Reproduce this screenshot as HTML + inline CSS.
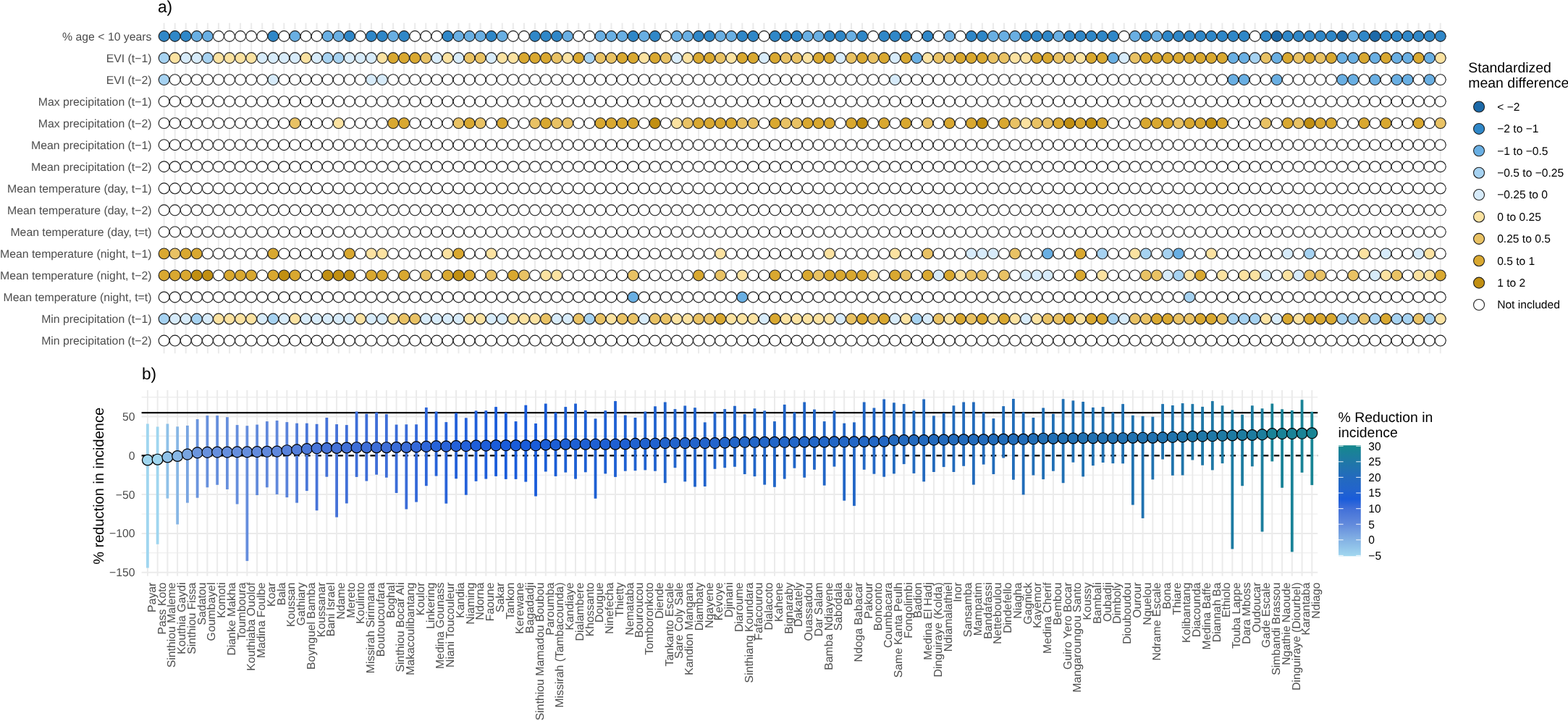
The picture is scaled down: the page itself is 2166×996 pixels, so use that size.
<!DOCTYPE html><html><head><meta charset="utf-8"><title>Figure</title><style>html,body{margin:0;padding:0;background:#fff;}svg{display:block;}text{font-family:'Liberation Sans', Arial, Helvetica, sans-serif;text-rendering:geometricPrecision;}</style></head><body>
<svg width="2166" height="996" viewBox="0 0 2166 996">
<rect width="2166" height="996" fill="#fff"/>
<g>
<line x1="226.60" y1="31.7" x2="226.60" y2="488.2" stroke="#ebebeb" stroke-width="2"/>
<line x1="241.67" y1="31.7" x2="241.67" y2="488.2" stroke="#ebebeb" stroke-width="2"/>
<line x1="256.74" y1="31.7" x2="256.74" y2="488.2" stroke="#ebebeb" stroke-width="2"/>
<line x1="271.81" y1="31.7" x2="271.81" y2="488.2" stroke="#ebebeb" stroke-width="2"/>
<line x1="286.88" y1="31.7" x2="286.88" y2="488.2" stroke="#ebebeb" stroke-width="2"/>
<line x1="301.95" y1="31.7" x2="301.95" y2="488.2" stroke="#ebebeb" stroke-width="2"/>
<line x1="317.02" y1="31.7" x2="317.02" y2="488.2" stroke="#ebebeb" stroke-width="2"/>
<line x1="332.09" y1="31.7" x2="332.09" y2="488.2" stroke="#ebebeb" stroke-width="2"/>
<line x1="347.16" y1="31.7" x2="347.16" y2="488.2" stroke="#ebebeb" stroke-width="2"/>
<line x1="362.23" y1="31.7" x2="362.23" y2="488.2" stroke="#ebebeb" stroke-width="2"/>
<line x1="377.30" y1="31.7" x2="377.30" y2="488.2" stroke="#ebebeb" stroke-width="2"/>
<line x1="392.37" y1="31.7" x2="392.37" y2="488.2" stroke="#ebebeb" stroke-width="2"/>
<line x1="407.44" y1="31.7" x2="407.44" y2="488.2" stroke="#ebebeb" stroke-width="2"/>
<line x1="422.51" y1="31.7" x2="422.51" y2="488.2" stroke="#ebebeb" stroke-width="2"/>
<line x1="437.58" y1="31.7" x2="437.58" y2="488.2" stroke="#ebebeb" stroke-width="2"/>
<line x1="452.65" y1="31.7" x2="452.65" y2="488.2" stroke="#ebebeb" stroke-width="2"/>
<line x1="467.72" y1="31.7" x2="467.72" y2="488.2" stroke="#ebebeb" stroke-width="2"/>
<line x1="482.79" y1="31.7" x2="482.79" y2="488.2" stroke="#ebebeb" stroke-width="2"/>
<line x1="497.86" y1="31.7" x2="497.86" y2="488.2" stroke="#ebebeb" stroke-width="2"/>
<line x1="512.93" y1="31.7" x2="512.93" y2="488.2" stroke="#ebebeb" stroke-width="2"/>
<line x1="528.00" y1="31.7" x2="528.00" y2="488.2" stroke="#ebebeb" stroke-width="2"/>
<line x1="543.07" y1="31.7" x2="543.07" y2="488.2" stroke="#ebebeb" stroke-width="2"/>
<line x1="558.14" y1="31.7" x2="558.14" y2="488.2" stroke="#ebebeb" stroke-width="2"/>
<line x1="573.21" y1="31.7" x2="573.21" y2="488.2" stroke="#ebebeb" stroke-width="2"/>
<line x1="588.28" y1="31.7" x2="588.28" y2="488.2" stroke="#ebebeb" stroke-width="2"/>
<line x1="603.35" y1="31.7" x2="603.35" y2="488.2" stroke="#ebebeb" stroke-width="2"/>
<line x1="618.42" y1="31.7" x2="618.42" y2="488.2" stroke="#ebebeb" stroke-width="2"/>
<line x1="633.49" y1="31.7" x2="633.49" y2="488.2" stroke="#ebebeb" stroke-width="2"/>
<line x1="648.56" y1="31.7" x2="648.56" y2="488.2" stroke="#ebebeb" stroke-width="2"/>
<line x1="663.63" y1="31.7" x2="663.63" y2="488.2" stroke="#ebebeb" stroke-width="2"/>
<line x1="678.70" y1="31.7" x2="678.70" y2="488.2" stroke="#ebebeb" stroke-width="2"/>
<line x1="693.77" y1="31.7" x2="693.77" y2="488.2" stroke="#ebebeb" stroke-width="2"/>
<line x1="708.84" y1="31.7" x2="708.84" y2="488.2" stroke="#ebebeb" stroke-width="2"/>
<line x1="723.91" y1="31.7" x2="723.91" y2="488.2" stroke="#ebebeb" stroke-width="2"/>
<line x1="738.98" y1="31.7" x2="738.98" y2="488.2" stroke="#ebebeb" stroke-width="2"/>
<line x1="754.05" y1="31.7" x2="754.05" y2="488.2" stroke="#ebebeb" stroke-width="2"/>
<line x1="769.12" y1="31.7" x2="769.12" y2="488.2" stroke="#ebebeb" stroke-width="2"/>
<line x1="784.19" y1="31.7" x2="784.19" y2="488.2" stroke="#ebebeb" stroke-width="2"/>
<line x1="799.26" y1="31.7" x2="799.26" y2="488.2" stroke="#ebebeb" stroke-width="2"/>
<line x1="814.33" y1="31.7" x2="814.33" y2="488.2" stroke="#ebebeb" stroke-width="2"/>
<line x1="829.40" y1="31.7" x2="829.40" y2="488.2" stroke="#ebebeb" stroke-width="2"/>
<line x1="844.47" y1="31.7" x2="844.47" y2="488.2" stroke="#ebebeb" stroke-width="2"/>
<line x1="859.54" y1="31.7" x2="859.54" y2="488.2" stroke="#ebebeb" stroke-width="2"/>
<line x1="874.61" y1="31.7" x2="874.61" y2="488.2" stroke="#ebebeb" stroke-width="2"/>
<line x1="889.68" y1="31.7" x2="889.68" y2="488.2" stroke="#ebebeb" stroke-width="2"/>
<line x1="904.75" y1="31.7" x2="904.75" y2="488.2" stroke="#ebebeb" stroke-width="2"/>
<line x1="919.82" y1="31.7" x2="919.82" y2="488.2" stroke="#ebebeb" stroke-width="2"/>
<line x1="934.89" y1="31.7" x2="934.89" y2="488.2" stroke="#ebebeb" stroke-width="2"/>
<line x1="949.96" y1="31.7" x2="949.96" y2="488.2" stroke="#ebebeb" stroke-width="2"/>
<line x1="965.03" y1="31.7" x2="965.03" y2="488.2" stroke="#ebebeb" stroke-width="2"/>
<line x1="980.10" y1="31.7" x2="980.10" y2="488.2" stroke="#ebebeb" stroke-width="2"/>
<line x1="995.17" y1="31.7" x2="995.17" y2="488.2" stroke="#ebebeb" stroke-width="2"/>
<line x1="1010.24" y1="31.7" x2="1010.24" y2="488.2" stroke="#ebebeb" stroke-width="2"/>
<line x1="1025.31" y1="31.7" x2="1025.31" y2="488.2" stroke="#ebebeb" stroke-width="2"/>
<line x1="1040.38" y1="31.7" x2="1040.38" y2="488.2" stroke="#ebebeb" stroke-width="2"/>
<line x1="1055.45" y1="31.7" x2="1055.45" y2="488.2" stroke="#ebebeb" stroke-width="2"/>
<line x1="1070.52" y1="31.7" x2="1070.52" y2="488.2" stroke="#ebebeb" stroke-width="2"/>
<line x1="1085.59" y1="31.7" x2="1085.59" y2="488.2" stroke="#ebebeb" stroke-width="2"/>
<line x1="1100.66" y1="31.7" x2="1100.66" y2="488.2" stroke="#ebebeb" stroke-width="2"/>
<line x1="1115.73" y1="31.7" x2="1115.73" y2="488.2" stroke="#ebebeb" stroke-width="2"/>
<line x1="1130.80" y1="31.7" x2="1130.80" y2="488.2" stroke="#ebebeb" stroke-width="2"/>
<line x1="1145.87" y1="31.7" x2="1145.87" y2="488.2" stroke="#ebebeb" stroke-width="2"/>
<line x1="1160.94" y1="31.7" x2="1160.94" y2="488.2" stroke="#ebebeb" stroke-width="2"/>
<line x1="1176.01" y1="31.7" x2="1176.01" y2="488.2" stroke="#ebebeb" stroke-width="2"/>
<line x1="1191.08" y1="31.7" x2="1191.08" y2="488.2" stroke="#ebebeb" stroke-width="2"/>
<line x1="1206.15" y1="31.7" x2="1206.15" y2="488.2" stroke="#ebebeb" stroke-width="2"/>
<line x1="1221.22" y1="31.7" x2="1221.22" y2="488.2" stroke="#ebebeb" stroke-width="2"/>
<line x1="1236.29" y1="31.7" x2="1236.29" y2="488.2" stroke="#ebebeb" stroke-width="2"/>
<line x1="1251.36" y1="31.7" x2="1251.36" y2="488.2" stroke="#ebebeb" stroke-width="2"/>
<line x1="1266.43" y1="31.7" x2="1266.43" y2="488.2" stroke="#ebebeb" stroke-width="2"/>
<line x1="1281.50" y1="31.7" x2="1281.50" y2="488.2" stroke="#ebebeb" stroke-width="2"/>
<line x1="1296.57" y1="31.7" x2="1296.57" y2="488.2" stroke="#ebebeb" stroke-width="2"/>
<line x1="1311.64" y1="31.7" x2="1311.64" y2="488.2" stroke="#ebebeb" stroke-width="2"/>
<line x1="1326.71" y1="31.7" x2="1326.71" y2="488.2" stroke="#ebebeb" stroke-width="2"/>
<line x1="1341.78" y1="31.7" x2="1341.78" y2="488.2" stroke="#ebebeb" stroke-width="2"/>
<line x1="1356.85" y1="31.7" x2="1356.85" y2="488.2" stroke="#ebebeb" stroke-width="2"/>
<line x1="1371.92" y1="31.7" x2="1371.92" y2="488.2" stroke="#ebebeb" stroke-width="2"/>
<line x1="1386.99" y1="31.7" x2="1386.99" y2="488.2" stroke="#ebebeb" stroke-width="2"/>
<line x1="1402.06" y1="31.7" x2="1402.06" y2="488.2" stroke="#ebebeb" stroke-width="2"/>
<line x1="1417.13" y1="31.7" x2="1417.13" y2="488.2" stroke="#ebebeb" stroke-width="2"/>
<line x1="1432.20" y1="31.7" x2="1432.20" y2="488.2" stroke="#ebebeb" stroke-width="2"/>
<line x1="1447.27" y1="31.7" x2="1447.27" y2="488.2" stroke="#ebebeb" stroke-width="2"/>
<line x1="1462.34" y1="31.7" x2="1462.34" y2="488.2" stroke="#ebebeb" stroke-width="2"/>
<line x1="1477.41" y1="31.7" x2="1477.41" y2="488.2" stroke="#ebebeb" stroke-width="2"/>
<line x1="1492.48" y1="31.7" x2="1492.48" y2="488.2" stroke="#ebebeb" stroke-width="2"/>
<line x1="1507.55" y1="31.7" x2="1507.55" y2="488.2" stroke="#ebebeb" stroke-width="2"/>
<line x1="1522.62" y1="31.7" x2="1522.62" y2="488.2" stroke="#ebebeb" stroke-width="2"/>
<line x1="1537.69" y1="31.7" x2="1537.69" y2="488.2" stroke="#ebebeb" stroke-width="2"/>
<line x1="1552.76" y1="31.7" x2="1552.76" y2="488.2" stroke="#ebebeb" stroke-width="2"/>
<line x1="1567.83" y1="31.7" x2="1567.83" y2="488.2" stroke="#ebebeb" stroke-width="2"/>
<line x1="1582.90" y1="31.7" x2="1582.90" y2="488.2" stroke="#ebebeb" stroke-width="2"/>
<line x1="1597.97" y1="31.7" x2="1597.97" y2="488.2" stroke="#ebebeb" stroke-width="2"/>
<line x1="1613.04" y1="31.7" x2="1613.04" y2="488.2" stroke="#ebebeb" stroke-width="2"/>
<line x1="1628.11" y1="31.7" x2="1628.11" y2="488.2" stroke="#ebebeb" stroke-width="2"/>
<line x1="1643.18" y1="31.7" x2="1643.18" y2="488.2" stroke="#ebebeb" stroke-width="2"/>
<line x1="1658.25" y1="31.7" x2="1658.25" y2="488.2" stroke="#ebebeb" stroke-width="2"/>
<line x1="1673.32" y1="31.7" x2="1673.32" y2="488.2" stroke="#ebebeb" stroke-width="2"/>
<line x1="1688.39" y1="31.7" x2="1688.39" y2="488.2" stroke="#ebebeb" stroke-width="2"/>
<line x1="1703.46" y1="31.7" x2="1703.46" y2="488.2" stroke="#ebebeb" stroke-width="2"/>
<line x1="1718.53" y1="31.7" x2="1718.53" y2="488.2" stroke="#ebebeb" stroke-width="2"/>
<line x1="1733.60" y1="31.7" x2="1733.60" y2="488.2" stroke="#ebebeb" stroke-width="2"/>
<line x1="1748.67" y1="31.7" x2="1748.67" y2="488.2" stroke="#ebebeb" stroke-width="2"/>
<line x1="1763.74" y1="31.7" x2="1763.74" y2="488.2" stroke="#ebebeb" stroke-width="2"/>
<line x1="1778.81" y1="31.7" x2="1778.81" y2="488.2" stroke="#ebebeb" stroke-width="2"/>
<line x1="1793.88" y1="31.7" x2="1793.88" y2="488.2" stroke="#ebebeb" stroke-width="2"/>
<line x1="1808.95" y1="31.7" x2="1808.95" y2="488.2" stroke="#ebebeb" stroke-width="2"/>
<line x1="1824.02" y1="31.7" x2="1824.02" y2="488.2" stroke="#ebebeb" stroke-width="2"/>
<line x1="1839.09" y1="31.7" x2="1839.09" y2="488.2" stroke="#ebebeb" stroke-width="2"/>
<line x1="1854.16" y1="31.7" x2="1854.16" y2="488.2" stroke="#ebebeb" stroke-width="2"/>
<line x1="1869.23" y1="31.7" x2="1869.23" y2="488.2" stroke="#ebebeb" stroke-width="2"/>
<line x1="1884.30" y1="31.7" x2="1884.30" y2="488.2" stroke="#ebebeb" stroke-width="2"/>
<line x1="1899.37" y1="31.7" x2="1899.37" y2="488.2" stroke="#ebebeb" stroke-width="2"/>
<line x1="1914.44" y1="31.7" x2="1914.44" y2="488.2" stroke="#ebebeb" stroke-width="2"/>
<line x1="1929.51" y1="31.7" x2="1929.51" y2="488.2" stroke="#ebebeb" stroke-width="2"/>
<line x1="1944.58" y1="31.7" x2="1944.58" y2="488.2" stroke="#ebebeb" stroke-width="2"/>
<line x1="1959.65" y1="31.7" x2="1959.65" y2="488.2" stroke="#ebebeb" stroke-width="2"/>
<line x1="1974.72" y1="31.7" x2="1974.72" y2="488.2" stroke="#ebebeb" stroke-width="2"/>
<line x1="1989.79" y1="31.7" x2="1989.79" y2="488.2" stroke="#ebebeb" stroke-width="2"/>
<line x1="217.56" y1="50.00" x2="1998.83" y2="50.00" stroke="#ebebeb" stroke-width="2"/>
<line x1="217.56" y1="80.04" x2="1998.83" y2="80.04" stroke="#ebebeb" stroke-width="2"/>
<line x1="217.56" y1="110.08" x2="1998.83" y2="110.08" stroke="#ebebeb" stroke-width="2"/>
<line x1="217.56" y1="140.12" x2="1998.83" y2="140.12" stroke="#ebebeb" stroke-width="2"/>
<line x1="217.56" y1="170.16" x2="1998.83" y2="170.16" stroke="#ebebeb" stroke-width="2"/>
<line x1="217.56" y1="200.20" x2="1998.83" y2="200.20" stroke="#ebebeb" stroke-width="2"/>
<line x1="217.56" y1="230.24" x2="1998.83" y2="230.24" stroke="#ebebeb" stroke-width="2"/>
<line x1="217.56" y1="260.28" x2="1998.83" y2="260.28" stroke="#ebebeb" stroke-width="2"/>
<line x1="217.56" y1="290.32" x2="1998.83" y2="290.32" stroke="#ebebeb" stroke-width="2"/>
<line x1="217.56" y1="320.36" x2="1998.83" y2="320.36" stroke="#ebebeb" stroke-width="2"/>
<line x1="217.56" y1="350.40" x2="1998.83" y2="350.40" stroke="#ebebeb" stroke-width="2"/>
<line x1="217.56" y1="380.44" x2="1998.83" y2="380.44" stroke="#ebebeb" stroke-width="2"/>
<line x1="217.56" y1="410.48" x2="1998.83" y2="410.48" stroke="#ebebeb" stroke-width="2"/>
<line x1="217.56" y1="440.52" x2="1998.83" y2="440.52" stroke="#ebebeb" stroke-width="2"/>
<line x1="217.56" y1="470.56" x2="1998.83" y2="470.56" stroke="#ebebeb" stroke-width="2"/>
</g>
<g stroke="#1f1f1f" stroke-width="1.1">
<circle cx="226.60" cy="50.00" r="7.4" fill="#2f87c8"/>
<circle cx="241.67" cy="50.00" r="7.4" fill="#2f87c8"/>
<circle cx="256.74" cy="50.00" r="7.4" fill="#2f87c8"/>
<circle cx="271.81" cy="50.00" r="7.4" fill="#69afe3"/>
<circle cx="286.88" cy="50.00" r="7.4" fill="#69afe3"/>
<circle cx="301.95" cy="50.00" r="7.4" fill="#ffffff"/>
<circle cx="317.02" cy="50.00" r="7.4" fill="#ffffff"/>
<circle cx="332.09" cy="50.00" r="7.4" fill="#ffffff"/>
<circle cx="347.16" cy="50.00" r="7.4" fill="#ffffff"/>
<circle cx="362.23" cy="50.00" r="7.4" fill="#ffffff"/>
<circle cx="377.30" cy="50.00" r="7.4" fill="#2f87c8"/>
<circle cx="392.37" cy="50.00" r="7.4" fill="#ffffff"/>
<circle cx="407.44" cy="50.00" r="7.4" fill="#69afe3"/>
<circle cx="422.51" cy="50.00" r="7.4" fill="#ffffff"/>
<circle cx="437.58" cy="50.00" r="7.4" fill="#ffffff"/>
<circle cx="452.65" cy="50.00" r="7.4" fill="#69afe3"/>
<circle cx="467.72" cy="50.00" r="7.4" fill="#69afe3"/>
<circle cx="482.79" cy="50.00" r="7.4" fill="#2f87c8"/>
<circle cx="497.86" cy="50.00" r="7.4" fill="#ffffff"/>
<circle cx="512.93" cy="50.00" r="7.4" fill="#2f87c8"/>
<circle cx="528.00" cy="50.00" r="7.4" fill="#2f87c8"/>
<circle cx="543.07" cy="50.00" r="7.4" fill="#69afe3"/>
<circle cx="558.14" cy="50.00" r="7.4" fill="#2f87c8"/>
<circle cx="573.21" cy="50.00" r="7.4" fill="#ffffff"/>
<circle cx="588.28" cy="50.00" r="7.4" fill="#ffffff"/>
<circle cx="603.35" cy="50.00" r="7.4" fill="#ffffff"/>
<circle cx="618.42" cy="50.00" r="7.4" fill="#2f87c8"/>
<circle cx="633.49" cy="50.00" r="7.4" fill="#69afe3"/>
<circle cx="648.56" cy="50.00" r="7.4" fill="#69afe3"/>
<circle cx="663.63" cy="50.00" r="7.4" fill="#69afe3"/>
<circle cx="678.70" cy="50.00" r="7.4" fill="#2f87c8"/>
<circle cx="693.77" cy="50.00" r="7.4" fill="#69afe3"/>
<circle cx="708.84" cy="50.00" r="7.4" fill="#ffffff"/>
<circle cx="723.91" cy="50.00" r="7.4" fill="#ffffff"/>
<circle cx="738.98" cy="50.00" r="7.4" fill="#2f87c8"/>
<circle cx="754.05" cy="50.00" r="7.4" fill="#2f87c8"/>
<circle cx="769.12" cy="50.00" r="7.4" fill="#2f87c8"/>
<circle cx="784.19" cy="50.00" r="7.4" fill="#69afe3"/>
<circle cx="799.26" cy="50.00" r="7.4" fill="#ffffff"/>
<circle cx="814.33" cy="50.00" r="7.4" fill="#ffffff"/>
<circle cx="829.40" cy="50.00" r="7.4" fill="#69afe3"/>
<circle cx="844.47" cy="50.00" r="7.4" fill="#69afe3"/>
<circle cx="859.54" cy="50.00" r="7.4" fill="#69afe3"/>
<circle cx="874.61" cy="50.00" r="7.4" fill="#2f87c8"/>
<circle cx="889.68" cy="50.00" r="7.4" fill="#69afe3"/>
<circle cx="904.75" cy="50.00" r="7.4" fill="#2f87c8"/>
<circle cx="919.82" cy="50.00" r="7.4" fill="#ffffff"/>
<circle cx="934.89" cy="50.00" r="7.4" fill="#69afe3"/>
<circle cx="949.96" cy="50.00" r="7.4" fill="#69afe3"/>
<circle cx="965.03" cy="50.00" r="7.4" fill="#2f87c8"/>
<circle cx="980.10" cy="50.00" r="7.4" fill="#2f87c8"/>
<circle cx="995.17" cy="50.00" r="7.4" fill="#69afe3"/>
<circle cx="1010.24" cy="50.00" r="7.4" fill="#69afe3"/>
<circle cx="1025.31" cy="50.00" r="7.4" fill="#2f87c8"/>
<circle cx="1040.38" cy="50.00" r="7.4" fill="#2f87c8"/>
<circle cx="1055.45" cy="50.00" r="7.4" fill="#ffffff"/>
<circle cx="1070.52" cy="50.00" r="7.4" fill="#2f87c8"/>
<circle cx="1085.59" cy="50.00" r="7.4" fill="#2f87c8"/>
<circle cx="1100.66" cy="50.00" r="7.4" fill="#2f87c8"/>
<circle cx="1115.73" cy="50.00" r="7.4" fill="#69afe3"/>
<circle cx="1130.80" cy="50.00" r="7.4" fill="#69afe3"/>
<circle cx="1145.87" cy="50.00" r="7.4" fill="#2f87c8"/>
<circle cx="1160.94" cy="50.00" r="7.4" fill="#2f87c8"/>
<circle cx="1176.01" cy="50.00" r="7.4" fill="#69afe3"/>
<circle cx="1191.08" cy="50.00" r="7.4" fill="#2f87c8"/>
<circle cx="1206.15" cy="50.00" r="7.4" fill="#ffffff"/>
<circle cx="1221.22" cy="50.00" r="7.4" fill="#2f87c8"/>
<circle cx="1236.29" cy="50.00" r="7.4" fill="#2f87c8"/>
<circle cx="1251.36" cy="50.00" r="7.4" fill="#2f87c8"/>
<circle cx="1266.43" cy="50.00" r="7.4" fill="#ffffff"/>
<circle cx="1281.50" cy="50.00" r="7.4" fill="#2f87c8"/>
<circle cx="1296.57" cy="50.00" r="7.4" fill="#ffffff"/>
<circle cx="1311.64" cy="50.00" r="7.4" fill="#69afe3"/>
<circle cx="1326.71" cy="50.00" r="7.4" fill="#ffffff"/>
<circle cx="1341.78" cy="50.00" r="7.4" fill="#2f87c8"/>
<circle cx="1356.85" cy="50.00" r="7.4" fill="#2f87c8"/>
<circle cx="1371.92" cy="50.00" r="7.4" fill="#69afe3"/>
<circle cx="1386.99" cy="50.00" r="7.4" fill="#69afe3"/>
<circle cx="1402.06" cy="50.00" r="7.4" fill="#69afe3"/>
<circle cx="1417.13" cy="50.00" r="7.4" fill="#2f87c8"/>
<circle cx="1432.20" cy="50.00" r="7.4" fill="#2f87c8"/>
<circle cx="1447.27" cy="50.00" r="7.4" fill="#2f87c8"/>
<circle cx="1462.34" cy="50.00" r="7.4" fill="#69afe3"/>
<circle cx="1477.41" cy="50.00" r="7.4" fill="#2f87c8"/>
<circle cx="1492.48" cy="50.00" r="7.4" fill="#2f87c8"/>
<circle cx="1507.55" cy="50.00" r="7.4" fill="#2f87c8"/>
<circle cx="1522.62" cy="50.00" r="7.4" fill="#2f87c8"/>
<circle cx="1537.69" cy="50.00" r="7.4" fill="#2f87c8"/>
<circle cx="1552.76" cy="50.00" r="7.4" fill="#ffffff"/>
<circle cx="1567.83" cy="50.00" r="7.4" fill="#69afe3"/>
<circle cx="1582.90" cy="50.00" r="7.4" fill="#2f87c8"/>
<circle cx="1597.97" cy="50.00" r="7.4" fill="#69afe3"/>
<circle cx="1613.04" cy="50.00" r="7.4" fill="#2f87c8"/>
<circle cx="1628.11" cy="50.00" r="7.4" fill="#2f87c8"/>
<circle cx="1643.18" cy="50.00" r="7.4" fill="#2f87c8"/>
<circle cx="1658.25" cy="50.00" r="7.4" fill="#2f87c8"/>
<circle cx="1673.32" cy="50.00" r="7.4" fill="#2f87c8"/>
<circle cx="1688.39" cy="50.00" r="7.4" fill="#2f87c8"/>
<circle cx="1703.46" cy="50.00" r="7.4" fill="#2f87c8"/>
<circle cx="1718.53" cy="50.00" r="7.4" fill="#2f87c8"/>
<circle cx="1733.60" cy="50.00" r="7.4" fill="#ffffff"/>
<circle cx="1748.67" cy="50.00" r="7.4" fill="#2f87c8"/>
<circle cx="1763.74" cy="50.00" r="7.4" fill="#1c69a8"/>
<circle cx="1778.81" cy="50.00" r="7.4" fill="#2f87c8"/>
<circle cx="1793.88" cy="50.00" r="7.4" fill="#2f87c8"/>
<circle cx="1808.95" cy="50.00" r="7.4" fill="#2f87c8"/>
<circle cx="1824.02" cy="50.00" r="7.4" fill="#2f87c8"/>
<circle cx="1839.09" cy="50.00" r="7.4" fill="#2f87c8"/>
<circle cx="1854.16" cy="50.00" r="7.4" fill="#1c69a8"/>
<circle cx="1869.23" cy="50.00" r="7.4" fill="#69afe3"/>
<circle cx="1884.30" cy="50.00" r="7.4" fill="#2f87c8"/>
<circle cx="1899.37" cy="50.00" r="7.4" fill="#1c69a8"/>
<circle cx="1914.44" cy="50.00" r="7.4" fill="#2f87c8"/>
<circle cx="1929.51" cy="50.00" r="7.4" fill="#2f87c8"/>
<circle cx="1944.58" cy="50.00" r="7.4" fill="#2f87c8"/>
<circle cx="1959.65" cy="50.00" r="7.4" fill="#2f87c8"/>
<circle cx="1974.72" cy="50.00" r="7.4" fill="#2f87c8"/>
<circle cx="1989.79" cy="50.00" r="7.4" fill="#2f87c8"/>
<circle cx="226.60" cy="80.04" r="7.4" fill="#a6d2f1"/>
<circle cx="241.67" cy="80.04" r="7.4" fill="#fbe2a1"/>
<circle cx="256.74" cy="80.04" r="7.4" fill="#d7ebfa"/>
<circle cx="271.81" cy="80.04" r="7.4" fill="#d7ebfa"/>
<circle cx="286.88" cy="80.04" r="7.4" fill="#a6d2f1"/>
<circle cx="301.95" cy="80.04" r="7.4" fill="#fbe2a1"/>
<circle cx="317.02" cy="80.04" r="7.4" fill="#fbe2a1"/>
<circle cx="332.09" cy="80.04" r="7.4" fill="#fbe2a1"/>
<circle cx="347.16" cy="80.04" r="7.4" fill="#fbe2a1"/>
<circle cx="362.23" cy="80.04" r="7.4" fill="#d7ebfa"/>
<circle cx="377.30" cy="80.04" r="7.4" fill="#d7ebfa"/>
<circle cx="392.37" cy="80.04" r="7.4" fill="#d7ebfa"/>
<circle cx="407.44" cy="80.04" r="7.4" fill="#d7ebfa"/>
<circle cx="422.51" cy="80.04" r="7.4" fill="#fbe2a1"/>
<circle cx="437.58" cy="80.04" r="7.4" fill="#d7ebfa"/>
<circle cx="452.65" cy="80.04" r="7.4" fill="#a6d2f1"/>
<circle cx="467.72" cy="80.04" r="7.4" fill="#a6d2f1"/>
<circle cx="482.79" cy="80.04" r="7.4" fill="#d7ebfa"/>
<circle cx="497.86" cy="80.04" r="7.4" fill="#d7ebfa"/>
<circle cx="512.93" cy="80.04" r="7.4" fill="#d7ebfa"/>
<circle cx="528.00" cy="80.04" r="7.4" fill="#fbe2a1"/>
<circle cx="543.07" cy="80.04" r="7.4" fill="#d9a830"/>
<circle cx="558.14" cy="80.04" r="7.4" fill="#d9a830"/>
<circle cx="573.21" cy="80.04" r="7.4" fill="#d9a830"/>
<circle cx="588.28" cy="80.04" r="7.4" fill="#e9c264"/>
<circle cx="603.35" cy="80.04" r="7.4" fill="#d7ebfa"/>
<circle cx="618.42" cy="80.04" r="7.4" fill="#fbe2a1"/>
<circle cx="633.49" cy="80.04" r="7.4" fill="#d7ebfa"/>
<circle cx="648.56" cy="80.04" r="7.4" fill="#e9c264"/>
<circle cx="663.63" cy="80.04" r="7.4" fill="#e9c264"/>
<circle cx="678.70" cy="80.04" r="7.4" fill="#d7ebfa"/>
<circle cx="693.77" cy="80.04" r="7.4" fill="#fbe2a1"/>
<circle cx="708.84" cy="80.04" r="7.4" fill="#fbe2a1"/>
<circle cx="723.91" cy="80.04" r="7.4" fill="#d9a830"/>
<circle cx="738.98" cy="80.04" r="7.4" fill="#d9a830"/>
<circle cx="754.05" cy="80.04" r="7.4" fill="#d9a830"/>
<circle cx="769.12" cy="80.04" r="7.4" fill="#e9c264"/>
<circle cx="784.19" cy="80.04" r="7.4" fill="#fbe2a1"/>
<circle cx="799.26" cy="80.04" r="7.4" fill="#d9a830"/>
<circle cx="814.33" cy="80.04" r="7.4" fill="#a6d2f1"/>
<circle cx="829.40" cy="80.04" r="7.4" fill="#e9c264"/>
<circle cx="844.47" cy="80.04" r="7.4" fill="#e9c264"/>
<circle cx="859.54" cy="80.04" r="7.4" fill="#d9a830"/>
<circle cx="874.61" cy="80.04" r="7.4" fill="#d9a830"/>
<circle cx="889.68" cy="80.04" r="7.4" fill="#fbe2a1"/>
<circle cx="904.75" cy="80.04" r="7.4" fill="#d9a830"/>
<circle cx="919.82" cy="80.04" r="7.4" fill="#e9c264"/>
<circle cx="934.89" cy="80.04" r="7.4" fill="#d7ebfa"/>
<circle cx="949.96" cy="80.04" r="7.4" fill="#fbe2a1"/>
<circle cx="965.03" cy="80.04" r="7.4" fill="#d9a830"/>
<circle cx="980.10" cy="80.04" r="7.4" fill="#d9a830"/>
<circle cx="995.17" cy="80.04" r="7.4" fill="#e9c264"/>
<circle cx="1010.24" cy="80.04" r="7.4" fill="#fbe2a1"/>
<circle cx="1025.31" cy="80.04" r="7.4" fill="#d9a830"/>
<circle cx="1040.38" cy="80.04" r="7.4" fill="#d9a830"/>
<circle cx="1055.45" cy="80.04" r="7.4" fill="#d7ebfa"/>
<circle cx="1070.52" cy="80.04" r="7.4" fill="#d9a830"/>
<circle cx="1085.59" cy="80.04" r="7.4" fill="#e9c264"/>
<circle cx="1100.66" cy="80.04" r="7.4" fill="#e9c264"/>
<circle cx="1115.73" cy="80.04" r="7.4" fill="#fbe2a1"/>
<circle cx="1130.80" cy="80.04" r="7.4" fill="#d9a830"/>
<circle cx="1145.87" cy="80.04" r="7.4" fill="#d9a830"/>
<circle cx="1160.94" cy="80.04" r="7.4" fill="#d7ebfa"/>
<circle cx="1176.01" cy="80.04" r="7.4" fill="#e9c264"/>
<circle cx="1191.08" cy="80.04" r="7.4" fill="#d9a830"/>
<circle cx="1206.15" cy="80.04" r="7.4" fill="#e9c264"/>
<circle cx="1221.22" cy="80.04" r="7.4" fill="#d9a830"/>
<circle cx="1236.29" cy="80.04" r="7.4" fill="#d7ebfa"/>
<circle cx="1251.36" cy="80.04" r="7.4" fill="#d9a830"/>
<circle cx="1266.43" cy="80.04" r="7.4" fill="#69afe3"/>
<circle cx="1281.50" cy="80.04" r="7.4" fill="#fbe2a1"/>
<circle cx="1296.57" cy="80.04" r="7.4" fill="#e9c264"/>
<circle cx="1311.64" cy="80.04" r="7.4" fill="#e9c264"/>
<circle cx="1326.71" cy="80.04" r="7.4" fill="#d9a830"/>
<circle cx="1341.78" cy="80.04" r="7.4" fill="#d9a830"/>
<circle cx="1356.85" cy="80.04" r="7.4" fill="#d9a830"/>
<circle cx="1371.92" cy="80.04" r="7.4" fill="#e9c264"/>
<circle cx="1386.99" cy="80.04" r="7.4" fill="#e9c264"/>
<circle cx="1402.06" cy="80.04" r="7.4" fill="#fbe2a1"/>
<circle cx="1417.13" cy="80.04" r="7.4" fill="#fbe2a1"/>
<circle cx="1432.20" cy="80.04" r="7.4" fill="#d9a830"/>
<circle cx="1447.27" cy="80.04" r="7.4" fill="#d9a830"/>
<circle cx="1462.34" cy="80.04" r="7.4" fill="#e9c264"/>
<circle cx="1477.41" cy="80.04" r="7.4" fill="#e9c264"/>
<circle cx="1492.48" cy="80.04" r="7.4" fill="#fbe2a1"/>
<circle cx="1507.55" cy="80.04" r="7.4" fill="#d9a830"/>
<circle cx="1522.62" cy="80.04" r="7.4" fill="#d9a830"/>
<circle cx="1537.69" cy="80.04" r="7.4" fill="#69afe3"/>
<circle cx="1552.76" cy="80.04" r="7.4" fill="#d7ebfa"/>
<circle cx="1567.83" cy="80.04" r="7.4" fill="#e9c264"/>
<circle cx="1582.90" cy="80.04" r="7.4" fill="#d9a830"/>
<circle cx="1597.97" cy="80.04" r="7.4" fill="#d9a830"/>
<circle cx="1613.04" cy="80.04" r="7.4" fill="#d9a830"/>
<circle cx="1628.11" cy="80.04" r="7.4" fill="#d9a830"/>
<circle cx="1643.18" cy="80.04" r="7.4" fill="#d9a830"/>
<circle cx="1658.25" cy="80.04" r="7.4" fill="#d9a830"/>
<circle cx="1673.32" cy="80.04" r="7.4" fill="#d9a830"/>
<circle cx="1688.39" cy="80.04" r="7.4" fill="#d9a830"/>
<circle cx="1703.46" cy="80.04" r="7.4" fill="#69afe3"/>
<circle cx="1718.53" cy="80.04" r="7.4" fill="#69afe3"/>
<circle cx="1733.60" cy="80.04" r="7.4" fill="#a6d2f1"/>
<circle cx="1748.67" cy="80.04" r="7.4" fill="#e9c264"/>
<circle cx="1763.74" cy="80.04" r="7.4" fill="#69afe3"/>
<circle cx="1778.81" cy="80.04" r="7.4" fill="#d9a830"/>
<circle cx="1793.88" cy="80.04" r="7.4" fill="#e9c264"/>
<circle cx="1808.95" cy="80.04" r="7.4" fill="#d9a830"/>
<circle cx="1824.02" cy="80.04" r="7.4" fill="#e9c264"/>
<circle cx="1839.09" cy="80.04" r="7.4" fill="#d9a830"/>
<circle cx="1854.16" cy="80.04" r="7.4" fill="#69afe3"/>
<circle cx="1869.23" cy="80.04" r="7.4" fill="#69afe3"/>
<circle cx="1884.30" cy="80.04" r="7.4" fill="#d9a830"/>
<circle cx="1899.37" cy="80.04" r="7.4" fill="#69afe3"/>
<circle cx="1914.44" cy="80.04" r="7.4" fill="#d9a830"/>
<circle cx="1929.51" cy="80.04" r="7.4" fill="#69afe3"/>
<circle cx="1944.58" cy="80.04" r="7.4" fill="#69afe3"/>
<circle cx="1959.65" cy="80.04" r="7.4" fill="#d9a830"/>
<circle cx="1974.72" cy="80.04" r="7.4" fill="#69afe3"/>
<circle cx="1989.79" cy="80.04" r="7.4" fill="#fbe2a1"/>
<circle cx="226.60" cy="110.08" r="7.4" fill="#a6d2f1"/>
<circle cx="241.67" cy="110.08" r="7.4" fill="#ffffff"/>
<circle cx="256.74" cy="110.08" r="7.4" fill="#ffffff"/>
<circle cx="271.81" cy="110.08" r="7.4" fill="#ffffff"/>
<circle cx="286.88" cy="110.08" r="7.4" fill="#ffffff"/>
<circle cx="301.95" cy="110.08" r="7.4" fill="#ffffff"/>
<circle cx="317.02" cy="110.08" r="7.4" fill="#ffffff"/>
<circle cx="332.09" cy="110.08" r="7.4" fill="#ffffff"/>
<circle cx="347.16" cy="110.08" r="7.4" fill="#ffffff"/>
<circle cx="362.23" cy="110.08" r="7.4" fill="#ffffff"/>
<circle cx="377.30" cy="110.08" r="7.4" fill="#d7ebfa"/>
<circle cx="392.37" cy="110.08" r="7.4" fill="#ffffff"/>
<circle cx="407.44" cy="110.08" r="7.4" fill="#ffffff"/>
<circle cx="422.51" cy="110.08" r="7.4" fill="#ffffff"/>
<circle cx="437.58" cy="110.08" r="7.4" fill="#ffffff"/>
<circle cx="452.65" cy="110.08" r="7.4" fill="#ffffff"/>
<circle cx="467.72" cy="110.08" r="7.4" fill="#ffffff"/>
<circle cx="482.79" cy="110.08" r="7.4" fill="#ffffff"/>
<circle cx="497.86" cy="110.08" r="7.4" fill="#ffffff"/>
<circle cx="512.93" cy="110.08" r="7.4" fill="#d7ebfa"/>
<circle cx="528.00" cy="110.08" r="7.4" fill="#d7ebfa"/>
<circle cx="543.07" cy="110.08" r="7.4" fill="#ffffff"/>
<circle cx="558.14" cy="110.08" r="7.4" fill="#ffffff"/>
<circle cx="573.21" cy="110.08" r="7.4" fill="#ffffff"/>
<circle cx="588.28" cy="110.08" r="7.4" fill="#ffffff"/>
<circle cx="603.35" cy="110.08" r="7.4" fill="#ffffff"/>
<circle cx="618.42" cy="110.08" r="7.4" fill="#ffffff"/>
<circle cx="633.49" cy="110.08" r="7.4" fill="#ffffff"/>
<circle cx="648.56" cy="110.08" r="7.4" fill="#ffffff"/>
<circle cx="663.63" cy="110.08" r="7.4" fill="#ffffff"/>
<circle cx="678.70" cy="110.08" r="7.4" fill="#ffffff"/>
<circle cx="693.77" cy="110.08" r="7.4" fill="#ffffff"/>
<circle cx="708.84" cy="110.08" r="7.4" fill="#ffffff"/>
<circle cx="723.91" cy="110.08" r="7.4" fill="#ffffff"/>
<circle cx="738.98" cy="110.08" r="7.4" fill="#ffffff"/>
<circle cx="754.05" cy="110.08" r="7.4" fill="#ffffff"/>
<circle cx="769.12" cy="110.08" r="7.4" fill="#ffffff"/>
<circle cx="784.19" cy="110.08" r="7.4" fill="#ffffff"/>
<circle cx="799.26" cy="110.08" r="7.4" fill="#ffffff"/>
<circle cx="814.33" cy="110.08" r="7.4" fill="#ffffff"/>
<circle cx="829.40" cy="110.08" r="7.4" fill="#ffffff"/>
<circle cx="844.47" cy="110.08" r="7.4" fill="#ffffff"/>
<circle cx="859.54" cy="110.08" r="7.4" fill="#ffffff"/>
<circle cx="874.61" cy="110.08" r="7.4" fill="#ffffff"/>
<circle cx="889.68" cy="110.08" r="7.4" fill="#ffffff"/>
<circle cx="904.75" cy="110.08" r="7.4" fill="#ffffff"/>
<circle cx="919.82" cy="110.08" r="7.4" fill="#ffffff"/>
<circle cx="934.89" cy="110.08" r="7.4" fill="#ffffff"/>
<circle cx="949.96" cy="110.08" r="7.4" fill="#ffffff"/>
<circle cx="965.03" cy="110.08" r="7.4" fill="#ffffff"/>
<circle cx="980.10" cy="110.08" r="7.4" fill="#ffffff"/>
<circle cx="995.17" cy="110.08" r="7.4" fill="#ffffff"/>
<circle cx="1010.24" cy="110.08" r="7.4" fill="#ffffff"/>
<circle cx="1025.31" cy="110.08" r="7.4" fill="#ffffff"/>
<circle cx="1040.38" cy="110.08" r="7.4" fill="#ffffff"/>
<circle cx="1055.45" cy="110.08" r="7.4" fill="#ffffff"/>
<circle cx="1070.52" cy="110.08" r="7.4" fill="#ffffff"/>
<circle cx="1085.59" cy="110.08" r="7.4" fill="#ffffff"/>
<circle cx="1100.66" cy="110.08" r="7.4" fill="#ffffff"/>
<circle cx="1115.73" cy="110.08" r="7.4" fill="#ffffff"/>
<circle cx="1130.80" cy="110.08" r="7.4" fill="#ffffff"/>
<circle cx="1145.87" cy="110.08" r="7.4" fill="#ffffff"/>
<circle cx="1160.94" cy="110.08" r="7.4" fill="#ffffff"/>
<circle cx="1176.01" cy="110.08" r="7.4" fill="#ffffff"/>
<circle cx="1191.08" cy="110.08" r="7.4" fill="#ffffff"/>
<circle cx="1206.15" cy="110.08" r="7.4" fill="#ffffff"/>
<circle cx="1221.22" cy="110.08" r="7.4" fill="#ffffff"/>
<circle cx="1236.29" cy="110.08" r="7.4" fill="#d7ebfa"/>
<circle cx="1251.36" cy="110.08" r="7.4" fill="#ffffff"/>
<circle cx="1266.43" cy="110.08" r="7.4" fill="#ffffff"/>
<circle cx="1281.50" cy="110.08" r="7.4" fill="#ffffff"/>
<circle cx="1296.57" cy="110.08" r="7.4" fill="#ffffff"/>
<circle cx="1311.64" cy="110.08" r="7.4" fill="#ffffff"/>
<circle cx="1326.71" cy="110.08" r="7.4" fill="#ffffff"/>
<circle cx="1341.78" cy="110.08" r="7.4" fill="#ffffff"/>
<circle cx="1356.85" cy="110.08" r="7.4" fill="#ffffff"/>
<circle cx="1371.92" cy="110.08" r="7.4" fill="#ffffff"/>
<circle cx="1386.99" cy="110.08" r="7.4" fill="#ffffff"/>
<circle cx="1402.06" cy="110.08" r="7.4" fill="#ffffff"/>
<circle cx="1417.13" cy="110.08" r="7.4" fill="#ffffff"/>
<circle cx="1432.20" cy="110.08" r="7.4" fill="#ffffff"/>
<circle cx="1447.27" cy="110.08" r="7.4" fill="#ffffff"/>
<circle cx="1462.34" cy="110.08" r="7.4" fill="#ffffff"/>
<circle cx="1477.41" cy="110.08" r="7.4" fill="#ffffff"/>
<circle cx="1492.48" cy="110.08" r="7.4" fill="#ffffff"/>
<circle cx="1507.55" cy="110.08" r="7.4" fill="#ffffff"/>
<circle cx="1522.62" cy="110.08" r="7.4" fill="#ffffff"/>
<circle cx="1537.69" cy="110.08" r="7.4" fill="#ffffff"/>
<circle cx="1552.76" cy="110.08" r="7.4" fill="#ffffff"/>
<circle cx="1567.83" cy="110.08" r="7.4" fill="#ffffff"/>
<circle cx="1582.90" cy="110.08" r="7.4" fill="#ffffff"/>
<circle cx="1597.97" cy="110.08" r="7.4" fill="#ffffff"/>
<circle cx="1613.04" cy="110.08" r="7.4" fill="#ffffff"/>
<circle cx="1628.11" cy="110.08" r="7.4" fill="#ffffff"/>
<circle cx="1643.18" cy="110.08" r="7.4" fill="#ffffff"/>
<circle cx="1658.25" cy="110.08" r="7.4" fill="#ffffff"/>
<circle cx="1673.32" cy="110.08" r="7.4" fill="#ffffff"/>
<circle cx="1688.39" cy="110.08" r="7.4" fill="#ffffff"/>
<circle cx="1703.46" cy="110.08" r="7.4" fill="#69afe3"/>
<circle cx="1718.53" cy="110.08" r="7.4" fill="#69afe3"/>
<circle cx="1733.60" cy="110.08" r="7.4" fill="#ffffff"/>
<circle cx="1748.67" cy="110.08" r="7.4" fill="#ffffff"/>
<circle cx="1763.74" cy="110.08" r="7.4" fill="#69afe3"/>
<circle cx="1778.81" cy="110.08" r="7.4" fill="#ffffff"/>
<circle cx="1793.88" cy="110.08" r="7.4" fill="#ffffff"/>
<circle cx="1808.95" cy="110.08" r="7.4" fill="#ffffff"/>
<circle cx="1824.02" cy="110.08" r="7.4" fill="#ffffff"/>
<circle cx="1839.09" cy="110.08" r="7.4" fill="#ffffff"/>
<circle cx="1854.16" cy="110.08" r="7.4" fill="#69afe3"/>
<circle cx="1869.23" cy="110.08" r="7.4" fill="#69afe3"/>
<circle cx="1884.30" cy="110.08" r="7.4" fill="#ffffff"/>
<circle cx="1899.37" cy="110.08" r="7.4" fill="#69afe3"/>
<circle cx="1914.44" cy="110.08" r="7.4" fill="#ffffff"/>
<circle cx="1929.51" cy="110.08" r="7.4" fill="#69afe3"/>
<circle cx="1944.58" cy="110.08" r="7.4" fill="#69afe3"/>
<circle cx="1959.65" cy="110.08" r="7.4" fill="#ffffff"/>
<circle cx="1974.72" cy="110.08" r="7.4" fill="#69afe3"/>
<circle cx="1989.79" cy="110.08" r="7.4" fill="#ffffff"/>
<circle cx="226.60" cy="140.12" r="7.4" fill="#ffffff"/>
<circle cx="241.67" cy="140.12" r="7.4" fill="#ffffff"/>
<circle cx="256.74" cy="140.12" r="7.4" fill="#ffffff"/>
<circle cx="271.81" cy="140.12" r="7.4" fill="#ffffff"/>
<circle cx="286.88" cy="140.12" r="7.4" fill="#ffffff"/>
<circle cx="301.95" cy="140.12" r="7.4" fill="#ffffff"/>
<circle cx="317.02" cy="140.12" r="7.4" fill="#ffffff"/>
<circle cx="332.09" cy="140.12" r="7.4" fill="#ffffff"/>
<circle cx="347.16" cy="140.12" r="7.4" fill="#ffffff"/>
<circle cx="362.23" cy="140.12" r="7.4" fill="#ffffff"/>
<circle cx="377.30" cy="140.12" r="7.4" fill="#ffffff"/>
<circle cx="392.37" cy="140.12" r="7.4" fill="#ffffff"/>
<circle cx="407.44" cy="140.12" r="7.4" fill="#ffffff"/>
<circle cx="422.51" cy="140.12" r="7.4" fill="#ffffff"/>
<circle cx="437.58" cy="140.12" r="7.4" fill="#ffffff"/>
<circle cx="452.65" cy="140.12" r="7.4" fill="#ffffff"/>
<circle cx="467.72" cy="140.12" r="7.4" fill="#ffffff"/>
<circle cx="482.79" cy="140.12" r="7.4" fill="#ffffff"/>
<circle cx="497.86" cy="140.12" r="7.4" fill="#ffffff"/>
<circle cx="512.93" cy="140.12" r="7.4" fill="#ffffff"/>
<circle cx="528.00" cy="140.12" r="7.4" fill="#ffffff"/>
<circle cx="543.07" cy="140.12" r="7.4" fill="#ffffff"/>
<circle cx="558.14" cy="140.12" r="7.4" fill="#ffffff"/>
<circle cx="573.21" cy="140.12" r="7.4" fill="#ffffff"/>
<circle cx="588.28" cy="140.12" r="7.4" fill="#ffffff"/>
<circle cx="603.35" cy="140.12" r="7.4" fill="#ffffff"/>
<circle cx="618.42" cy="140.12" r="7.4" fill="#ffffff"/>
<circle cx="633.49" cy="140.12" r="7.4" fill="#ffffff"/>
<circle cx="648.56" cy="140.12" r="7.4" fill="#ffffff"/>
<circle cx="663.63" cy="140.12" r="7.4" fill="#ffffff"/>
<circle cx="678.70" cy="140.12" r="7.4" fill="#ffffff"/>
<circle cx="693.77" cy="140.12" r="7.4" fill="#ffffff"/>
<circle cx="708.84" cy="140.12" r="7.4" fill="#ffffff"/>
<circle cx="723.91" cy="140.12" r="7.4" fill="#ffffff"/>
<circle cx="738.98" cy="140.12" r="7.4" fill="#ffffff"/>
<circle cx="754.05" cy="140.12" r="7.4" fill="#ffffff"/>
<circle cx="769.12" cy="140.12" r="7.4" fill="#ffffff"/>
<circle cx="784.19" cy="140.12" r="7.4" fill="#ffffff"/>
<circle cx="799.26" cy="140.12" r="7.4" fill="#ffffff"/>
<circle cx="814.33" cy="140.12" r="7.4" fill="#ffffff"/>
<circle cx="829.40" cy="140.12" r="7.4" fill="#ffffff"/>
<circle cx="844.47" cy="140.12" r="7.4" fill="#ffffff"/>
<circle cx="859.54" cy="140.12" r="7.4" fill="#ffffff"/>
<circle cx="874.61" cy="140.12" r="7.4" fill="#ffffff"/>
<circle cx="889.68" cy="140.12" r="7.4" fill="#ffffff"/>
<circle cx="904.75" cy="140.12" r="7.4" fill="#ffffff"/>
<circle cx="919.82" cy="140.12" r="7.4" fill="#ffffff"/>
<circle cx="934.89" cy="140.12" r="7.4" fill="#ffffff"/>
<circle cx="949.96" cy="140.12" r="7.4" fill="#ffffff"/>
<circle cx="965.03" cy="140.12" r="7.4" fill="#ffffff"/>
<circle cx="980.10" cy="140.12" r="7.4" fill="#ffffff"/>
<circle cx="995.17" cy="140.12" r="7.4" fill="#ffffff"/>
<circle cx="1010.24" cy="140.12" r="7.4" fill="#ffffff"/>
<circle cx="1025.31" cy="140.12" r="7.4" fill="#ffffff"/>
<circle cx="1040.38" cy="140.12" r="7.4" fill="#ffffff"/>
<circle cx="1055.45" cy="140.12" r="7.4" fill="#ffffff"/>
<circle cx="1070.52" cy="140.12" r="7.4" fill="#ffffff"/>
<circle cx="1085.59" cy="140.12" r="7.4" fill="#ffffff"/>
<circle cx="1100.66" cy="140.12" r="7.4" fill="#ffffff"/>
<circle cx="1115.73" cy="140.12" r="7.4" fill="#ffffff"/>
<circle cx="1130.80" cy="140.12" r="7.4" fill="#ffffff"/>
<circle cx="1145.87" cy="140.12" r="7.4" fill="#ffffff"/>
<circle cx="1160.94" cy="140.12" r="7.4" fill="#ffffff"/>
<circle cx="1176.01" cy="140.12" r="7.4" fill="#ffffff"/>
<circle cx="1191.08" cy="140.12" r="7.4" fill="#ffffff"/>
<circle cx="1206.15" cy="140.12" r="7.4" fill="#ffffff"/>
<circle cx="1221.22" cy="140.12" r="7.4" fill="#ffffff"/>
<circle cx="1236.29" cy="140.12" r="7.4" fill="#ffffff"/>
<circle cx="1251.36" cy="140.12" r="7.4" fill="#ffffff"/>
<circle cx="1266.43" cy="140.12" r="7.4" fill="#ffffff"/>
<circle cx="1281.50" cy="140.12" r="7.4" fill="#ffffff"/>
<circle cx="1296.57" cy="140.12" r="7.4" fill="#ffffff"/>
<circle cx="1311.64" cy="140.12" r="7.4" fill="#ffffff"/>
<circle cx="1326.71" cy="140.12" r="7.4" fill="#ffffff"/>
<circle cx="1341.78" cy="140.12" r="7.4" fill="#ffffff"/>
<circle cx="1356.85" cy="140.12" r="7.4" fill="#ffffff"/>
<circle cx="1371.92" cy="140.12" r="7.4" fill="#ffffff"/>
<circle cx="1386.99" cy="140.12" r="7.4" fill="#ffffff"/>
<circle cx="1402.06" cy="140.12" r="7.4" fill="#ffffff"/>
<circle cx="1417.13" cy="140.12" r="7.4" fill="#ffffff"/>
<circle cx="1432.20" cy="140.12" r="7.4" fill="#ffffff"/>
<circle cx="1447.27" cy="140.12" r="7.4" fill="#ffffff"/>
<circle cx="1462.34" cy="140.12" r="7.4" fill="#ffffff"/>
<circle cx="1477.41" cy="140.12" r="7.4" fill="#ffffff"/>
<circle cx="1492.48" cy="140.12" r="7.4" fill="#ffffff"/>
<circle cx="1507.55" cy="140.12" r="7.4" fill="#ffffff"/>
<circle cx="1522.62" cy="140.12" r="7.4" fill="#ffffff"/>
<circle cx="1537.69" cy="140.12" r="7.4" fill="#ffffff"/>
<circle cx="1552.76" cy="140.12" r="7.4" fill="#ffffff"/>
<circle cx="1567.83" cy="140.12" r="7.4" fill="#ffffff"/>
<circle cx="1582.90" cy="140.12" r="7.4" fill="#ffffff"/>
<circle cx="1597.97" cy="140.12" r="7.4" fill="#ffffff"/>
<circle cx="1613.04" cy="140.12" r="7.4" fill="#ffffff"/>
<circle cx="1628.11" cy="140.12" r="7.4" fill="#ffffff"/>
<circle cx="1643.18" cy="140.12" r="7.4" fill="#ffffff"/>
<circle cx="1658.25" cy="140.12" r="7.4" fill="#ffffff"/>
<circle cx="1673.32" cy="140.12" r="7.4" fill="#ffffff"/>
<circle cx="1688.39" cy="140.12" r="7.4" fill="#ffffff"/>
<circle cx="1703.46" cy="140.12" r="7.4" fill="#ffffff"/>
<circle cx="1718.53" cy="140.12" r="7.4" fill="#ffffff"/>
<circle cx="1733.60" cy="140.12" r="7.4" fill="#ffffff"/>
<circle cx="1748.67" cy="140.12" r="7.4" fill="#ffffff"/>
<circle cx="1763.74" cy="140.12" r="7.4" fill="#ffffff"/>
<circle cx="1778.81" cy="140.12" r="7.4" fill="#ffffff"/>
<circle cx="1793.88" cy="140.12" r="7.4" fill="#ffffff"/>
<circle cx="1808.95" cy="140.12" r="7.4" fill="#ffffff"/>
<circle cx="1824.02" cy="140.12" r="7.4" fill="#ffffff"/>
<circle cx="1839.09" cy="140.12" r="7.4" fill="#ffffff"/>
<circle cx="1854.16" cy="140.12" r="7.4" fill="#ffffff"/>
<circle cx="1869.23" cy="140.12" r="7.4" fill="#ffffff"/>
<circle cx="1884.30" cy="140.12" r="7.4" fill="#ffffff"/>
<circle cx="1899.37" cy="140.12" r="7.4" fill="#ffffff"/>
<circle cx="1914.44" cy="140.12" r="7.4" fill="#ffffff"/>
<circle cx="1929.51" cy="140.12" r="7.4" fill="#ffffff"/>
<circle cx="1944.58" cy="140.12" r="7.4" fill="#ffffff"/>
<circle cx="1959.65" cy="140.12" r="7.4" fill="#ffffff"/>
<circle cx="1974.72" cy="140.12" r="7.4" fill="#ffffff"/>
<circle cx="1989.79" cy="140.12" r="7.4" fill="#ffffff"/>
<circle cx="226.60" cy="170.16" r="7.4" fill="#ffffff"/>
<circle cx="241.67" cy="170.16" r="7.4" fill="#ffffff"/>
<circle cx="256.74" cy="170.16" r="7.4" fill="#ffffff"/>
<circle cx="271.81" cy="170.16" r="7.4" fill="#ffffff"/>
<circle cx="286.88" cy="170.16" r="7.4" fill="#ffffff"/>
<circle cx="301.95" cy="170.16" r="7.4" fill="#ffffff"/>
<circle cx="317.02" cy="170.16" r="7.4" fill="#ffffff"/>
<circle cx="332.09" cy="170.16" r="7.4" fill="#ffffff"/>
<circle cx="347.16" cy="170.16" r="7.4" fill="#ffffff"/>
<circle cx="362.23" cy="170.16" r="7.4" fill="#ffffff"/>
<circle cx="377.30" cy="170.16" r="7.4" fill="#ffffff"/>
<circle cx="392.37" cy="170.16" r="7.4" fill="#ffffff"/>
<circle cx="407.44" cy="170.16" r="7.4" fill="#e9c264"/>
<circle cx="422.51" cy="170.16" r="7.4" fill="#ffffff"/>
<circle cx="437.58" cy="170.16" r="7.4" fill="#ffffff"/>
<circle cx="452.65" cy="170.16" r="7.4" fill="#ffffff"/>
<circle cx="467.72" cy="170.16" r="7.4" fill="#fbe2a1"/>
<circle cx="482.79" cy="170.16" r="7.4" fill="#ffffff"/>
<circle cx="497.86" cy="170.16" r="7.4" fill="#ffffff"/>
<circle cx="512.93" cy="170.16" r="7.4" fill="#ffffff"/>
<circle cx="528.00" cy="170.16" r="7.4" fill="#ffffff"/>
<circle cx="543.07" cy="170.16" r="7.4" fill="#d9a830"/>
<circle cx="558.14" cy="170.16" r="7.4" fill="#d9a830"/>
<circle cx="573.21" cy="170.16" r="7.4" fill="#ffffff"/>
<circle cx="588.28" cy="170.16" r="7.4" fill="#ffffff"/>
<circle cx="603.35" cy="170.16" r="7.4" fill="#ffffff"/>
<circle cx="618.42" cy="170.16" r="7.4" fill="#ffffff"/>
<circle cx="633.49" cy="170.16" r="7.4" fill="#e9c264"/>
<circle cx="648.56" cy="170.16" r="7.4" fill="#d9a830"/>
<circle cx="663.63" cy="170.16" r="7.4" fill="#e9c264"/>
<circle cx="678.70" cy="170.16" r="7.4" fill="#ffffff"/>
<circle cx="693.77" cy="170.16" r="7.4" fill="#d9a830"/>
<circle cx="708.84" cy="170.16" r="7.4" fill="#ffffff"/>
<circle cx="723.91" cy="170.16" r="7.4" fill="#ffffff"/>
<circle cx="738.98" cy="170.16" r="7.4" fill="#e9c264"/>
<circle cx="754.05" cy="170.16" r="7.4" fill="#d9a830"/>
<circle cx="769.12" cy="170.16" r="7.4" fill="#e9c264"/>
<circle cx="784.19" cy="170.16" r="7.4" fill="#e9c264"/>
<circle cx="799.26" cy="170.16" r="7.4" fill="#ffffff"/>
<circle cx="814.33" cy="170.16" r="7.4" fill="#ffffff"/>
<circle cx="829.40" cy="170.16" r="7.4" fill="#d9a830"/>
<circle cx="844.47" cy="170.16" r="7.4" fill="#d9a830"/>
<circle cx="859.54" cy="170.16" r="7.4" fill="#d9a830"/>
<circle cx="874.61" cy="170.16" r="7.4" fill="#d9a830"/>
<circle cx="889.68" cy="170.16" r="7.4" fill="#ffffff"/>
<circle cx="904.75" cy="170.16" r="7.4" fill="#c18f12"/>
<circle cx="919.82" cy="170.16" r="7.4" fill="#ffffff"/>
<circle cx="934.89" cy="170.16" r="7.4" fill="#fbe2a1"/>
<circle cx="949.96" cy="170.16" r="7.4" fill="#e9c264"/>
<circle cx="965.03" cy="170.16" r="7.4" fill="#d9a830"/>
<circle cx="980.10" cy="170.16" r="7.4" fill="#d9a830"/>
<circle cx="995.17" cy="170.16" r="7.4" fill="#d9a830"/>
<circle cx="1010.24" cy="170.16" r="7.4" fill="#d9a830"/>
<circle cx="1025.31" cy="170.16" r="7.4" fill="#e9c264"/>
<circle cx="1040.38" cy="170.16" r="7.4" fill="#e9c264"/>
<circle cx="1055.45" cy="170.16" r="7.4" fill="#ffffff"/>
<circle cx="1070.52" cy="170.16" r="7.4" fill="#d9a830"/>
<circle cx="1085.59" cy="170.16" r="7.4" fill="#e9c264"/>
<circle cx="1100.66" cy="170.16" r="7.4" fill="#e9c264"/>
<circle cx="1115.73" cy="170.16" r="7.4" fill="#d9a830"/>
<circle cx="1130.80" cy="170.16" r="7.4" fill="#d9a830"/>
<circle cx="1145.87" cy="170.16" r="7.4" fill="#d9a830"/>
<circle cx="1160.94" cy="170.16" r="7.4" fill="#ffffff"/>
<circle cx="1176.01" cy="170.16" r="7.4" fill="#d9a830"/>
<circle cx="1191.08" cy="170.16" r="7.4" fill="#c18f12"/>
<circle cx="1206.15" cy="170.16" r="7.4" fill="#ffffff"/>
<circle cx="1221.22" cy="170.16" r="7.4" fill="#d9a830"/>
<circle cx="1236.29" cy="170.16" r="7.4" fill="#ffffff"/>
<circle cx="1251.36" cy="170.16" r="7.4" fill="#d9a830"/>
<circle cx="1266.43" cy="170.16" r="7.4" fill="#ffffff"/>
<circle cx="1281.50" cy="170.16" r="7.4" fill="#e9c264"/>
<circle cx="1296.57" cy="170.16" r="7.4" fill="#ffffff"/>
<circle cx="1311.64" cy="170.16" r="7.4" fill="#d9a830"/>
<circle cx="1326.71" cy="170.16" r="7.4" fill="#ffffff"/>
<circle cx="1341.78" cy="170.16" r="7.4" fill="#d9a830"/>
<circle cx="1356.85" cy="170.16" r="7.4" fill="#c18f12"/>
<circle cx="1371.92" cy="170.16" r="7.4" fill="#ffffff"/>
<circle cx="1386.99" cy="170.16" r="7.4" fill="#d9a830"/>
<circle cx="1402.06" cy="170.16" r="7.4" fill="#e9c264"/>
<circle cx="1417.13" cy="170.16" r="7.4" fill="#fbe2a1"/>
<circle cx="1432.20" cy="170.16" r="7.4" fill="#e9c264"/>
<circle cx="1447.27" cy="170.16" r="7.4" fill="#e9c264"/>
<circle cx="1462.34" cy="170.16" r="7.4" fill="#d9a830"/>
<circle cx="1477.41" cy="170.16" r="7.4" fill="#c18f12"/>
<circle cx="1492.48" cy="170.16" r="7.4" fill="#d9a830"/>
<circle cx="1507.55" cy="170.16" r="7.4" fill="#c18f12"/>
<circle cx="1522.62" cy="170.16" r="7.4" fill="#d9a830"/>
<circle cx="1537.69" cy="170.16" r="7.4" fill="#ffffff"/>
<circle cx="1552.76" cy="170.16" r="7.4" fill="#ffffff"/>
<circle cx="1567.83" cy="170.16" r="7.4" fill="#ffffff"/>
<circle cx="1582.90" cy="170.16" r="7.4" fill="#d9a830"/>
<circle cx="1597.97" cy="170.16" r="7.4" fill="#d9a830"/>
<circle cx="1613.04" cy="170.16" r="7.4" fill="#d9a830"/>
<circle cx="1628.11" cy="170.16" r="7.4" fill="#e9c264"/>
<circle cx="1643.18" cy="170.16" r="7.4" fill="#d9a830"/>
<circle cx="1658.25" cy="170.16" r="7.4" fill="#d9a830"/>
<circle cx="1673.32" cy="170.16" r="7.4" fill="#c18f12"/>
<circle cx="1688.39" cy="170.16" r="7.4" fill="#d9a830"/>
<circle cx="1703.46" cy="170.16" r="7.4" fill="#ffffff"/>
<circle cx="1718.53" cy="170.16" r="7.4" fill="#ffffff"/>
<circle cx="1733.60" cy="170.16" r="7.4" fill="#ffffff"/>
<circle cx="1748.67" cy="170.16" r="7.4" fill="#e9c264"/>
<circle cx="1763.74" cy="170.16" r="7.4" fill="#ffffff"/>
<circle cx="1778.81" cy="170.16" r="7.4" fill="#d9a830"/>
<circle cx="1793.88" cy="170.16" r="7.4" fill="#e9c264"/>
<circle cx="1808.95" cy="170.16" r="7.4" fill="#c18f12"/>
<circle cx="1824.02" cy="170.16" r="7.4" fill="#d9a830"/>
<circle cx="1839.09" cy="170.16" r="7.4" fill="#d9a830"/>
<circle cx="1854.16" cy="170.16" r="7.4" fill="#ffffff"/>
<circle cx="1869.23" cy="170.16" r="7.4" fill="#ffffff"/>
<circle cx="1884.30" cy="170.16" r="7.4" fill="#d9a830"/>
<circle cx="1899.37" cy="170.16" r="7.4" fill="#ffffff"/>
<circle cx="1914.44" cy="170.16" r="7.4" fill="#d9a830"/>
<circle cx="1929.51" cy="170.16" r="7.4" fill="#ffffff"/>
<circle cx="1944.58" cy="170.16" r="7.4" fill="#ffffff"/>
<circle cx="1959.65" cy="170.16" r="7.4" fill="#d9a830"/>
<circle cx="1974.72" cy="170.16" r="7.4" fill="#ffffff"/>
<circle cx="1989.79" cy="170.16" r="7.4" fill="#e9c264"/>
<circle cx="226.60" cy="200.20" r="7.4" fill="#ffffff"/>
<circle cx="241.67" cy="200.20" r="7.4" fill="#ffffff"/>
<circle cx="256.74" cy="200.20" r="7.4" fill="#ffffff"/>
<circle cx="271.81" cy="200.20" r="7.4" fill="#ffffff"/>
<circle cx="286.88" cy="200.20" r="7.4" fill="#ffffff"/>
<circle cx="301.95" cy="200.20" r="7.4" fill="#ffffff"/>
<circle cx="317.02" cy="200.20" r="7.4" fill="#ffffff"/>
<circle cx="332.09" cy="200.20" r="7.4" fill="#ffffff"/>
<circle cx="347.16" cy="200.20" r="7.4" fill="#ffffff"/>
<circle cx="362.23" cy="200.20" r="7.4" fill="#ffffff"/>
<circle cx="377.30" cy="200.20" r="7.4" fill="#ffffff"/>
<circle cx="392.37" cy="200.20" r="7.4" fill="#ffffff"/>
<circle cx="407.44" cy="200.20" r="7.4" fill="#ffffff"/>
<circle cx="422.51" cy="200.20" r="7.4" fill="#ffffff"/>
<circle cx="437.58" cy="200.20" r="7.4" fill="#ffffff"/>
<circle cx="452.65" cy="200.20" r="7.4" fill="#ffffff"/>
<circle cx="467.72" cy="200.20" r="7.4" fill="#ffffff"/>
<circle cx="482.79" cy="200.20" r="7.4" fill="#ffffff"/>
<circle cx="497.86" cy="200.20" r="7.4" fill="#ffffff"/>
<circle cx="512.93" cy="200.20" r="7.4" fill="#ffffff"/>
<circle cx="528.00" cy="200.20" r="7.4" fill="#ffffff"/>
<circle cx="543.07" cy="200.20" r="7.4" fill="#ffffff"/>
<circle cx="558.14" cy="200.20" r="7.4" fill="#ffffff"/>
<circle cx="573.21" cy="200.20" r="7.4" fill="#ffffff"/>
<circle cx="588.28" cy="200.20" r="7.4" fill="#ffffff"/>
<circle cx="603.35" cy="200.20" r="7.4" fill="#ffffff"/>
<circle cx="618.42" cy="200.20" r="7.4" fill="#ffffff"/>
<circle cx="633.49" cy="200.20" r="7.4" fill="#ffffff"/>
<circle cx="648.56" cy="200.20" r="7.4" fill="#ffffff"/>
<circle cx="663.63" cy="200.20" r="7.4" fill="#ffffff"/>
<circle cx="678.70" cy="200.20" r="7.4" fill="#ffffff"/>
<circle cx="693.77" cy="200.20" r="7.4" fill="#ffffff"/>
<circle cx="708.84" cy="200.20" r="7.4" fill="#ffffff"/>
<circle cx="723.91" cy="200.20" r="7.4" fill="#ffffff"/>
<circle cx="738.98" cy="200.20" r="7.4" fill="#ffffff"/>
<circle cx="754.05" cy="200.20" r="7.4" fill="#ffffff"/>
<circle cx="769.12" cy="200.20" r="7.4" fill="#ffffff"/>
<circle cx="784.19" cy="200.20" r="7.4" fill="#ffffff"/>
<circle cx="799.26" cy="200.20" r="7.4" fill="#ffffff"/>
<circle cx="814.33" cy="200.20" r="7.4" fill="#ffffff"/>
<circle cx="829.40" cy="200.20" r="7.4" fill="#ffffff"/>
<circle cx="844.47" cy="200.20" r="7.4" fill="#ffffff"/>
<circle cx="859.54" cy="200.20" r="7.4" fill="#ffffff"/>
<circle cx="874.61" cy="200.20" r="7.4" fill="#ffffff"/>
<circle cx="889.68" cy="200.20" r="7.4" fill="#ffffff"/>
<circle cx="904.75" cy="200.20" r="7.4" fill="#ffffff"/>
<circle cx="919.82" cy="200.20" r="7.4" fill="#ffffff"/>
<circle cx="934.89" cy="200.20" r="7.4" fill="#ffffff"/>
<circle cx="949.96" cy="200.20" r="7.4" fill="#ffffff"/>
<circle cx="965.03" cy="200.20" r="7.4" fill="#ffffff"/>
<circle cx="980.10" cy="200.20" r="7.4" fill="#ffffff"/>
<circle cx="995.17" cy="200.20" r="7.4" fill="#ffffff"/>
<circle cx="1010.24" cy="200.20" r="7.4" fill="#ffffff"/>
<circle cx="1025.31" cy="200.20" r="7.4" fill="#ffffff"/>
<circle cx="1040.38" cy="200.20" r="7.4" fill="#ffffff"/>
<circle cx="1055.45" cy="200.20" r="7.4" fill="#ffffff"/>
<circle cx="1070.52" cy="200.20" r="7.4" fill="#ffffff"/>
<circle cx="1085.59" cy="200.20" r="7.4" fill="#ffffff"/>
<circle cx="1100.66" cy="200.20" r="7.4" fill="#ffffff"/>
<circle cx="1115.73" cy="200.20" r="7.4" fill="#ffffff"/>
<circle cx="1130.80" cy="200.20" r="7.4" fill="#ffffff"/>
<circle cx="1145.87" cy="200.20" r="7.4" fill="#ffffff"/>
<circle cx="1160.94" cy="200.20" r="7.4" fill="#ffffff"/>
<circle cx="1176.01" cy="200.20" r="7.4" fill="#ffffff"/>
<circle cx="1191.08" cy="200.20" r="7.4" fill="#ffffff"/>
<circle cx="1206.15" cy="200.20" r="7.4" fill="#ffffff"/>
<circle cx="1221.22" cy="200.20" r="7.4" fill="#ffffff"/>
<circle cx="1236.29" cy="200.20" r="7.4" fill="#ffffff"/>
<circle cx="1251.36" cy="200.20" r="7.4" fill="#ffffff"/>
<circle cx="1266.43" cy="200.20" r="7.4" fill="#ffffff"/>
<circle cx="1281.50" cy="200.20" r="7.4" fill="#ffffff"/>
<circle cx="1296.57" cy="200.20" r="7.4" fill="#ffffff"/>
<circle cx="1311.64" cy="200.20" r="7.4" fill="#ffffff"/>
<circle cx="1326.71" cy="200.20" r="7.4" fill="#ffffff"/>
<circle cx="1341.78" cy="200.20" r="7.4" fill="#ffffff"/>
<circle cx="1356.85" cy="200.20" r="7.4" fill="#ffffff"/>
<circle cx="1371.92" cy="200.20" r="7.4" fill="#ffffff"/>
<circle cx="1386.99" cy="200.20" r="7.4" fill="#ffffff"/>
<circle cx="1402.06" cy="200.20" r="7.4" fill="#ffffff"/>
<circle cx="1417.13" cy="200.20" r="7.4" fill="#ffffff"/>
<circle cx="1432.20" cy="200.20" r="7.4" fill="#ffffff"/>
<circle cx="1447.27" cy="200.20" r="7.4" fill="#ffffff"/>
<circle cx="1462.34" cy="200.20" r="7.4" fill="#ffffff"/>
<circle cx="1477.41" cy="200.20" r="7.4" fill="#ffffff"/>
<circle cx="1492.48" cy="200.20" r="7.4" fill="#ffffff"/>
<circle cx="1507.55" cy="200.20" r="7.4" fill="#ffffff"/>
<circle cx="1522.62" cy="200.20" r="7.4" fill="#ffffff"/>
<circle cx="1537.69" cy="200.20" r="7.4" fill="#ffffff"/>
<circle cx="1552.76" cy="200.20" r="7.4" fill="#ffffff"/>
<circle cx="1567.83" cy="200.20" r="7.4" fill="#ffffff"/>
<circle cx="1582.90" cy="200.20" r="7.4" fill="#ffffff"/>
<circle cx="1597.97" cy="200.20" r="7.4" fill="#ffffff"/>
<circle cx="1613.04" cy="200.20" r="7.4" fill="#ffffff"/>
<circle cx="1628.11" cy="200.20" r="7.4" fill="#ffffff"/>
<circle cx="1643.18" cy="200.20" r="7.4" fill="#ffffff"/>
<circle cx="1658.25" cy="200.20" r="7.4" fill="#ffffff"/>
<circle cx="1673.32" cy="200.20" r="7.4" fill="#ffffff"/>
<circle cx="1688.39" cy="200.20" r="7.4" fill="#ffffff"/>
<circle cx="1703.46" cy="200.20" r="7.4" fill="#ffffff"/>
<circle cx="1718.53" cy="200.20" r="7.4" fill="#ffffff"/>
<circle cx="1733.60" cy="200.20" r="7.4" fill="#ffffff"/>
<circle cx="1748.67" cy="200.20" r="7.4" fill="#ffffff"/>
<circle cx="1763.74" cy="200.20" r="7.4" fill="#ffffff"/>
<circle cx="1778.81" cy="200.20" r="7.4" fill="#ffffff"/>
<circle cx="1793.88" cy="200.20" r="7.4" fill="#ffffff"/>
<circle cx="1808.95" cy="200.20" r="7.4" fill="#ffffff"/>
<circle cx="1824.02" cy="200.20" r="7.4" fill="#ffffff"/>
<circle cx="1839.09" cy="200.20" r="7.4" fill="#ffffff"/>
<circle cx="1854.16" cy="200.20" r="7.4" fill="#ffffff"/>
<circle cx="1869.23" cy="200.20" r="7.4" fill="#ffffff"/>
<circle cx="1884.30" cy="200.20" r="7.4" fill="#ffffff"/>
<circle cx="1899.37" cy="200.20" r="7.4" fill="#ffffff"/>
<circle cx="1914.44" cy="200.20" r="7.4" fill="#ffffff"/>
<circle cx="1929.51" cy="200.20" r="7.4" fill="#ffffff"/>
<circle cx="1944.58" cy="200.20" r="7.4" fill="#ffffff"/>
<circle cx="1959.65" cy="200.20" r="7.4" fill="#ffffff"/>
<circle cx="1974.72" cy="200.20" r="7.4" fill="#ffffff"/>
<circle cx="1989.79" cy="200.20" r="7.4" fill="#ffffff"/>
<circle cx="226.60" cy="230.24" r="7.4" fill="#ffffff"/>
<circle cx="241.67" cy="230.24" r="7.4" fill="#ffffff"/>
<circle cx="256.74" cy="230.24" r="7.4" fill="#ffffff"/>
<circle cx="271.81" cy="230.24" r="7.4" fill="#ffffff"/>
<circle cx="286.88" cy="230.24" r="7.4" fill="#ffffff"/>
<circle cx="301.95" cy="230.24" r="7.4" fill="#ffffff"/>
<circle cx="317.02" cy="230.24" r="7.4" fill="#ffffff"/>
<circle cx="332.09" cy="230.24" r="7.4" fill="#ffffff"/>
<circle cx="347.16" cy="230.24" r="7.4" fill="#ffffff"/>
<circle cx="362.23" cy="230.24" r="7.4" fill="#ffffff"/>
<circle cx="377.30" cy="230.24" r="7.4" fill="#ffffff"/>
<circle cx="392.37" cy="230.24" r="7.4" fill="#ffffff"/>
<circle cx="407.44" cy="230.24" r="7.4" fill="#ffffff"/>
<circle cx="422.51" cy="230.24" r="7.4" fill="#ffffff"/>
<circle cx="437.58" cy="230.24" r="7.4" fill="#ffffff"/>
<circle cx="452.65" cy="230.24" r="7.4" fill="#ffffff"/>
<circle cx="467.72" cy="230.24" r="7.4" fill="#ffffff"/>
<circle cx="482.79" cy="230.24" r="7.4" fill="#ffffff"/>
<circle cx="497.86" cy="230.24" r="7.4" fill="#ffffff"/>
<circle cx="512.93" cy="230.24" r="7.4" fill="#ffffff"/>
<circle cx="528.00" cy="230.24" r="7.4" fill="#ffffff"/>
<circle cx="543.07" cy="230.24" r="7.4" fill="#ffffff"/>
<circle cx="558.14" cy="230.24" r="7.4" fill="#ffffff"/>
<circle cx="573.21" cy="230.24" r="7.4" fill="#ffffff"/>
<circle cx="588.28" cy="230.24" r="7.4" fill="#ffffff"/>
<circle cx="603.35" cy="230.24" r="7.4" fill="#ffffff"/>
<circle cx="618.42" cy="230.24" r="7.4" fill="#ffffff"/>
<circle cx="633.49" cy="230.24" r="7.4" fill="#ffffff"/>
<circle cx="648.56" cy="230.24" r="7.4" fill="#ffffff"/>
<circle cx="663.63" cy="230.24" r="7.4" fill="#ffffff"/>
<circle cx="678.70" cy="230.24" r="7.4" fill="#ffffff"/>
<circle cx="693.77" cy="230.24" r="7.4" fill="#ffffff"/>
<circle cx="708.84" cy="230.24" r="7.4" fill="#ffffff"/>
<circle cx="723.91" cy="230.24" r="7.4" fill="#ffffff"/>
<circle cx="738.98" cy="230.24" r="7.4" fill="#ffffff"/>
<circle cx="754.05" cy="230.24" r="7.4" fill="#ffffff"/>
<circle cx="769.12" cy="230.24" r="7.4" fill="#ffffff"/>
<circle cx="784.19" cy="230.24" r="7.4" fill="#ffffff"/>
<circle cx="799.26" cy="230.24" r="7.4" fill="#ffffff"/>
<circle cx="814.33" cy="230.24" r="7.4" fill="#ffffff"/>
<circle cx="829.40" cy="230.24" r="7.4" fill="#ffffff"/>
<circle cx="844.47" cy="230.24" r="7.4" fill="#ffffff"/>
<circle cx="859.54" cy="230.24" r="7.4" fill="#ffffff"/>
<circle cx="874.61" cy="230.24" r="7.4" fill="#ffffff"/>
<circle cx="889.68" cy="230.24" r="7.4" fill="#ffffff"/>
<circle cx="904.75" cy="230.24" r="7.4" fill="#ffffff"/>
<circle cx="919.82" cy="230.24" r="7.4" fill="#ffffff"/>
<circle cx="934.89" cy="230.24" r="7.4" fill="#ffffff"/>
<circle cx="949.96" cy="230.24" r="7.4" fill="#ffffff"/>
<circle cx="965.03" cy="230.24" r="7.4" fill="#ffffff"/>
<circle cx="980.10" cy="230.24" r="7.4" fill="#ffffff"/>
<circle cx="995.17" cy="230.24" r="7.4" fill="#ffffff"/>
<circle cx="1010.24" cy="230.24" r="7.4" fill="#ffffff"/>
<circle cx="1025.31" cy="230.24" r="7.4" fill="#ffffff"/>
<circle cx="1040.38" cy="230.24" r="7.4" fill="#ffffff"/>
<circle cx="1055.45" cy="230.24" r="7.4" fill="#ffffff"/>
<circle cx="1070.52" cy="230.24" r="7.4" fill="#ffffff"/>
<circle cx="1085.59" cy="230.24" r="7.4" fill="#ffffff"/>
<circle cx="1100.66" cy="230.24" r="7.4" fill="#ffffff"/>
<circle cx="1115.73" cy="230.24" r="7.4" fill="#ffffff"/>
<circle cx="1130.80" cy="230.24" r="7.4" fill="#ffffff"/>
<circle cx="1145.87" cy="230.24" r="7.4" fill="#ffffff"/>
<circle cx="1160.94" cy="230.24" r="7.4" fill="#ffffff"/>
<circle cx="1176.01" cy="230.24" r="7.4" fill="#ffffff"/>
<circle cx="1191.08" cy="230.24" r="7.4" fill="#ffffff"/>
<circle cx="1206.15" cy="230.24" r="7.4" fill="#ffffff"/>
<circle cx="1221.22" cy="230.24" r="7.4" fill="#ffffff"/>
<circle cx="1236.29" cy="230.24" r="7.4" fill="#ffffff"/>
<circle cx="1251.36" cy="230.24" r="7.4" fill="#ffffff"/>
<circle cx="1266.43" cy="230.24" r="7.4" fill="#ffffff"/>
<circle cx="1281.50" cy="230.24" r="7.4" fill="#ffffff"/>
<circle cx="1296.57" cy="230.24" r="7.4" fill="#ffffff"/>
<circle cx="1311.64" cy="230.24" r="7.4" fill="#ffffff"/>
<circle cx="1326.71" cy="230.24" r="7.4" fill="#ffffff"/>
<circle cx="1341.78" cy="230.24" r="7.4" fill="#ffffff"/>
<circle cx="1356.85" cy="230.24" r="7.4" fill="#ffffff"/>
<circle cx="1371.92" cy="230.24" r="7.4" fill="#ffffff"/>
<circle cx="1386.99" cy="230.24" r="7.4" fill="#ffffff"/>
<circle cx="1402.06" cy="230.24" r="7.4" fill="#ffffff"/>
<circle cx="1417.13" cy="230.24" r="7.4" fill="#ffffff"/>
<circle cx="1432.20" cy="230.24" r="7.4" fill="#ffffff"/>
<circle cx="1447.27" cy="230.24" r="7.4" fill="#ffffff"/>
<circle cx="1462.34" cy="230.24" r="7.4" fill="#ffffff"/>
<circle cx="1477.41" cy="230.24" r="7.4" fill="#ffffff"/>
<circle cx="1492.48" cy="230.24" r="7.4" fill="#ffffff"/>
<circle cx="1507.55" cy="230.24" r="7.4" fill="#ffffff"/>
<circle cx="1522.62" cy="230.24" r="7.4" fill="#ffffff"/>
<circle cx="1537.69" cy="230.24" r="7.4" fill="#ffffff"/>
<circle cx="1552.76" cy="230.24" r="7.4" fill="#ffffff"/>
<circle cx="1567.83" cy="230.24" r="7.4" fill="#ffffff"/>
<circle cx="1582.90" cy="230.24" r="7.4" fill="#ffffff"/>
<circle cx="1597.97" cy="230.24" r="7.4" fill="#ffffff"/>
<circle cx="1613.04" cy="230.24" r="7.4" fill="#ffffff"/>
<circle cx="1628.11" cy="230.24" r="7.4" fill="#ffffff"/>
<circle cx="1643.18" cy="230.24" r="7.4" fill="#ffffff"/>
<circle cx="1658.25" cy="230.24" r="7.4" fill="#ffffff"/>
<circle cx="1673.32" cy="230.24" r="7.4" fill="#ffffff"/>
<circle cx="1688.39" cy="230.24" r="7.4" fill="#ffffff"/>
<circle cx="1703.46" cy="230.24" r="7.4" fill="#ffffff"/>
<circle cx="1718.53" cy="230.24" r="7.4" fill="#ffffff"/>
<circle cx="1733.60" cy="230.24" r="7.4" fill="#ffffff"/>
<circle cx="1748.67" cy="230.24" r="7.4" fill="#ffffff"/>
<circle cx="1763.74" cy="230.24" r="7.4" fill="#ffffff"/>
<circle cx="1778.81" cy="230.24" r="7.4" fill="#ffffff"/>
<circle cx="1793.88" cy="230.24" r="7.4" fill="#ffffff"/>
<circle cx="1808.95" cy="230.24" r="7.4" fill="#ffffff"/>
<circle cx="1824.02" cy="230.24" r="7.4" fill="#ffffff"/>
<circle cx="1839.09" cy="230.24" r="7.4" fill="#ffffff"/>
<circle cx="1854.16" cy="230.24" r="7.4" fill="#ffffff"/>
<circle cx="1869.23" cy="230.24" r="7.4" fill="#ffffff"/>
<circle cx="1884.30" cy="230.24" r="7.4" fill="#ffffff"/>
<circle cx="1899.37" cy="230.24" r="7.4" fill="#ffffff"/>
<circle cx="1914.44" cy="230.24" r="7.4" fill="#ffffff"/>
<circle cx="1929.51" cy="230.24" r="7.4" fill="#ffffff"/>
<circle cx="1944.58" cy="230.24" r="7.4" fill="#ffffff"/>
<circle cx="1959.65" cy="230.24" r="7.4" fill="#ffffff"/>
<circle cx="1974.72" cy="230.24" r="7.4" fill="#ffffff"/>
<circle cx="1989.79" cy="230.24" r="7.4" fill="#ffffff"/>
<circle cx="226.60" cy="260.28" r="7.4" fill="#ffffff"/>
<circle cx="241.67" cy="260.28" r="7.4" fill="#ffffff"/>
<circle cx="256.74" cy="260.28" r="7.4" fill="#ffffff"/>
<circle cx="271.81" cy="260.28" r="7.4" fill="#ffffff"/>
<circle cx="286.88" cy="260.28" r="7.4" fill="#ffffff"/>
<circle cx="301.95" cy="260.28" r="7.4" fill="#ffffff"/>
<circle cx="317.02" cy="260.28" r="7.4" fill="#ffffff"/>
<circle cx="332.09" cy="260.28" r="7.4" fill="#ffffff"/>
<circle cx="347.16" cy="260.28" r="7.4" fill="#ffffff"/>
<circle cx="362.23" cy="260.28" r="7.4" fill="#ffffff"/>
<circle cx="377.30" cy="260.28" r="7.4" fill="#ffffff"/>
<circle cx="392.37" cy="260.28" r="7.4" fill="#ffffff"/>
<circle cx="407.44" cy="260.28" r="7.4" fill="#ffffff"/>
<circle cx="422.51" cy="260.28" r="7.4" fill="#ffffff"/>
<circle cx="437.58" cy="260.28" r="7.4" fill="#ffffff"/>
<circle cx="452.65" cy="260.28" r="7.4" fill="#ffffff"/>
<circle cx="467.72" cy="260.28" r="7.4" fill="#ffffff"/>
<circle cx="482.79" cy="260.28" r="7.4" fill="#ffffff"/>
<circle cx="497.86" cy="260.28" r="7.4" fill="#ffffff"/>
<circle cx="512.93" cy="260.28" r="7.4" fill="#ffffff"/>
<circle cx="528.00" cy="260.28" r="7.4" fill="#ffffff"/>
<circle cx="543.07" cy="260.28" r="7.4" fill="#ffffff"/>
<circle cx="558.14" cy="260.28" r="7.4" fill="#ffffff"/>
<circle cx="573.21" cy="260.28" r="7.4" fill="#ffffff"/>
<circle cx="588.28" cy="260.28" r="7.4" fill="#ffffff"/>
<circle cx="603.35" cy="260.28" r="7.4" fill="#ffffff"/>
<circle cx="618.42" cy="260.28" r="7.4" fill="#ffffff"/>
<circle cx="633.49" cy="260.28" r="7.4" fill="#ffffff"/>
<circle cx="648.56" cy="260.28" r="7.4" fill="#ffffff"/>
<circle cx="663.63" cy="260.28" r="7.4" fill="#ffffff"/>
<circle cx="678.70" cy="260.28" r="7.4" fill="#ffffff"/>
<circle cx="693.77" cy="260.28" r="7.4" fill="#ffffff"/>
<circle cx="708.84" cy="260.28" r="7.4" fill="#ffffff"/>
<circle cx="723.91" cy="260.28" r="7.4" fill="#ffffff"/>
<circle cx="738.98" cy="260.28" r="7.4" fill="#ffffff"/>
<circle cx="754.05" cy="260.28" r="7.4" fill="#ffffff"/>
<circle cx="769.12" cy="260.28" r="7.4" fill="#ffffff"/>
<circle cx="784.19" cy="260.28" r="7.4" fill="#ffffff"/>
<circle cx="799.26" cy="260.28" r="7.4" fill="#ffffff"/>
<circle cx="814.33" cy="260.28" r="7.4" fill="#ffffff"/>
<circle cx="829.40" cy="260.28" r="7.4" fill="#ffffff"/>
<circle cx="844.47" cy="260.28" r="7.4" fill="#ffffff"/>
<circle cx="859.54" cy="260.28" r="7.4" fill="#ffffff"/>
<circle cx="874.61" cy="260.28" r="7.4" fill="#ffffff"/>
<circle cx="889.68" cy="260.28" r="7.4" fill="#ffffff"/>
<circle cx="904.75" cy="260.28" r="7.4" fill="#ffffff"/>
<circle cx="919.82" cy="260.28" r="7.4" fill="#ffffff"/>
<circle cx="934.89" cy="260.28" r="7.4" fill="#ffffff"/>
<circle cx="949.96" cy="260.28" r="7.4" fill="#ffffff"/>
<circle cx="965.03" cy="260.28" r="7.4" fill="#ffffff"/>
<circle cx="980.10" cy="260.28" r="7.4" fill="#ffffff"/>
<circle cx="995.17" cy="260.28" r="7.4" fill="#ffffff"/>
<circle cx="1010.24" cy="260.28" r="7.4" fill="#ffffff"/>
<circle cx="1025.31" cy="260.28" r="7.4" fill="#ffffff"/>
<circle cx="1040.38" cy="260.28" r="7.4" fill="#ffffff"/>
<circle cx="1055.45" cy="260.28" r="7.4" fill="#ffffff"/>
<circle cx="1070.52" cy="260.28" r="7.4" fill="#ffffff"/>
<circle cx="1085.59" cy="260.28" r="7.4" fill="#ffffff"/>
<circle cx="1100.66" cy="260.28" r="7.4" fill="#ffffff"/>
<circle cx="1115.73" cy="260.28" r="7.4" fill="#ffffff"/>
<circle cx="1130.80" cy="260.28" r="7.4" fill="#ffffff"/>
<circle cx="1145.87" cy="260.28" r="7.4" fill="#ffffff"/>
<circle cx="1160.94" cy="260.28" r="7.4" fill="#ffffff"/>
<circle cx="1176.01" cy="260.28" r="7.4" fill="#ffffff"/>
<circle cx="1191.08" cy="260.28" r="7.4" fill="#ffffff"/>
<circle cx="1206.15" cy="260.28" r="7.4" fill="#ffffff"/>
<circle cx="1221.22" cy="260.28" r="7.4" fill="#ffffff"/>
<circle cx="1236.29" cy="260.28" r="7.4" fill="#ffffff"/>
<circle cx="1251.36" cy="260.28" r="7.4" fill="#ffffff"/>
<circle cx="1266.43" cy="260.28" r="7.4" fill="#ffffff"/>
<circle cx="1281.50" cy="260.28" r="7.4" fill="#ffffff"/>
<circle cx="1296.57" cy="260.28" r="7.4" fill="#ffffff"/>
<circle cx="1311.64" cy="260.28" r="7.4" fill="#ffffff"/>
<circle cx="1326.71" cy="260.28" r="7.4" fill="#ffffff"/>
<circle cx="1341.78" cy="260.28" r="7.4" fill="#ffffff"/>
<circle cx="1356.85" cy="260.28" r="7.4" fill="#ffffff"/>
<circle cx="1371.92" cy="260.28" r="7.4" fill="#ffffff"/>
<circle cx="1386.99" cy="260.28" r="7.4" fill="#ffffff"/>
<circle cx="1402.06" cy="260.28" r="7.4" fill="#ffffff"/>
<circle cx="1417.13" cy="260.28" r="7.4" fill="#ffffff"/>
<circle cx="1432.20" cy="260.28" r="7.4" fill="#ffffff"/>
<circle cx="1447.27" cy="260.28" r="7.4" fill="#ffffff"/>
<circle cx="1462.34" cy="260.28" r="7.4" fill="#ffffff"/>
<circle cx="1477.41" cy="260.28" r="7.4" fill="#ffffff"/>
<circle cx="1492.48" cy="260.28" r="7.4" fill="#ffffff"/>
<circle cx="1507.55" cy="260.28" r="7.4" fill="#ffffff"/>
<circle cx="1522.62" cy="260.28" r="7.4" fill="#ffffff"/>
<circle cx="1537.69" cy="260.28" r="7.4" fill="#ffffff"/>
<circle cx="1552.76" cy="260.28" r="7.4" fill="#ffffff"/>
<circle cx="1567.83" cy="260.28" r="7.4" fill="#ffffff"/>
<circle cx="1582.90" cy="260.28" r="7.4" fill="#ffffff"/>
<circle cx="1597.97" cy="260.28" r="7.4" fill="#ffffff"/>
<circle cx="1613.04" cy="260.28" r="7.4" fill="#ffffff"/>
<circle cx="1628.11" cy="260.28" r="7.4" fill="#ffffff"/>
<circle cx="1643.18" cy="260.28" r="7.4" fill="#ffffff"/>
<circle cx="1658.25" cy="260.28" r="7.4" fill="#ffffff"/>
<circle cx="1673.32" cy="260.28" r="7.4" fill="#ffffff"/>
<circle cx="1688.39" cy="260.28" r="7.4" fill="#ffffff"/>
<circle cx="1703.46" cy="260.28" r="7.4" fill="#ffffff"/>
<circle cx="1718.53" cy="260.28" r="7.4" fill="#ffffff"/>
<circle cx="1733.60" cy="260.28" r="7.4" fill="#ffffff"/>
<circle cx="1748.67" cy="260.28" r="7.4" fill="#ffffff"/>
<circle cx="1763.74" cy="260.28" r="7.4" fill="#ffffff"/>
<circle cx="1778.81" cy="260.28" r="7.4" fill="#ffffff"/>
<circle cx="1793.88" cy="260.28" r="7.4" fill="#ffffff"/>
<circle cx="1808.95" cy="260.28" r="7.4" fill="#ffffff"/>
<circle cx="1824.02" cy="260.28" r="7.4" fill="#ffffff"/>
<circle cx="1839.09" cy="260.28" r="7.4" fill="#ffffff"/>
<circle cx="1854.16" cy="260.28" r="7.4" fill="#ffffff"/>
<circle cx="1869.23" cy="260.28" r="7.4" fill="#ffffff"/>
<circle cx="1884.30" cy="260.28" r="7.4" fill="#ffffff"/>
<circle cx="1899.37" cy="260.28" r="7.4" fill="#ffffff"/>
<circle cx="1914.44" cy="260.28" r="7.4" fill="#ffffff"/>
<circle cx="1929.51" cy="260.28" r="7.4" fill="#ffffff"/>
<circle cx="1944.58" cy="260.28" r="7.4" fill="#ffffff"/>
<circle cx="1959.65" cy="260.28" r="7.4" fill="#ffffff"/>
<circle cx="1974.72" cy="260.28" r="7.4" fill="#ffffff"/>
<circle cx="1989.79" cy="260.28" r="7.4" fill="#ffffff"/>
<circle cx="226.60" cy="290.32" r="7.4" fill="#ffffff"/>
<circle cx="241.67" cy="290.32" r="7.4" fill="#ffffff"/>
<circle cx="256.74" cy="290.32" r="7.4" fill="#ffffff"/>
<circle cx="271.81" cy="290.32" r="7.4" fill="#ffffff"/>
<circle cx="286.88" cy="290.32" r="7.4" fill="#ffffff"/>
<circle cx="301.95" cy="290.32" r="7.4" fill="#ffffff"/>
<circle cx="317.02" cy="290.32" r="7.4" fill="#ffffff"/>
<circle cx="332.09" cy="290.32" r="7.4" fill="#ffffff"/>
<circle cx="347.16" cy="290.32" r="7.4" fill="#ffffff"/>
<circle cx="362.23" cy="290.32" r="7.4" fill="#ffffff"/>
<circle cx="377.30" cy="290.32" r="7.4" fill="#ffffff"/>
<circle cx="392.37" cy="290.32" r="7.4" fill="#ffffff"/>
<circle cx="407.44" cy="290.32" r="7.4" fill="#ffffff"/>
<circle cx="422.51" cy="290.32" r="7.4" fill="#ffffff"/>
<circle cx="437.58" cy="290.32" r="7.4" fill="#ffffff"/>
<circle cx="452.65" cy="290.32" r="7.4" fill="#ffffff"/>
<circle cx="467.72" cy="290.32" r="7.4" fill="#ffffff"/>
<circle cx="482.79" cy="290.32" r="7.4" fill="#ffffff"/>
<circle cx="497.86" cy="290.32" r="7.4" fill="#ffffff"/>
<circle cx="512.93" cy="290.32" r="7.4" fill="#ffffff"/>
<circle cx="528.00" cy="290.32" r="7.4" fill="#ffffff"/>
<circle cx="543.07" cy="290.32" r="7.4" fill="#ffffff"/>
<circle cx="558.14" cy="290.32" r="7.4" fill="#ffffff"/>
<circle cx="573.21" cy="290.32" r="7.4" fill="#ffffff"/>
<circle cx="588.28" cy="290.32" r="7.4" fill="#ffffff"/>
<circle cx="603.35" cy="290.32" r="7.4" fill="#ffffff"/>
<circle cx="618.42" cy="290.32" r="7.4" fill="#ffffff"/>
<circle cx="633.49" cy="290.32" r="7.4" fill="#ffffff"/>
<circle cx="648.56" cy="290.32" r="7.4" fill="#ffffff"/>
<circle cx="663.63" cy="290.32" r="7.4" fill="#ffffff"/>
<circle cx="678.70" cy="290.32" r="7.4" fill="#ffffff"/>
<circle cx="693.77" cy="290.32" r="7.4" fill="#ffffff"/>
<circle cx="708.84" cy="290.32" r="7.4" fill="#ffffff"/>
<circle cx="723.91" cy="290.32" r="7.4" fill="#ffffff"/>
<circle cx="738.98" cy="290.32" r="7.4" fill="#ffffff"/>
<circle cx="754.05" cy="290.32" r="7.4" fill="#ffffff"/>
<circle cx="769.12" cy="290.32" r="7.4" fill="#ffffff"/>
<circle cx="784.19" cy="290.32" r="7.4" fill="#ffffff"/>
<circle cx="799.26" cy="290.32" r="7.4" fill="#ffffff"/>
<circle cx="814.33" cy="290.32" r="7.4" fill="#ffffff"/>
<circle cx="829.40" cy="290.32" r="7.4" fill="#ffffff"/>
<circle cx="844.47" cy="290.32" r="7.4" fill="#ffffff"/>
<circle cx="859.54" cy="290.32" r="7.4" fill="#ffffff"/>
<circle cx="874.61" cy="290.32" r="7.4" fill="#ffffff"/>
<circle cx="889.68" cy="290.32" r="7.4" fill="#ffffff"/>
<circle cx="904.75" cy="290.32" r="7.4" fill="#ffffff"/>
<circle cx="919.82" cy="290.32" r="7.4" fill="#ffffff"/>
<circle cx="934.89" cy="290.32" r="7.4" fill="#ffffff"/>
<circle cx="949.96" cy="290.32" r="7.4" fill="#ffffff"/>
<circle cx="965.03" cy="290.32" r="7.4" fill="#ffffff"/>
<circle cx="980.10" cy="290.32" r="7.4" fill="#ffffff"/>
<circle cx="995.17" cy="290.32" r="7.4" fill="#ffffff"/>
<circle cx="1010.24" cy="290.32" r="7.4" fill="#ffffff"/>
<circle cx="1025.31" cy="290.32" r="7.4" fill="#ffffff"/>
<circle cx="1040.38" cy="290.32" r="7.4" fill="#ffffff"/>
<circle cx="1055.45" cy="290.32" r="7.4" fill="#ffffff"/>
<circle cx="1070.52" cy="290.32" r="7.4" fill="#ffffff"/>
<circle cx="1085.59" cy="290.32" r="7.4" fill="#ffffff"/>
<circle cx="1100.66" cy="290.32" r="7.4" fill="#ffffff"/>
<circle cx="1115.73" cy="290.32" r="7.4" fill="#ffffff"/>
<circle cx="1130.80" cy="290.32" r="7.4" fill="#ffffff"/>
<circle cx="1145.87" cy="290.32" r="7.4" fill="#ffffff"/>
<circle cx="1160.94" cy="290.32" r="7.4" fill="#ffffff"/>
<circle cx="1176.01" cy="290.32" r="7.4" fill="#ffffff"/>
<circle cx="1191.08" cy="290.32" r="7.4" fill="#ffffff"/>
<circle cx="1206.15" cy="290.32" r="7.4" fill="#ffffff"/>
<circle cx="1221.22" cy="290.32" r="7.4" fill="#ffffff"/>
<circle cx="1236.29" cy="290.32" r="7.4" fill="#ffffff"/>
<circle cx="1251.36" cy="290.32" r="7.4" fill="#ffffff"/>
<circle cx="1266.43" cy="290.32" r="7.4" fill="#ffffff"/>
<circle cx="1281.50" cy="290.32" r="7.4" fill="#ffffff"/>
<circle cx="1296.57" cy="290.32" r="7.4" fill="#ffffff"/>
<circle cx="1311.64" cy="290.32" r="7.4" fill="#ffffff"/>
<circle cx="1326.71" cy="290.32" r="7.4" fill="#ffffff"/>
<circle cx="1341.78" cy="290.32" r="7.4" fill="#ffffff"/>
<circle cx="1356.85" cy="290.32" r="7.4" fill="#ffffff"/>
<circle cx="1371.92" cy="290.32" r="7.4" fill="#ffffff"/>
<circle cx="1386.99" cy="290.32" r="7.4" fill="#ffffff"/>
<circle cx="1402.06" cy="290.32" r="7.4" fill="#ffffff"/>
<circle cx="1417.13" cy="290.32" r="7.4" fill="#ffffff"/>
<circle cx="1432.20" cy="290.32" r="7.4" fill="#ffffff"/>
<circle cx="1447.27" cy="290.32" r="7.4" fill="#ffffff"/>
<circle cx="1462.34" cy="290.32" r="7.4" fill="#ffffff"/>
<circle cx="1477.41" cy="290.32" r="7.4" fill="#ffffff"/>
<circle cx="1492.48" cy="290.32" r="7.4" fill="#ffffff"/>
<circle cx="1507.55" cy="290.32" r="7.4" fill="#ffffff"/>
<circle cx="1522.62" cy="290.32" r="7.4" fill="#ffffff"/>
<circle cx="1537.69" cy="290.32" r="7.4" fill="#ffffff"/>
<circle cx="1552.76" cy="290.32" r="7.4" fill="#ffffff"/>
<circle cx="1567.83" cy="290.32" r="7.4" fill="#ffffff"/>
<circle cx="1582.90" cy="290.32" r="7.4" fill="#ffffff"/>
<circle cx="1597.97" cy="290.32" r="7.4" fill="#ffffff"/>
<circle cx="1613.04" cy="290.32" r="7.4" fill="#ffffff"/>
<circle cx="1628.11" cy="290.32" r="7.4" fill="#ffffff"/>
<circle cx="1643.18" cy="290.32" r="7.4" fill="#ffffff"/>
<circle cx="1658.25" cy="290.32" r="7.4" fill="#ffffff"/>
<circle cx="1673.32" cy="290.32" r="7.4" fill="#ffffff"/>
<circle cx="1688.39" cy="290.32" r="7.4" fill="#ffffff"/>
<circle cx="1703.46" cy="290.32" r="7.4" fill="#ffffff"/>
<circle cx="1718.53" cy="290.32" r="7.4" fill="#ffffff"/>
<circle cx="1733.60" cy="290.32" r="7.4" fill="#ffffff"/>
<circle cx="1748.67" cy="290.32" r="7.4" fill="#ffffff"/>
<circle cx="1763.74" cy="290.32" r="7.4" fill="#ffffff"/>
<circle cx="1778.81" cy="290.32" r="7.4" fill="#ffffff"/>
<circle cx="1793.88" cy="290.32" r="7.4" fill="#ffffff"/>
<circle cx="1808.95" cy="290.32" r="7.4" fill="#ffffff"/>
<circle cx="1824.02" cy="290.32" r="7.4" fill="#ffffff"/>
<circle cx="1839.09" cy="290.32" r="7.4" fill="#ffffff"/>
<circle cx="1854.16" cy="290.32" r="7.4" fill="#ffffff"/>
<circle cx="1869.23" cy="290.32" r="7.4" fill="#ffffff"/>
<circle cx="1884.30" cy="290.32" r="7.4" fill="#ffffff"/>
<circle cx="1899.37" cy="290.32" r="7.4" fill="#ffffff"/>
<circle cx="1914.44" cy="290.32" r="7.4" fill="#ffffff"/>
<circle cx="1929.51" cy="290.32" r="7.4" fill="#ffffff"/>
<circle cx="1944.58" cy="290.32" r="7.4" fill="#ffffff"/>
<circle cx="1959.65" cy="290.32" r="7.4" fill="#ffffff"/>
<circle cx="1974.72" cy="290.32" r="7.4" fill="#ffffff"/>
<circle cx="1989.79" cy="290.32" r="7.4" fill="#ffffff"/>
<circle cx="226.60" cy="320.36" r="7.4" fill="#ffffff"/>
<circle cx="241.67" cy="320.36" r="7.4" fill="#ffffff"/>
<circle cx="256.74" cy="320.36" r="7.4" fill="#ffffff"/>
<circle cx="271.81" cy="320.36" r="7.4" fill="#ffffff"/>
<circle cx="286.88" cy="320.36" r="7.4" fill="#ffffff"/>
<circle cx="301.95" cy="320.36" r="7.4" fill="#ffffff"/>
<circle cx="317.02" cy="320.36" r="7.4" fill="#ffffff"/>
<circle cx="332.09" cy="320.36" r="7.4" fill="#ffffff"/>
<circle cx="347.16" cy="320.36" r="7.4" fill="#ffffff"/>
<circle cx="362.23" cy="320.36" r="7.4" fill="#ffffff"/>
<circle cx="377.30" cy="320.36" r="7.4" fill="#ffffff"/>
<circle cx="392.37" cy="320.36" r="7.4" fill="#ffffff"/>
<circle cx="407.44" cy="320.36" r="7.4" fill="#ffffff"/>
<circle cx="422.51" cy="320.36" r="7.4" fill="#ffffff"/>
<circle cx="437.58" cy="320.36" r="7.4" fill="#ffffff"/>
<circle cx="452.65" cy="320.36" r="7.4" fill="#ffffff"/>
<circle cx="467.72" cy="320.36" r="7.4" fill="#ffffff"/>
<circle cx="482.79" cy="320.36" r="7.4" fill="#ffffff"/>
<circle cx="497.86" cy="320.36" r="7.4" fill="#ffffff"/>
<circle cx="512.93" cy="320.36" r="7.4" fill="#ffffff"/>
<circle cx="528.00" cy="320.36" r="7.4" fill="#ffffff"/>
<circle cx="543.07" cy="320.36" r="7.4" fill="#ffffff"/>
<circle cx="558.14" cy="320.36" r="7.4" fill="#ffffff"/>
<circle cx="573.21" cy="320.36" r="7.4" fill="#ffffff"/>
<circle cx="588.28" cy="320.36" r="7.4" fill="#ffffff"/>
<circle cx="603.35" cy="320.36" r="7.4" fill="#ffffff"/>
<circle cx="618.42" cy="320.36" r="7.4" fill="#ffffff"/>
<circle cx="633.49" cy="320.36" r="7.4" fill="#ffffff"/>
<circle cx="648.56" cy="320.36" r="7.4" fill="#ffffff"/>
<circle cx="663.63" cy="320.36" r="7.4" fill="#ffffff"/>
<circle cx="678.70" cy="320.36" r="7.4" fill="#ffffff"/>
<circle cx="693.77" cy="320.36" r="7.4" fill="#ffffff"/>
<circle cx="708.84" cy="320.36" r="7.4" fill="#ffffff"/>
<circle cx="723.91" cy="320.36" r="7.4" fill="#ffffff"/>
<circle cx="738.98" cy="320.36" r="7.4" fill="#ffffff"/>
<circle cx="754.05" cy="320.36" r="7.4" fill="#ffffff"/>
<circle cx="769.12" cy="320.36" r="7.4" fill="#ffffff"/>
<circle cx="784.19" cy="320.36" r="7.4" fill="#ffffff"/>
<circle cx="799.26" cy="320.36" r="7.4" fill="#ffffff"/>
<circle cx="814.33" cy="320.36" r="7.4" fill="#ffffff"/>
<circle cx="829.40" cy="320.36" r="7.4" fill="#ffffff"/>
<circle cx="844.47" cy="320.36" r="7.4" fill="#ffffff"/>
<circle cx="859.54" cy="320.36" r="7.4" fill="#ffffff"/>
<circle cx="874.61" cy="320.36" r="7.4" fill="#ffffff"/>
<circle cx="889.68" cy="320.36" r="7.4" fill="#ffffff"/>
<circle cx="904.75" cy="320.36" r="7.4" fill="#ffffff"/>
<circle cx="919.82" cy="320.36" r="7.4" fill="#ffffff"/>
<circle cx="934.89" cy="320.36" r="7.4" fill="#ffffff"/>
<circle cx="949.96" cy="320.36" r="7.4" fill="#ffffff"/>
<circle cx="965.03" cy="320.36" r="7.4" fill="#ffffff"/>
<circle cx="980.10" cy="320.36" r="7.4" fill="#ffffff"/>
<circle cx="995.17" cy="320.36" r="7.4" fill="#ffffff"/>
<circle cx="1010.24" cy="320.36" r="7.4" fill="#ffffff"/>
<circle cx="1025.31" cy="320.36" r="7.4" fill="#ffffff"/>
<circle cx="1040.38" cy="320.36" r="7.4" fill="#ffffff"/>
<circle cx="1055.45" cy="320.36" r="7.4" fill="#ffffff"/>
<circle cx="1070.52" cy="320.36" r="7.4" fill="#ffffff"/>
<circle cx="1085.59" cy="320.36" r="7.4" fill="#ffffff"/>
<circle cx="1100.66" cy="320.36" r="7.4" fill="#ffffff"/>
<circle cx="1115.73" cy="320.36" r="7.4" fill="#ffffff"/>
<circle cx="1130.80" cy="320.36" r="7.4" fill="#ffffff"/>
<circle cx="1145.87" cy="320.36" r="7.4" fill="#ffffff"/>
<circle cx="1160.94" cy="320.36" r="7.4" fill="#ffffff"/>
<circle cx="1176.01" cy="320.36" r="7.4" fill="#ffffff"/>
<circle cx="1191.08" cy="320.36" r="7.4" fill="#ffffff"/>
<circle cx="1206.15" cy="320.36" r="7.4" fill="#ffffff"/>
<circle cx="1221.22" cy="320.36" r="7.4" fill="#ffffff"/>
<circle cx="1236.29" cy="320.36" r="7.4" fill="#ffffff"/>
<circle cx="1251.36" cy="320.36" r="7.4" fill="#ffffff"/>
<circle cx="1266.43" cy="320.36" r="7.4" fill="#ffffff"/>
<circle cx="1281.50" cy="320.36" r="7.4" fill="#ffffff"/>
<circle cx="1296.57" cy="320.36" r="7.4" fill="#ffffff"/>
<circle cx="1311.64" cy="320.36" r="7.4" fill="#ffffff"/>
<circle cx="1326.71" cy="320.36" r="7.4" fill="#ffffff"/>
<circle cx="1341.78" cy="320.36" r="7.4" fill="#ffffff"/>
<circle cx="1356.85" cy="320.36" r="7.4" fill="#ffffff"/>
<circle cx="1371.92" cy="320.36" r="7.4" fill="#ffffff"/>
<circle cx="1386.99" cy="320.36" r="7.4" fill="#ffffff"/>
<circle cx="1402.06" cy="320.36" r="7.4" fill="#ffffff"/>
<circle cx="1417.13" cy="320.36" r="7.4" fill="#ffffff"/>
<circle cx="1432.20" cy="320.36" r="7.4" fill="#ffffff"/>
<circle cx="1447.27" cy="320.36" r="7.4" fill="#ffffff"/>
<circle cx="1462.34" cy="320.36" r="7.4" fill="#ffffff"/>
<circle cx="1477.41" cy="320.36" r="7.4" fill="#ffffff"/>
<circle cx="1492.48" cy="320.36" r="7.4" fill="#ffffff"/>
<circle cx="1507.55" cy="320.36" r="7.4" fill="#ffffff"/>
<circle cx="1522.62" cy="320.36" r="7.4" fill="#ffffff"/>
<circle cx="1537.69" cy="320.36" r="7.4" fill="#ffffff"/>
<circle cx="1552.76" cy="320.36" r="7.4" fill="#ffffff"/>
<circle cx="1567.83" cy="320.36" r="7.4" fill="#ffffff"/>
<circle cx="1582.90" cy="320.36" r="7.4" fill="#ffffff"/>
<circle cx="1597.97" cy="320.36" r="7.4" fill="#ffffff"/>
<circle cx="1613.04" cy="320.36" r="7.4" fill="#ffffff"/>
<circle cx="1628.11" cy="320.36" r="7.4" fill="#ffffff"/>
<circle cx="1643.18" cy="320.36" r="7.4" fill="#ffffff"/>
<circle cx="1658.25" cy="320.36" r="7.4" fill="#ffffff"/>
<circle cx="1673.32" cy="320.36" r="7.4" fill="#ffffff"/>
<circle cx="1688.39" cy="320.36" r="7.4" fill="#ffffff"/>
<circle cx="1703.46" cy="320.36" r="7.4" fill="#ffffff"/>
<circle cx="1718.53" cy="320.36" r="7.4" fill="#ffffff"/>
<circle cx="1733.60" cy="320.36" r="7.4" fill="#ffffff"/>
<circle cx="1748.67" cy="320.36" r="7.4" fill="#ffffff"/>
<circle cx="1763.74" cy="320.36" r="7.4" fill="#ffffff"/>
<circle cx="1778.81" cy="320.36" r="7.4" fill="#ffffff"/>
<circle cx="1793.88" cy="320.36" r="7.4" fill="#ffffff"/>
<circle cx="1808.95" cy="320.36" r="7.4" fill="#ffffff"/>
<circle cx="1824.02" cy="320.36" r="7.4" fill="#ffffff"/>
<circle cx="1839.09" cy="320.36" r="7.4" fill="#ffffff"/>
<circle cx="1854.16" cy="320.36" r="7.4" fill="#ffffff"/>
<circle cx="1869.23" cy="320.36" r="7.4" fill="#ffffff"/>
<circle cx="1884.30" cy="320.36" r="7.4" fill="#ffffff"/>
<circle cx="1899.37" cy="320.36" r="7.4" fill="#ffffff"/>
<circle cx="1914.44" cy="320.36" r="7.4" fill="#ffffff"/>
<circle cx="1929.51" cy="320.36" r="7.4" fill="#ffffff"/>
<circle cx="1944.58" cy="320.36" r="7.4" fill="#ffffff"/>
<circle cx="1959.65" cy="320.36" r="7.4" fill="#ffffff"/>
<circle cx="1974.72" cy="320.36" r="7.4" fill="#ffffff"/>
<circle cx="1989.79" cy="320.36" r="7.4" fill="#ffffff"/>
<circle cx="226.60" cy="350.40" r="7.4" fill="#d9a830"/>
<circle cx="241.67" cy="350.40" r="7.4" fill="#e9c264"/>
<circle cx="256.74" cy="350.40" r="7.4" fill="#d9a830"/>
<circle cx="271.81" cy="350.40" r="7.4" fill="#d9a830"/>
<circle cx="286.88" cy="350.40" r="7.4" fill="#ffffff"/>
<circle cx="301.95" cy="350.40" r="7.4" fill="#ffffff"/>
<circle cx="317.02" cy="350.40" r="7.4" fill="#ffffff"/>
<circle cx="332.09" cy="350.40" r="7.4" fill="#ffffff"/>
<circle cx="347.16" cy="350.40" r="7.4" fill="#ffffff"/>
<circle cx="362.23" cy="350.40" r="7.4" fill="#ffffff"/>
<circle cx="377.30" cy="350.40" r="7.4" fill="#d9a830"/>
<circle cx="392.37" cy="350.40" r="7.4" fill="#ffffff"/>
<circle cx="407.44" cy="350.40" r="7.4" fill="#ffffff"/>
<circle cx="422.51" cy="350.40" r="7.4" fill="#ffffff"/>
<circle cx="437.58" cy="350.40" r="7.4" fill="#ffffff"/>
<circle cx="452.65" cy="350.40" r="7.4" fill="#ffffff"/>
<circle cx="467.72" cy="350.40" r="7.4" fill="#ffffff"/>
<circle cx="482.79" cy="350.40" r="7.4" fill="#d9a830"/>
<circle cx="497.86" cy="350.40" r="7.4" fill="#ffffff"/>
<circle cx="512.93" cy="350.40" r="7.4" fill="#fbe2a1"/>
<circle cx="528.00" cy="350.40" r="7.4" fill="#fbe2a1"/>
<circle cx="543.07" cy="350.40" r="7.4" fill="#ffffff"/>
<circle cx="558.14" cy="350.40" r="7.4" fill="#ffffff"/>
<circle cx="573.21" cy="350.40" r="7.4" fill="#ffffff"/>
<circle cx="588.28" cy="350.40" r="7.4" fill="#ffffff"/>
<circle cx="603.35" cy="350.40" r="7.4" fill="#ffffff"/>
<circle cx="618.42" cy="350.40" r="7.4" fill="#fbe2a1"/>
<circle cx="633.49" cy="350.40" r="7.4" fill="#d9a830"/>
<circle cx="648.56" cy="350.40" r="7.4" fill="#ffffff"/>
<circle cx="663.63" cy="350.40" r="7.4" fill="#ffffff"/>
<circle cx="678.70" cy="350.40" r="7.4" fill="#fbe2a1"/>
<circle cx="693.77" cy="350.40" r="7.4" fill="#ffffff"/>
<circle cx="708.84" cy="350.40" r="7.4" fill="#ffffff"/>
<circle cx="723.91" cy="350.40" r="7.4" fill="#ffffff"/>
<circle cx="738.98" cy="350.40" r="7.4" fill="#ffffff"/>
<circle cx="754.05" cy="350.40" r="7.4" fill="#ffffff"/>
<circle cx="769.12" cy="350.40" r="7.4" fill="#ffffff"/>
<circle cx="784.19" cy="350.40" r="7.4" fill="#ffffff"/>
<circle cx="799.26" cy="350.40" r="7.4" fill="#ffffff"/>
<circle cx="814.33" cy="350.40" r="7.4" fill="#ffffff"/>
<circle cx="829.40" cy="350.40" r="7.4" fill="#ffffff"/>
<circle cx="844.47" cy="350.40" r="7.4" fill="#ffffff"/>
<circle cx="859.54" cy="350.40" r="7.4" fill="#ffffff"/>
<circle cx="874.61" cy="350.40" r="7.4" fill="#ffffff"/>
<circle cx="889.68" cy="350.40" r="7.4" fill="#ffffff"/>
<circle cx="904.75" cy="350.40" r="7.4" fill="#ffffff"/>
<circle cx="919.82" cy="350.40" r="7.4" fill="#ffffff"/>
<circle cx="934.89" cy="350.40" r="7.4" fill="#ffffff"/>
<circle cx="949.96" cy="350.40" r="7.4" fill="#ffffff"/>
<circle cx="965.03" cy="350.40" r="7.4" fill="#ffffff"/>
<circle cx="980.10" cy="350.40" r="7.4" fill="#ffffff"/>
<circle cx="995.17" cy="350.40" r="7.4" fill="#fbe2a1"/>
<circle cx="1010.24" cy="350.40" r="7.4" fill="#ffffff"/>
<circle cx="1025.31" cy="350.40" r="7.4" fill="#ffffff"/>
<circle cx="1040.38" cy="350.40" r="7.4" fill="#ffffff"/>
<circle cx="1055.45" cy="350.40" r="7.4" fill="#ffffff"/>
<circle cx="1070.52" cy="350.40" r="7.4" fill="#ffffff"/>
<circle cx="1085.59" cy="350.40" r="7.4" fill="#ffffff"/>
<circle cx="1100.66" cy="350.40" r="7.4" fill="#ffffff"/>
<circle cx="1115.73" cy="350.40" r="7.4" fill="#ffffff"/>
<circle cx="1130.80" cy="350.40" r="7.4" fill="#ffffff"/>
<circle cx="1145.87" cy="350.40" r="7.4" fill="#fbe2a1"/>
<circle cx="1160.94" cy="350.40" r="7.4" fill="#ffffff"/>
<circle cx="1176.01" cy="350.40" r="7.4" fill="#ffffff"/>
<circle cx="1191.08" cy="350.40" r="7.4" fill="#ffffff"/>
<circle cx="1206.15" cy="350.40" r="7.4" fill="#ffffff"/>
<circle cx="1221.22" cy="350.40" r="7.4" fill="#ffffff"/>
<circle cx="1236.29" cy="350.40" r="7.4" fill="#fbe2a1"/>
<circle cx="1251.36" cy="350.40" r="7.4" fill="#ffffff"/>
<circle cx="1266.43" cy="350.40" r="7.4" fill="#ffffff"/>
<circle cx="1281.50" cy="350.40" r="7.4" fill="#e9c264"/>
<circle cx="1296.57" cy="350.40" r="7.4" fill="#ffffff"/>
<circle cx="1311.64" cy="350.40" r="7.4" fill="#ffffff"/>
<circle cx="1326.71" cy="350.40" r="7.4" fill="#ffffff"/>
<circle cx="1341.78" cy="350.40" r="7.4" fill="#d7ebfa"/>
<circle cx="1356.85" cy="350.40" r="7.4" fill="#d7ebfa"/>
<circle cx="1371.92" cy="350.40" r="7.4" fill="#d7ebfa"/>
<circle cx="1386.99" cy="350.40" r="7.4" fill="#ffffff"/>
<circle cx="1402.06" cy="350.40" r="7.4" fill="#e9c264"/>
<circle cx="1417.13" cy="350.40" r="7.4" fill="#ffffff"/>
<circle cx="1432.20" cy="350.40" r="7.4" fill="#ffffff"/>
<circle cx="1447.27" cy="350.40" r="7.4" fill="#69afe3"/>
<circle cx="1462.34" cy="350.40" r="7.4" fill="#ffffff"/>
<circle cx="1477.41" cy="350.40" r="7.4" fill="#ffffff"/>
<circle cx="1492.48" cy="350.40" r="7.4" fill="#d9a830"/>
<circle cx="1507.55" cy="350.40" r="7.4" fill="#ffffff"/>
<circle cx="1522.62" cy="350.40" r="7.4" fill="#a6d2f1"/>
<circle cx="1537.69" cy="350.40" r="7.4" fill="#ffffff"/>
<circle cx="1552.76" cy="350.40" r="7.4" fill="#ffffff"/>
<circle cx="1567.83" cy="350.40" r="7.4" fill="#fbe2a1"/>
<circle cx="1582.90" cy="350.40" r="7.4" fill="#a6d2f1"/>
<circle cx="1597.97" cy="350.40" r="7.4" fill="#ffffff"/>
<circle cx="1613.04" cy="350.40" r="7.4" fill="#a6d2f1"/>
<circle cx="1628.11" cy="350.40" r="7.4" fill="#69afe3"/>
<circle cx="1643.18" cy="350.40" r="7.4" fill="#ffffff"/>
<circle cx="1658.25" cy="350.40" r="7.4" fill="#ffffff"/>
<circle cx="1673.32" cy="350.40" r="7.4" fill="#fbe2a1"/>
<circle cx="1688.39" cy="350.40" r="7.4" fill="#ffffff"/>
<circle cx="1703.46" cy="350.40" r="7.4" fill="#ffffff"/>
<circle cx="1718.53" cy="350.40" r="7.4" fill="#ffffff"/>
<circle cx="1733.60" cy="350.40" r="7.4" fill="#ffffff"/>
<circle cx="1748.67" cy="350.40" r="7.4" fill="#ffffff"/>
<circle cx="1763.74" cy="350.40" r="7.4" fill="#ffffff"/>
<circle cx="1778.81" cy="350.40" r="7.4" fill="#d7ebfa"/>
<circle cx="1793.88" cy="350.40" r="7.4" fill="#ffffff"/>
<circle cx="1808.95" cy="350.40" r="7.4" fill="#a6d2f1"/>
<circle cx="1824.02" cy="350.40" r="7.4" fill="#ffffff"/>
<circle cx="1839.09" cy="350.40" r="7.4" fill="#ffffff"/>
<circle cx="1854.16" cy="350.40" r="7.4" fill="#ffffff"/>
<circle cx="1869.23" cy="350.40" r="7.4" fill="#ffffff"/>
<circle cx="1884.30" cy="350.40" r="7.4" fill="#fbe2a1"/>
<circle cx="1899.37" cy="350.40" r="7.4" fill="#ffffff"/>
<circle cx="1914.44" cy="350.40" r="7.4" fill="#d7ebfa"/>
<circle cx="1929.51" cy="350.40" r="7.4" fill="#ffffff"/>
<circle cx="1944.58" cy="350.40" r="7.4" fill="#ffffff"/>
<circle cx="1959.65" cy="350.40" r="7.4" fill="#d7ebfa"/>
<circle cx="1974.72" cy="350.40" r="7.4" fill="#fbe2a1"/>
<circle cx="1989.79" cy="350.40" r="7.4" fill="#ffffff"/>
<circle cx="226.60" cy="380.44" r="7.4" fill="#d9a830"/>
<circle cx="241.67" cy="380.44" r="7.4" fill="#d9a830"/>
<circle cx="256.74" cy="380.44" r="7.4" fill="#d9a830"/>
<circle cx="271.81" cy="380.44" r="7.4" fill="#c18f12"/>
<circle cx="286.88" cy="380.44" r="7.4" fill="#c18f12"/>
<circle cx="301.95" cy="380.44" r="7.4" fill="#ffffff"/>
<circle cx="317.02" cy="380.44" r="7.4" fill="#d9a830"/>
<circle cx="332.09" cy="380.44" r="7.4" fill="#d9a830"/>
<circle cx="347.16" cy="380.44" r="7.4" fill="#d9a830"/>
<circle cx="362.23" cy="380.44" r="7.4" fill="#ffffff"/>
<circle cx="377.30" cy="380.44" r="7.4" fill="#d9a830"/>
<circle cx="392.37" cy="380.44" r="7.4" fill="#c18f12"/>
<circle cx="407.44" cy="380.44" r="7.4" fill="#d9a830"/>
<circle cx="422.51" cy="380.44" r="7.4" fill="#ffffff"/>
<circle cx="437.58" cy="380.44" r="7.4" fill="#ffffff"/>
<circle cx="452.65" cy="380.44" r="7.4" fill="#c18f12"/>
<circle cx="467.72" cy="380.44" r="7.4" fill="#c18f12"/>
<circle cx="482.79" cy="380.44" r="7.4" fill="#c18f12"/>
<circle cx="497.86" cy="380.44" r="7.4" fill="#ffffff"/>
<circle cx="512.93" cy="380.44" r="7.4" fill="#d9a830"/>
<circle cx="528.00" cy="380.44" r="7.4" fill="#d9a830"/>
<circle cx="543.07" cy="380.44" r="7.4" fill="#ffffff"/>
<circle cx="558.14" cy="380.44" r="7.4" fill="#d9a830"/>
<circle cx="573.21" cy="380.44" r="7.4" fill="#ffffff"/>
<circle cx="588.28" cy="380.44" r="7.4" fill="#e9c264"/>
<circle cx="603.35" cy="380.44" r="7.4" fill="#ffffff"/>
<circle cx="618.42" cy="380.44" r="7.4" fill="#d9a830"/>
<circle cx="633.49" cy="380.44" r="7.4" fill="#c18f12"/>
<circle cx="648.56" cy="380.44" r="7.4" fill="#d9a830"/>
<circle cx="663.63" cy="380.44" r="7.4" fill="#ffffff"/>
<circle cx="678.70" cy="380.44" r="7.4" fill="#e9c264"/>
<circle cx="693.77" cy="380.44" r="7.4" fill="#ffffff"/>
<circle cx="708.84" cy="380.44" r="7.4" fill="#d9a830"/>
<circle cx="723.91" cy="380.44" r="7.4" fill="#e9c264"/>
<circle cx="738.98" cy="380.44" r="7.4" fill="#ffffff"/>
<circle cx="754.05" cy="380.44" r="7.4" fill="#fbe2a1"/>
<circle cx="769.12" cy="380.44" r="7.4" fill="#fbe2a1"/>
<circle cx="784.19" cy="380.44" r="7.4" fill="#ffffff"/>
<circle cx="799.26" cy="380.44" r="7.4" fill="#ffffff"/>
<circle cx="814.33" cy="380.44" r="7.4" fill="#ffffff"/>
<circle cx="829.40" cy="380.44" r="7.4" fill="#ffffff"/>
<circle cx="844.47" cy="380.44" r="7.4" fill="#ffffff"/>
<circle cx="859.54" cy="380.44" r="7.4" fill="#ffffff"/>
<circle cx="874.61" cy="380.44" r="7.4" fill="#e9c264"/>
<circle cx="889.68" cy="380.44" r="7.4" fill="#ffffff"/>
<circle cx="904.75" cy="380.44" r="7.4" fill="#ffffff"/>
<circle cx="919.82" cy="380.44" r="7.4" fill="#ffffff"/>
<circle cx="934.89" cy="380.44" r="7.4" fill="#ffffff"/>
<circle cx="949.96" cy="380.44" r="7.4" fill="#ffffff"/>
<circle cx="965.03" cy="380.44" r="7.4" fill="#d9a830"/>
<circle cx="980.10" cy="380.44" r="7.4" fill="#ffffff"/>
<circle cx="995.17" cy="380.44" r="7.4" fill="#e9c264"/>
<circle cx="1010.24" cy="380.44" r="7.4" fill="#ffffff"/>
<circle cx="1025.31" cy="380.44" r="7.4" fill="#fbe2a1"/>
<circle cx="1040.38" cy="380.44" r="7.4" fill="#ffffff"/>
<circle cx="1055.45" cy="380.44" r="7.4" fill="#ffffff"/>
<circle cx="1070.52" cy="380.44" r="7.4" fill="#d9a830"/>
<circle cx="1085.59" cy="380.44" r="7.4" fill="#ffffff"/>
<circle cx="1100.66" cy="380.44" r="7.4" fill="#ffffff"/>
<circle cx="1115.73" cy="380.44" r="7.4" fill="#d9a830"/>
<circle cx="1130.80" cy="380.44" r="7.4" fill="#e9c264"/>
<circle cx="1145.87" cy="380.44" r="7.4" fill="#d9a830"/>
<circle cx="1160.94" cy="380.44" r="7.4" fill="#d9a830"/>
<circle cx="1176.01" cy="380.44" r="7.4" fill="#d9a830"/>
<circle cx="1191.08" cy="380.44" r="7.4" fill="#d9a830"/>
<circle cx="1206.15" cy="380.44" r="7.4" fill="#fbe2a1"/>
<circle cx="1221.22" cy="380.44" r="7.4" fill="#ffffff"/>
<circle cx="1236.29" cy="380.44" r="7.4" fill="#d9a830"/>
<circle cx="1251.36" cy="380.44" r="7.4" fill="#e9c264"/>
<circle cx="1266.43" cy="380.44" r="7.4" fill="#ffffff"/>
<circle cx="1281.50" cy="380.44" r="7.4" fill="#d9a830"/>
<circle cx="1296.57" cy="380.44" r="7.4" fill="#d7ebfa"/>
<circle cx="1311.64" cy="380.44" r="7.4" fill="#d9a830"/>
<circle cx="1326.71" cy="380.44" r="7.4" fill="#fbe2a1"/>
<circle cx="1341.78" cy="380.44" r="7.4" fill="#e9c264"/>
<circle cx="1356.85" cy="380.44" r="7.4" fill="#e9c264"/>
<circle cx="1371.92" cy="380.44" r="7.4" fill="#ffffff"/>
<circle cx="1386.99" cy="380.44" r="7.4" fill="#e9c264"/>
<circle cx="1402.06" cy="380.44" r="7.4" fill="#ffffff"/>
<circle cx="1417.13" cy="380.44" r="7.4" fill="#d7ebfa"/>
<circle cx="1432.20" cy="380.44" r="7.4" fill="#d7ebfa"/>
<circle cx="1447.27" cy="380.44" r="7.4" fill="#d7ebfa"/>
<circle cx="1462.34" cy="380.44" r="7.4" fill="#ffffff"/>
<circle cx="1477.41" cy="380.44" r="7.4" fill="#ffffff"/>
<circle cx="1492.48" cy="380.44" r="7.4" fill="#d9a830"/>
<circle cx="1507.55" cy="380.44" r="7.4" fill="#ffffff"/>
<circle cx="1522.62" cy="380.44" r="7.4" fill="#fbe2a1"/>
<circle cx="1537.69" cy="380.44" r="7.4" fill="#ffffff"/>
<circle cx="1552.76" cy="380.44" r="7.4" fill="#ffffff"/>
<circle cx="1567.83" cy="380.44" r="7.4" fill="#ffffff"/>
<circle cx="1582.90" cy="380.44" r="7.4" fill="#e9c264"/>
<circle cx="1597.97" cy="380.44" r="7.4" fill="#e9c264"/>
<circle cx="1613.04" cy="380.44" r="7.4" fill="#d7ebfa"/>
<circle cx="1628.11" cy="380.44" r="7.4" fill="#a6d2f1"/>
<circle cx="1643.18" cy="380.44" r="7.4" fill="#fbe2a1"/>
<circle cx="1658.25" cy="380.44" r="7.4" fill="#d9a830"/>
<circle cx="1673.32" cy="380.44" r="7.4" fill="#ffffff"/>
<circle cx="1688.39" cy="380.44" r="7.4" fill="#fbe2a1"/>
<circle cx="1703.46" cy="380.44" r="7.4" fill="#ffffff"/>
<circle cx="1718.53" cy="380.44" r="7.4" fill="#fbe2a1"/>
<circle cx="1733.60" cy="380.44" r="7.4" fill="#fbe2a1"/>
<circle cx="1748.67" cy="380.44" r="7.4" fill="#d7ebfa"/>
<circle cx="1763.74" cy="380.44" r="7.4" fill="#ffffff"/>
<circle cx="1778.81" cy="380.44" r="7.4" fill="#fbe2a1"/>
<circle cx="1793.88" cy="380.44" r="7.4" fill="#d7ebfa"/>
<circle cx="1808.95" cy="380.44" r="7.4" fill="#e9c264"/>
<circle cx="1824.02" cy="380.44" r="7.4" fill="#e9c264"/>
<circle cx="1839.09" cy="380.44" r="7.4" fill="#ffffff"/>
<circle cx="1854.16" cy="380.44" r="7.4" fill="#ffffff"/>
<circle cx="1869.23" cy="380.44" r="7.4" fill="#e9c264"/>
<circle cx="1884.30" cy="380.44" r="7.4" fill="#ffffff"/>
<circle cx="1899.37" cy="380.44" r="7.4" fill="#d7ebfa"/>
<circle cx="1914.44" cy="380.44" r="7.4" fill="#fbe2a1"/>
<circle cx="1929.51" cy="380.44" r="7.4" fill="#e9c264"/>
<circle cx="1944.58" cy="380.44" r="7.4" fill="#ffffff"/>
<circle cx="1959.65" cy="380.44" r="7.4" fill="#fbe2a1"/>
<circle cx="1974.72" cy="380.44" r="7.4" fill="#fbe2a1"/>
<circle cx="1989.79" cy="380.44" r="7.4" fill="#d9a830"/>
<circle cx="226.60" cy="410.48" r="7.4" fill="#ffffff"/>
<circle cx="241.67" cy="410.48" r="7.4" fill="#ffffff"/>
<circle cx="256.74" cy="410.48" r="7.4" fill="#ffffff"/>
<circle cx="271.81" cy="410.48" r="7.4" fill="#ffffff"/>
<circle cx="286.88" cy="410.48" r="7.4" fill="#ffffff"/>
<circle cx="301.95" cy="410.48" r="7.4" fill="#ffffff"/>
<circle cx="317.02" cy="410.48" r="7.4" fill="#ffffff"/>
<circle cx="332.09" cy="410.48" r="7.4" fill="#ffffff"/>
<circle cx="347.16" cy="410.48" r="7.4" fill="#ffffff"/>
<circle cx="362.23" cy="410.48" r="7.4" fill="#ffffff"/>
<circle cx="377.30" cy="410.48" r="7.4" fill="#ffffff"/>
<circle cx="392.37" cy="410.48" r="7.4" fill="#ffffff"/>
<circle cx="407.44" cy="410.48" r="7.4" fill="#ffffff"/>
<circle cx="422.51" cy="410.48" r="7.4" fill="#ffffff"/>
<circle cx="437.58" cy="410.48" r="7.4" fill="#ffffff"/>
<circle cx="452.65" cy="410.48" r="7.4" fill="#ffffff"/>
<circle cx="467.72" cy="410.48" r="7.4" fill="#ffffff"/>
<circle cx="482.79" cy="410.48" r="7.4" fill="#ffffff"/>
<circle cx="497.86" cy="410.48" r="7.4" fill="#ffffff"/>
<circle cx="512.93" cy="410.48" r="7.4" fill="#ffffff"/>
<circle cx="528.00" cy="410.48" r="7.4" fill="#ffffff"/>
<circle cx="543.07" cy="410.48" r="7.4" fill="#ffffff"/>
<circle cx="558.14" cy="410.48" r="7.4" fill="#ffffff"/>
<circle cx="573.21" cy="410.48" r="7.4" fill="#ffffff"/>
<circle cx="588.28" cy="410.48" r="7.4" fill="#ffffff"/>
<circle cx="603.35" cy="410.48" r="7.4" fill="#ffffff"/>
<circle cx="618.42" cy="410.48" r="7.4" fill="#ffffff"/>
<circle cx="633.49" cy="410.48" r="7.4" fill="#ffffff"/>
<circle cx="648.56" cy="410.48" r="7.4" fill="#ffffff"/>
<circle cx="663.63" cy="410.48" r="7.4" fill="#ffffff"/>
<circle cx="678.70" cy="410.48" r="7.4" fill="#ffffff"/>
<circle cx="693.77" cy="410.48" r="7.4" fill="#ffffff"/>
<circle cx="708.84" cy="410.48" r="7.4" fill="#ffffff"/>
<circle cx="723.91" cy="410.48" r="7.4" fill="#ffffff"/>
<circle cx="738.98" cy="410.48" r="7.4" fill="#ffffff"/>
<circle cx="754.05" cy="410.48" r="7.4" fill="#ffffff"/>
<circle cx="769.12" cy="410.48" r="7.4" fill="#ffffff"/>
<circle cx="784.19" cy="410.48" r="7.4" fill="#ffffff"/>
<circle cx="799.26" cy="410.48" r="7.4" fill="#ffffff"/>
<circle cx="814.33" cy="410.48" r="7.4" fill="#ffffff"/>
<circle cx="829.40" cy="410.48" r="7.4" fill="#ffffff"/>
<circle cx="844.47" cy="410.48" r="7.4" fill="#ffffff"/>
<circle cx="859.54" cy="410.48" r="7.4" fill="#ffffff"/>
<circle cx="874.61" cy="410.48" r="7.4" fill="#69afe3"/>
<circle cx="889.68" cy="410.48" r="7.4" fill="#ffffff"/>
<circle cx="904.75" cy="410.48" r="7.4" fill="#ffffff"/>
<circle cx="919.82" cy="410.48" r="7.4" fill="#ffffff"/>
<circle cx="934.89" cy="410.48" r="7.4" fill="#ffffff"/>
<circle cx="949.96" cy="410.48" r="7.4" fill="#ffffff"/>
<circle cx="965.03" cy="410.48" r="7.4" fill="#ffffff"/>
<circle cx="980.10" cy="410.48" r="7.4" fill="#ffffff"/>
<circle cx="995.17" cy="410.48" r="7.4" fill="#ffffff"/>
<circle cx="1010.24" cy="410.48" r="7.4" fill="#ffffff"/>
<circle cx="1025.31" cy="410.48" r="7.4" fill="#69afe3"/>
<circle cx="1040.38" cy="410.48" r="7.4" fill="#ffffff"/>
<circle cx="1055.45" cy="410.48" r="7.4" fill="#ffffff"/>
<circle cx="1070.52" cy="410.48" r="7.4" fill="#ffffff"/>
<circle cx="1085.59" cy="410.48" r="7.4" fill="#ffffff"/>
<circle cx="1100.66" cy="410.48" r="7.4" fill="#ffffff"/>
<circle cx="1115.73" cy="410.48" r="7.4" fill="#ffffff"/>
<circle cx="1130.80" cy="410.48" r="7.4" fill="#ffffff"/>
<circle cx="1145.87" cy="410.48" r="7.4" fill="#ffffff"/>
<circle cx="1160.94" cy="410.48" r="7.4" fill="#ffffff"/>
<circle cx="1176.01" cy="410.48" r="7.4" fill="#ffffff"/>
<circle cx="1191.08" cy="410.48" r="7.4" fill="#ffffff"/>
<circle cx="1206.15" cy="410.48" r="7.4" fill="#ffffff"/>
<circle cx="1221.22" cy="410.48" r="7.4" fill="#ffffff"/>
<circle cx="1236.29" cy="410.48" r="7.4" fill="#ffffff"/>
<circle cx="1251.36" cy="410.48" r="7.4" fill="#ffffff"/>
<circle cx="1266.43" cy="410.48" r="7.4" fill="#ffffff"/>
<circle cx="1281.50" cy="410.48" r="7.4" fill="#ffffff"/>
<circle cx="1296.57" cy="410.48" r="7.4" fill="#ffffff"/>
<circle cx="1311.64" cy="410.48" r="7.4" fill="#ffffff"/>
<circle cx="1326.71" cy="410.48" r="7.4" fill="#ffffff"/>
<circle cx="1341.78" cy="410.48" r="7.4" fill="#ffffff"/>
<circle cx="1356.85" cy="410.48" r="7.4" fill="#ffffff"/>
<circle cx="1371.92" cy="410.48" r="7.4" fill="#ffffff"/>
<circle cx="1386.99" cy="410.48" r="7.4" fill="#ffffff"/>
<circle cx="1402.06" cy="410.48" r="7.4" fill="#ffffff"/>
<circle cx="1417.13" cy="410.48" r="7.4" fill="#ffffff"/>
<circle cx="1432.20" cy="410.48" r="7.4" fill="#ffffff"/>
<circle cx="1447.27" cy="410.48" r="7.4" fill="#ffffff"/>
<circle cx="1462.34" cy="410.48" r="7.4" fill="#ffffff"/>
<circle cx="1477.41" cy="410.48" r="7.4" fill="#ffffff"/>
<circle cx="1492.48" cy="410.48" r="7.4" fill="#ffffff"/>
<circle cx="1507.55" cy="410.48" r="7.4" fill="#ffffff"/>
<circle cx="1522.62" cy="410.48" r="7.4" fill="#ffffff"/>
<circle cx="1537.69" cy="410.48" r="7.4" fill="#ffffff"/>
<circle cx="1552.76" cy="410.48" r="7.4" fill="#ffffff"/>
<circle cx="1567.83" cy="410.48" r="7.4" fill="#ffffff"/>
<circle cx="1582.90" cy="410.48" r="7.4" fill="#ffffff"/>
<circle cx="1597.97" cy="410.48" r="7.4" fill="#ffffff"/>
<circle cx="1613.04" cy="410.48" r="7.4" fill="#ffffff"/>
<circle cx="1628.11" cy="410.48" r="7.4" fill="#ffffff"/>
<circle cx="1643.18" cy="410.48" r="7.4" fill="#a6d2f1"/>
<circle cx="1658.25" cy="410.48" r="7.4" fill="#ffffff"/>
<circle cx="1673.32" cy="410.48" r="7.4" fill="#ffffff"/>
<circle cx="1688.39" cy="410.48" r="7.4" fill="#ffffff"/>
<circle cx="1703.46" cy="410.48" r="7.4" fill="#ffffff"/>
<circle cx="1718.53" cy="410.48" r="7.4" fill="#ffffff"/>
<circle cx="1733.60" cy="410.48" r="7.4" fill="#ffffff"/>
<circle cx="1748.67" cy="410.48" r="7.4" fill="#ffffff"/>
<circle cx="1763.74" cy="410.48" r="7.4" fill="#ffffff"/>
<circle cx="1778.81" cy="410.48" r="7.4" fill="#ffffff"/>
<circle cx="1793.88" cy="410.48" r="7.4" fill="#ffffff"/>
<circle cx="1808.95" cy="410.48" r="7.4" fill="#ffffff"/>
<circle cx="1824.02" cy="410.48" r="7.4" fill="#ffffff"/>
<circle cx="1839.09" cy="410.48" r="7.4" fill="#ffffff"/>
<circle cx="1854.16" cy="410.48" r="7.4" fill="#ffffff"/>
<circle cx="1869.23" cy="410.48" r="7.4" fill="#ffffff"/>
<circle cx="1884.30" cy="410.48" r="7.4" fill="#ffffff"/>
<circle cx="1899.37" cy="410.48" r="7.4" fill="#ffffff"/>
<circle cx="1914.44" cy="410.48" r="7.4" fill="#ffffff"/>
<circle cx="1929.51" cy="410.48" r="7.4" fill="#ffffff"/>
<circle cx="1944.58" cy="410.48" r="7.4" fill="#ffffff"/>
<circle cx="1959.65" cy="410.48" r="7.4" fill="#ffffff"/>
<circle cx="1974.72" cy="410.48" r="7.4" fill="#ffffff"/>
<circle cx="1989.79" cy="410.48" r="7.4" fill="#ffffff"/>
<circle cx="226.60" cy="440.52" r="7.4" fill="#a6d2f1"/>
<circle cx="241.67" cy="440.52" r="7.4" fill="#d7ebfa"/>
<circle cx="256.74" cy="440.52" r="7.4" fill="#d7ebfa"/>
<circle cx="271.81" cy="440.52" r="7.4" fill="#a6d2f1"/>
<circle cx="286.88" cy="440.52" r="7.4" fill="#d7ebfa"/>
<circle cx="301.95" cy="440.52" r="7.4" fill="#fbe2a1"/>
<circle cx="317.02" cy="440.52" r="7.4" fill="#fbe2a1"/>
<circle cx="332.09" cy="440.52" r="7.4" fill="#fbe2a1"/>
<circle cx="347.16" cy="440.52" r="7.4" fill="#fbe2a1"/>
<circle cx="362.23" cy="440.52" r="7.4" fill="#d7ebfa"/>
<circle cx="377.30" cy="440.52" r="7.4" fill="#a6d2f1"/>
<circle cx="392.37" cy="440.52" r="7.4" fill="#d7ebfa"/>
<circle cx="407.44" cy="440.52" r="7.4" fill="#fbe2a1"/>
<circle cx="422.51" cy="440.52" r="7.4" fill="#d7ebfa"/>
<circle cx="437.58" cy="440.52" r="7.4" fill="#d7ebfa"/>
<circle cx="452.65" cy="440.52" r="7.4" fill="#d7ebfa"/>
<circle cx="467.72" cy="440.52" r="7.4" fill="#d7ebfa"/>
<circle cx="482.79" cy="440.52" r="7.4" fill="#d7ebfa"/>
<circle cx="497.86" cy="440.52" r="7.4" fill="#fbe2a1"/>
<circle cx="512.93" cy="440.52" r="7.4" fill="#d7ebfa"/>
<circle cx="528.00" cy="440.52" r="7.4" fill="#d7ebfa"/>
<circle cx="543.07" cy="440.52" r="7.4" fill="#fbe2a1"/>
<circle cx="558.14" cy="440.52" r="7.4" fill="#e9c264"/>
<circle cx="573.21" cy="440.52" r="7.4" fill="#e9c264"/>
<circle cx="588.28" cy="440.52" r="7.4" fill="#d7ebfa"/>
<circle cx="603.35" cy="440.52" r="7.4" fill="#d7ebfa"/>
<circle cx="618.42" cy="440.52" r="7.4" fill="#d7ebfa"/>
<circle cx="633.49" cy="440.52" r="7.4" fill="#d7ebfa"/>
<circle cx="648.56" cy="440.52" r="7.4" fill="#fbe2a1"/>
<circle cx="663.63" cy="440.52" r="7.4" fill="#fbe2a1"/>
<circle cx="678.70" cy="440.52" r="7.4" fill="#d7ebfa"/>
<circle cx="693.77" cy="440.52" r="7.4" fill="#d7ebfa"/>
<circle cx="708.84" cy="440.52" r="7.4" fill="#fbe2a1"/>
<circle cx="723.91" cy="440.52" r="7.4" fill="#fbe2a1"/>
<circle cx="738.98" cy="440.52" r="7.4" fill="#fbe2a1"/>
<circle cx="754.05" cy="440.52" r="7.4" fill="#e9c264"/>
<circle cx="769.12" cy="440.52" r="7.4" fill="#d7ebfa"/>
<circle cx="784.19" cy="440.52" r="7.4" fill="#d7ebfa"/>
<circle cx="799.26" cy="440.52" r="7.4" fill="#e9c264"/>
<circle cx="814.33" cy="440.52" r="7.4" fill="#a6d2f1"/>
<circle cx="829.40" cy="440.52" r="7.4" fill="#e9c264"/>
<circle cx="844.47" cy="440.52" r="7.4" fill="#fbe2a1"/>
<circle cx="859.54" cy="440.52" r="7.4" fill="#e9c264"/>
<circle cx="874.61" cy="440.52" r="7.4" fill="#e9c264"/>
<circle cx="889.68" cy="440.52" r="7.4" fill="#d7ebfa"/>
<circle cx="904.75" cy="440.52" r="7.4" fill="#e9c264"/>
<circle cx="919.82" cy="440.52" r="7.4" fill="#e9c264"/>
<circle cx="934.89" cy="440.52" r="7.4" fill="#fbe2a1"/>
<circle cx="949.96" cy="440.52" r="7.4" fill="#fbe2a1"/>
<circle cx="965.03" cy="440.52" r="7.4" fill="#e9c264"/>
<circle cx="980.10" cy="440.52" r="7.4" fill="#e9c264"/>
<circle cx="995.17" cy="440.52" r="7.4" fill="#d9a830"/>
<circle cx="1010.24" cy="440.52" r="7.4" fill="#fbe2a1"/>
<circle cx="1025.31" cy="440.52" r="7.4" fill="#fbe2a1"/>
<circle cx="1040.38" cy="440.52" r="7.4" fill="#fbe2a1"/>
<circle cx="1055.45" cy="440.52" r="7.4" fill="#d7ebfa"/>
<circle cx="1070.52" cy="440.52" r="7.4" fill="#d9a830"/>
<circle cx="1085.59" cy="440.52" r="7.4" fill="#fbe2a1"/>
<circle cx="1100.66" cy="440.52" r="7.4" fill="#fbe2a1"/>
<circle cx="1115.73" cy="440.52" r="7.4" fill="#fbe2a1"/>
<circle cx="1130.80" cy="440.52" r="7.4" fill="#fbe2a1"/>
<circle cx="1145.87" cy="440.52" r="7.4" fill="#fbe2a1"/>
<circle cx="1160.94" cy="440.52" r="7.4" fill="#d7ebfa"/>
<circle cx="1176.01" cy="440.52" r="7.4" fill="#e9c264"/>
<circle cx="1191.08" cy="440.52" r="7.4" fill="#d9a830"/>
<circle cx="1206.15" cy="440.52" r="7.4" fill="#e9c264"/>
<circle cx="1221.22" cy="440.52" r="7.4" fill="#d9a830"/>
<circle cx="1236.29" cy="440.52" r="7.4" fill="#d7ebfa"/>
<circle cx="1251.36" cy="440.52" r="7.4" fill="#fbe2a1"/>
<circle cx="1266.43" cy="440.52" r="7.4" fill="#a6d2f1"/>
<circle cx="1281.50" cy="440.52" r="7.4" fill="#d7ebfa"/>
<circle cx="1296.57" cy="440.52" r="7.4" fill="#e9c264"/>
<circle cx="1311.64" cy="440.52" r="7.4" fill="#fbe2a1"/>
<circle cx="1326.71" cy="440.52" r="7.4" fill="#d9a830"/>
<circle cx="1341.78" cy="440.52" r="7.4" fill="#e9c264"/>
<circle cx="1356.85" cy="440.52" r="7.4" fill="#d9a830"/>
<circle cx="1371.92" cy="440.52" r="7.4" fill="#fbe2a1"/>
<circle cx="1386.99" cy="440.52" r="7.4" fill="#d9a830"/>
<circle cx="1402.06" cy="440.52" r="7.4" fill="#fbe2a1"/>
<circle cx="1417.13" cy="440.52" r="7.4" fill="#d7ebfa"/>
<circle cx="1432.20" cy="440.52" r="7.4" fill="#fbe2a1"/>
<circle cx="1447.27" cy="440.52" r="7.4" fill="#e9c264"/>
<circle cx="1462.34" cy="440.52" r="7.4" fill="#e9c264"/>
<circle cx="1477.41" cy="440.52" r="7.4" fill="#d9a830"/>
<circle cx="1492.48" cy="440.52" r="7.4" fill="#fbe2a1"/>
<circle cx="1507.55" cy="440.52" r="7.4" fill="#d9a830"/>
<circle cx="1522.62" cy="440.52" r="7.4" fill="#d9a830"/>
<circle cx="1537.69" cy="440.52" r="7.4" fill="#a6d2f1"/>
<circle cx="1552.76" cy="440.52" r="7.4" fill="#d7ebfa"/>
<circle cx="1567.83" cy="440.52" r="7.4" fill="#e9c264"/>
<circle cx="1582.90" cy="440.52" r="7.4" fill="#e9c264"/>
<circle cx="1597.97" cy="440.52" r="7.4" fill="#d9a830"/>
<circle cx="1613.04" cy="440.52" r="7.4" fill="#d9a830"/>
<circle cx="1628.11" cy="440.52" r="7.4" fill="#e9c264"/>
<circle cx="1643.18" cy="440.52" r="7.4" fill="#e9c264"/>
<circle cx="1658.25" cy="440.52" r="7.4" fill="#d9a830"/>
<circle cx="1673.32" cy="440.52" r="7.4" fill="#d9a830"/>
<circle cx="1688.39" cy="440.52" r="7.4" fill="#e9c264"/>
<circle cx="1703.46" cy="440.52" r="7.4" fill="#a6d2f1"/>
<circle cx="1718.53" cy="440.52" r="7.4" fill="#a6d2f1"/>
<circle cx="1733.60" cy="440.52" r="7.4" fill="#a6d2f1"/>
<circle cx="1748.67" cy="440.52" r="7.4" fill="#fbe2a1"/>
<circle cx="1763.74" cy="440.52" r="7.4" fill="#d7ebfa"/>
<circle cx="1778.81" cy="440.52" r="7.4" fill="#d9a830"/>
<circle cx="1793.88" cy="440.52" r="7.4" fill="#fbe2a1"/>
<circle cx="1808.95" cy="440.52" r="7.4" fill="#d9a830"/>
<circle cx="1824.02" cy="440.52" r="7.4" fill="#d9a830"/>
<circle cx="1839.09" cy="440.52" r="7.4" fill="#d9a830"/>
<circle cx="1854.16" cy="440.52" r="7.4" fill="#a6d2f1"/>
<circle cx="1869.23" cy="440.52" r="7.4" fill="#a6d2f1"/>
<circle cx="1884.30" cy="440.52" r="7.4" fill="#e9c264"/>
<circle cx="1899.37" cy="440.52" r="7.4" fill="#a6d2f1"/>
<circle cx="1914.44" cy="440.52" r="7.4" fill="#d9a830"/>
<circle cx="1929.51" cy="440.52" r="7.4" fill="#a6d2f1"/>
<circle cx="1944.58" cy="440.52" r="7.4" fill="#a6d2f1"/>
<circle cx="1959.65" cy="440.52" r="7.4" fill="#e9c264"/>
<circle cx="1974.72" cy="440.52" r="7.4" fill="#a6d2f1"/>
<circle cx="1989.79" cy="440.52" r="7.4" fill="#fbe2a1"/>
<circle cx="226.60" cy="470.56" r="7.4" fill="#ffffff"/>
<circle cx="241.67" cy="470.56" r="7.4" fill="#ffffff"/>
<circle cx="256.74" cy="470.56" r="7.4" fill="#ffffff"/>
<circle cx="271.81" cy="470.56" r="7.4" fill="#ffffff"/>
<circle cx="286.88" cy="470.56" r="7.4" fill="#ffffff"/>
<circle cx="301.95" cy="470.56" r="7.4" fill="#ffffff"/>
<circle cx="317.02" cy="470.56" r="7.4" fill="#ffffff"/>
<circle cx="332.09" cy="470.56" r="7.4" fill="#ffffff"/>
<circle cx="347.16" cy="470.56" r="7.4" fill="#ffffff"/>
<circle cx="362.23" cy="470.56" r="7.4" fill="#ffffff"/>
<circle cx="377.30" cy="470.56" r="7.4" fill="#ffffff"/>
<circle cx="392.37" cy="470.56" r="7.4" fill="#ffffff"/>
<circle cx="407.44" cy="470.56" r="7.4" fill="#ffffff"/>
<circle cx="422.51" cy="470.56" r="7.4" fill="#ffffff"/>
<circle cx="437.58" cy="470.56" r="7.4" fill="#ffffff"/>
<circle cx="452.65" cy="470.56" r="7.4" fill="#ffffff"/>
<circle cx="467.72" cy="470.56" r="7.4" fill="#ffffff"/>
<circle cx="482.79" cy="470.56" r="7.4" fill="#ffffff"/>
<circle cx="497.86" cy="470.56" r="7.4" fill="#ffffff"/>
<circle cx="512.93" cy="470.56" r="7.4" fill="#ffffff"/>
<circle cx="528.00" cy="470.56" r="7.4" fill="#ffffff"/>
<circle cx="543.07" cy="470.56" r="7.4" fill="#ffffff"/>
<circle cx="558.14" cy="470.56" r="7.4" fill="#ffffff"/>
<circle cx="573.21" cy="470.56" r="7.4" fill="#ffffff"/>
<circle cx="588.28" cy="470.56" r="7.4" fill="#ffffff"/>
<circle cx="603.35" cy="470.56" r="7.4" fill="#ffffff"/>
<circle cx="618.42" cy="470.56" r="7.4" fill="#ffffff"/>
<circle cx="633.49" cy="470.56" r="7.4" fill="#ffffff"/>
<circle cx="648.56" cy="470.56" r="7.4" fill="#ffffff"/>
<circle cx="663.63" cy="470.56" r="7.4" fill="#ffffff"/>
<circle cx="678.70" cy="470.56" r="7.4" fill="#ffffff"/>
<circle cx="693.77" cy="470.56" r="7.4" fill="#ffffff"/>
<circle cx="708.84" cy="470.56" r="7.4" fill="#ffffff"/>
<circle cx="723.91" cy="470.56" r="7.4" fill="#ffffff"/>
<circle cx="738.98" cy="470.56" r="7.4" fill="#ffffff"/>
<circle cx="754.05" cy="470.56" r="7.4" fill="#ffffff"/>
<circle cx="769.12" cy="470.56" r="7.4" fill="#ffffff"/>
<circle cx="784.19" cy="470.56" r="7.4" fill="#ffffff"/>
<circle cx="799.26" cy="470.56" r="7.4" fill="#ffffff"/>
<circle cx="814.33" cy="470.56" r="7.4" fill="#ffffff"/>
<circle cx="829.40" cy="470.56" r="7.4" fill="#ffffff"/>
<circle cx="844.47" cy="470.56" r="7.4" fill="#ffffff"/>
<circle cx="859.54" cy="470.56" r="7.4" fill="#ffffff"/>
<circle cx="874.61" cy="470.56" r="7.4" fill="#ffffff"/>
<circle cx="889.68" cy="470.56" r="7.4" fill="#ffffff"/>
<circle cx="904.75" cy="470.56" r="7.4" fill="#ffffff"/>
<circle cx="919.82" cy="470.56" r="7.4" fill="#ffffff"/>
<circle cx="934.89" cy="470.56" r="7.4" fill="#ffffff"/>
<circle cx="949.96" cy="470.56" r="7.4" fill="#ffffff"/>
<circle cx="965.03" cy="470.56" r="7.4" fill="#ffffff"/>
<circle cx="980.10" cy="470.56" r="7.4" fill="#ffffff"/>
<circle cx="995.17" cy="470.56" r="7.4" fill="#ffffff"/>
<circle cx="1010.24" cy="470.56" r="7.4" fill="#ffffff"/>
<circle cx="1025.31" cy="470.56" r="7.4" fill="#ffffff"/>
<circle cx="1040.38" cy="470.56" r="7.4" fill="#ffffff"/>
<circle cx="1055.45" cy="470.56" r="7.4" fill="#ffffff"/>
<circle cx="1070.52" cy="470.56" r="7.4" fill="#ffffff"/>
<circle cx="1085.59" cy="470.56" r="7.4" fill="#ffffff"/>
<circle cx="1100.66" cy="470.56" r="7.4" fill="#ffffff"/>
<circle cx="1115.73" cy="470.56" r="7.4" fill="#ffffff"/>
<circle cx="1130.80" cy="470.56" r="7.4" fill="#ffffff"/>
<circle cx="1145.87" cy="470.56" r="7.4" fill="#ffffff"/>
<circle cx="1160.94" cy="470.56" r="7.4" fill="#ffffff"/>
<circle cx="1176.01" cy="470.56" r="7.4" fill="#ffffff"/>
<circle cx="1191.08" cy="470.56" r="7.4" fill="#ffffff"/>
<circle cx="1206.15" cy="470.56" r="7.4" fill="#ffffff"/>
<circle cx="1221.22" cy="470.56" r="7.4" fill="#ffffff"/>
<circle cx="1236.29" cy="470.56" r="7.4" fill="#ffffff"/>
<circle cx="1251.36" cy="470.56" r="7.4" fill="#ffffff"/>
<circle cx="1266.43" cy="470.56" r="7.4" fill="#ffffff"/>
<circle cx="1281.50" cy="470.56" r="7.4" fill="#ffffff"/>
<circle cx="1296.57" cy="470.56" r="7.4" fill="#ffffff"/>
<circle cx="1311.64" cy="470.56" r="7.4" fill="#ffffff"/>
<circle cx="1326.71" cy="470.56" r="7.4" fill="#ffffff"/>
<circle cx="1341.78" cy="470.56" r="7.4" fill="#ffffff"/>
<circle cx="1356.85" cy="470.56" r="7.4" fill="#ffffff"/>
<circle cx="1371.92" cy="470.56" r="7.4" fill="#ffffff"/>
<circle cx="1386.99" cy="470.56" r="7.4" fill="#ffffff"/>
<circle cx="1402.06" cy="470.56" r="7.4" fill="#ffffff"/>
<circle cx="1417.13" cy="470.56" r="7.4" fill="#ffffff"/>
<circle cx="1432.20" cy="470.56" r="7.4" fill="#ffffff"/>
<circle cx="1447.27" cy="470.56" r="7.4" fill="#ffffff"/>
<circle cx="1462.34" cy="470.56" r="7.4" fill="#ffffff"/>
<circle cx="1477.41" cy="470.56" r="7.4" fill="#ffffff"/>
<circle cx="1492.48" cy="470.56" r="7.4" fill="#ffffff"/>
<circle cx="1507.55" cy="470.56" r="7.4" fill="#ffffff"/>
<circle cx="1522.62" cy="470.56" r="7.4" fill="#ffffff"/>
<circle cx="1537.69" cy="470.56" r="7.4" fill="#ffffff"/>
<circle cx="1552.76" cy="470.56" r="7.4" fill="#ffffff"/>
<circle cx="1567.83" cy="470.56" r="7.4" fill="#ffffff"/>
<circle cx="1582.90" cy="470.56" r="7.4" fill="#ffffff"/>
<circle cx="1597.97" cy="470.56" r="7.4" fill="#ffffff"/>
<circle cx="1613.04" cy="470.56" r="7.4" fill="#ffffff"/>
<circle cx="1628.11" cy="470.56" r="7.4" fill="#ffffff"/>
<circle cx="1643.18" cy="470.56" r="7.4" fill="#ffffff"/>
<circle cx="1658.25" cy="470.56" r="7.4" fill="#ffffff"/>
<circle cx="1673.32" cy="470.56" r="7.4" fill="#ffffff"/>
<circle cx="1688.39" cy="470.56" r="7.4" fill="#ffffff"/>
<circle cx="1703.46" cy="470.56" r="7.4" fill="#ffffff"/>
<circle cx="1718.53" cy="470.56" r="7.4" fill="#ffffff"/>
<circle cx="1733.60" cy="470.56" r="7.4" fill="#ffffff"/>
<circle cx="1748.67" cy="470.56" r="7.4" fill="#ffffff"/>
<circle cx="1763.74" cy="470.56" r="7.4" fill="#ffffff"/>
<circle cx="1778.81" cy="470.56" r="7.4" fill="#ffffff"/>
<circle cx="1793.88" cy="470.56" r="7.4" fill="#ffffff"/>
<circle cx="1808.95" cy="470.56" r="7.4" fill="#ffffff"/>
<circle cx="1824.02" cy="470.56" r="7.4" fill="#ffffff"/>
<circle cx="1839.09" cy="470.56" r="7.4" fill="#ffffff"/>
<circle cx="1854.16" cy="470.56" r="7.4" fill="#ffffff"/>
<circle cx="1869.23" cy="470.56" r="7.4" fill="#ffffff"/>
<circle cx="1884.30" cy="470.56" r="7.4" fill="#ffffff"/>
<circle cx="1899.37" cy="470.56" r="7.4" fill="#ffffff"/>
<circle cx="1914.44" cy="470.56" r="7.4" fill="#ffffff"/>
<circle cx="1929.51" cy="470.56" r="7.4" fill="#ffffff"/>
<circle cx="1944.58" cy="470.56" r="7.4" fill="#ffffff"/>
<circle cx="1959.65" cy="470.56" r="7.4" fill="#ffffff"/>
<circle cx="1974.72" cy="470.56" r="7.4" fill="#ffffff"/>
<circle cx="1989.79" cy="470.56" r="7.4" fill="#ffffff"/>
</g>
<g font-size="15.8" fill="#4d4d4d" text-anchor="end">
<text x="209.5" y="55.65">% age &lt; 10 years</text>
<text x="209.5" y="85.69">EVI (t−1)</text>
<text x="209.5" y="115.73">EVI (t−2)</text>
<text x="209.5" y="145.77">Max precipitation (t−1)</text>
<text x="209.5" y="175.81">Max precipitation (t−2)</text>
<text x="209.5" y="205.85">Mean precipitation (t−1)</text>
<text x="209.5" y="235.89">Mean precipitation (t−2)</text>
<text x="209.5" y="265.93">Mean temperature (day, t−1)</text>
<text x="209.5" y="295.97">Mean temperature (day, t−2)</text>
<text x="209.5" y="326.01">Mean temperature (day, t=t)</text>
<text x="209.5" y="356.05">Mean temperature (night, t−1)</text>
<text x="209.5" y="386.09">Mean temperature (night, t−2)</text>
<text x="209.5" y="416.13">Mean temperature (night, t=t)</text>
<text x="209.5" y="446.17">Min precipitation (t−1)</text>
<text x="209.5" y="476.21">Min precipitation (t−2)</text>
</g>
<text x="217.9" y="16.9" font-size="22.7" fill="#000">a)</text>
<text x="2028.3" y="99.8" font-size="19.45" fill="#000">Standardized</text>
<text x="2028.3" y="120.9" font-size="19.45" fill="#000">mean difference</text>
<circle cx="2043.05" cy="147.55" r="7.5" fill="#1c69a8" stroke="#1f1f1f" stroke-width="1.1"/>
<text x="2068.2" y="152.90" font-size="15.6" fill="#000">&lt; −2</text>
<circle cx="2043.05" cy="177.93" r="7.5" fill="#2f87c8" stroke="#1f1f1f" stroke-width="1.1"/>
<text x="2068.2" y="183.28" font-size="15.6" fill="#000">−2 to −1</text>
<circle cx="2043.05" cy="208.31" r="7.5" fill="#69afe3" stroke="#1f1f1f" stroke-width="1.1"/>
<text x="2068.2" y="213.66" font-size="15.6" fill="#000">−1 to −0.5</text>
<circle cx="2043.05" cy="238.69" r="7.5" fill="#a6d2f1" stroke="#1f1f1f" stroke-width="1.1"/>
<text x="2068.2" y="244.04" font-size="15.6" fill="#000">−0.5 to −0.25</text>
<circle cx="2043.05" cy="269.07" r="7.5" fill="#d7ebfa" stroke="#1f1f1f" stroke-width="1.1"/>
<text x="2068.2" y="274.42" font-size="15.6" fill="#000">−0.25 to 0</text>
<circle cx="2043.05" cy="299.45" r="7.5" fill="#fbe2a1" stroke="#1f1f1f" stroke-width="1.1"/>
<text x="2068.2" y="304.80" font-size="15.6" fill="#000">0 to 0.25</text>
<circle cx="2043.05" cy="329.83" r="7.5" fill="#e9c264" stroke="#1f1f1f" stroke-width="1.1"/>
<text x="2068.2" y="335.18" font-size="15.6" fill="#000">0.25 to 0.5</text>
<circle cx="2043.05" cy="360.21" r="7.5" fill="#d9a830" stroke="#1f1f1f" stroke-width="1.1"/>
<text x="2068.2" y="365.56" font-size="15.6" fill="#000">0.5 to 1</text>
<circle cx="2043.05" cy="390.59" r="7.5" fill="#c18f12" stroke="#1f1f1f" stroke-width="1.1"/>
<text x="2068.2" y="395.94" font-size="15.6" fill="#000">1 to 2</text>
<circle cx="2043.05" cy="420.97" r="7.5" fill="#ffffff" stroke="#1f1f1f" stroke-width="1.1"/>
<text x="2068.2" y="426.32" font-size="15.6" fill="#000">Not included</text>
<g>
<line x1="203.90" y1="539.0" x2="203.90" y2="795.8" stroke="#ebebeb" stroke-width="2"/>
<line x1="217.65" y1="539.0" x2="217.65" y2="795.8" stroke="#ebebeb" stroke-width="2"/>
<line x1="231.39" y1="539.0" x2="231.39" y2="795.8" stroke="#ebebeb" stroke-width="2"/>
<line x1="245.14" y1="539.0" x2="245.14" y2="795.8" stroke="#ebebeb" stroke-width="2"/>
<line x1="258.89" y1="539.0" x2="258.89" y2="795.8" stroke="#ebebeb" stroke-width="2"/>
<line x1="272.63" y1="539.0" x2="272.63" y2="795.8" stroke="#ebebeb" stroke-width="2"/>
<line x1="286.38" y1="539.0" x2="286.38" y2="795.8" stroke="#ebebeb" stroke-width="2"/>
<line x1="300.13" y1="539.0" x2="300.13" y2="795.8" stroke="#ebebeb" stroke-width="2"/>
<line x1="313.88" y1="539.0" x2="313.88" y2="795.8" stroke="#ebebeb" stroke-width="2"/>
<line x1="327.62" y1="539.0" x2="327.62" y2="795.8" stroke="#ebebeb" stroke-width="2"/>
<line x1="341.37" y1="539.0" x2="341.37" y2="795.8" stroke="#ebebeb" stroke-width="2"/>
<line x1="355.12" y1="539.0" x2="355.12" y2="795.8" stroke="#ebebeb" stroke-width="2"/>
<line x1="368.86" y1="539.0" x2="368.86" y2="795.8" stroke="#ebebeb" stroke-width="2"/>
<line x1="382.61" y1="539.0" x2="382.61" y2="795.8" stroke="#ebebeb" stroke-width="2"/>
<line x1="396.36" y1="539.0" x2="396.36" y2="795.8" stroke="#ebebeb" stroke-width="2"/>
<line x1="410.11" y1="539.0" x2="410.11" y2="795.8" stroke="#ebebeb" stroke-width="2"/>
<line x1="423.85" y1="539.0" x2="423.85" y2="795.8" stroke="#ebebeb" stroke-width="2"/>
<line x1="437.60" y1="539.0" x2="437.60" y2="795.8" stroke="#ebebeb" stroke-width="2"/>
<line x1="451.35" y1="539.0" x2="451.35" y2="795.8" stroke="#ebebeb" stroke-width="2"/>
<line x1="465.09" y1="539.0" x2="465.09" y2="795.8" stroke="#ebebeb" stroke-width="2"/>
<line x1="478.84" y1="539.0" x2="478.84" y2="795.8" stroke="#ebebeb" stroke-width="2"/>
<line x1="492.59" y1="539.0" x2="492.59" y2="795.8" stroke="#ebebeb" stroke-width="2"/>
<line x1="506.33" y1="539.0" x2="506.33" y2="795.8" stroke="#ebebeb" stroke-width="2"/>
<line x1="520.08" y1="539.0" x2="520.08" y2="795.8" stroke="#ebebeb" stroke-width="2"/>
<line x1="533.83" y1="539.0" x2="533.83" y2="795.8" stroke="#ebebeb" stroke-width="2"/>
<line x1="547.58" y1="539.0" x2="547.58" y2="795.8" stroke="#ebebeb" stroke-width="2"/>
<line x1="561.32" y1="539.0" x2="561.32" y2="795.8" stroke="#ebebeb" stroke-width="2"/>
<line x1="575.07" y1="539.0" x2="575.07" y2="795.8" stroke="#ebebeb" stroke-width="2"/>
<line x1="588.82" y1="539.0" x2="588.82" y2="795.8" stroke="#ebebeb" stroke-width="2"/>
<line x1="602.56" y1="539.0" x2="602.56" y2="795.8" stroke="#ebebeb" stroke-width="2"/>
<line x1="616.31" y1="539.0" x2="616.31" y2="795.8" stroke="#ebebeb" stroke-width="2"/>
<line x1="630.06" y1="539.0" x2="630.06" y2="795.8" stroke="#ebebeb" stroke-width="2"/>
<line x1="643.80" y1="539.0" x2="643.80" y2="795.8" stroke="#ebebeb" stroke-width="2"/>
<line x1="657.55" y1="539.0" x2="657.55" y2="795.8" stroke="#ebebeb" stroke-width="2"/>
<line x1="671.30" y1="539.0" x2="671.30" y2="795.8" stroke="#ebebeb" stroke-width="2"/>
<line x1="685.04" y1="539.0" x2="685.04" y2="795.8" stroke="#ebebeb" stroke-width="2"/>
<line x1="698.79" y1="539.0" x2="698.79" y2="795.8" stroke="#ebebeb" stroke-width="2"/>
<line x1="712.54" y1="539.0" x2="712.54" y2="795.8" stroke="#ebebeb" stroke-width="2"/>
<line x1="726.29" y1="539.0" x2="726.29" y2="795.8" stroke="#ebebeb" stroke-width="2"/>
<line x1="740.03" y1="539.0" x2="740.03" y2="795.8" stroke="#ebebeb" stroke-width="2"/>
<line x1="753.78" y1="539.0" x2="753.78" y2="795.8" stroke="#ebebeb" stroke-width="2"/>
<line x1="767.53" y1="539.0" x2="767.53" y2="795.8" stroke="#ebebeb" stroke-width="2"/>
<line x1="781.27" y1="539.0" x2="781.27" y2="795.8" stroke="#ebebeb" stroke-width="2"/>
<line x1="795.02" y1="539.0" x2="795.02" y2="795.8" stroke="#ebebeb" stroke-width="2"/>
<line x1="808.77" y1="539.0" x2="808.77" y2="795.8" stroke="#ebebeb" stroke-width="2"/>
<line x1="822.51" y1="539.0" x2="822.51" y2="795.8" stroke="#ebebeb" stroke-width="2"/>
<line x1="836.26" y1="539.0" x2="836.26" y2="795.8" stroke="#ebebeb" stroke-width="2"/>
<line x1="850.01" y1="539.0" x2="850.01" y2="795.8" stroke="#ebebeb" stroke-width="2"/>
<line x1="863.76" y1="539.0" x2="863.76" y2="795.8" stroke="#ebebeb" stroke-width="2"/>
<line x1="877.50" y1="539.0" x2="877.50" y2="795.8" stroke="#ebebeb" stroke-width="2"/>
<line x1="891.25" y1="539.0" x2="891.25" y2="795.8" stroke="#ebebeb" stroke-width="2"/>
<line x1="905.00" y1="539.0" x2="905.00" y2="795.8" stroke="#ebebeb" stroke-width="2"/>
<line x1="918.74" y1="539.0" x2="918.74" y2="795.8" stroke="#ebebeb" stroke-width="2"/>
<line x1="932.49" y1="539.0" x2="932.49" y2="795.8" stroke="#ebebeb" stroke-width="2"/>
<line x1="946.24" y1="539.0" x2="946.24" y2="795.8" stroke="#ebebeb" stroke-width="2"/>
<line x1="959.99" y1="539.0" x2="959.99" y2="795.8" stroke="#ebebeb" stroke-width="2"/>
<line x1="973.73" y1="539.0" x2="973.73" y2="795.8" stroke="#ebebeb" stroke-width="2"/>
<line x1="987.48" y1="539.0" x2="987.48" y2="795.8" stroke="#ebebeb" stroke-width="2"/>
<line x1="1001.23" y1="539.0" x2="1001.23" y2="795.8" stroke="#ebebeb" stroke-width="2"/>
<line x1="1014.97" y1="539.0" x2="1014.97" y2="795.8" stroke="#ebebeb" stroke-width="2"/>
<line x1="1028.72" y1="539.0" x2="1028.72" y2="795.8" stroke="#ebebeb" stroke-width="2"/>
<line x1="1042.47" y1="539.0" x2="1042.47" y2="795.8" stroke="#ebebeb" stroke-width="2"/>
<line x1="1056.21" y1="539.0" x2="1056.21" y2="795.8" stroke="#ebebeb" stroke-width="2"/>
<line x1="1069.96" y1="539.0" x2="1069.96" y2="795.8" stroke="#ebebeb" stroke-width="2"/>
<line x1="1083.71" y1="539.0" x2="1083.71" y2="795.8" stroke="#ebebeb" stroke-width="2"/>
<line x1="1097.45" y1="539.0" x2="1097.45" y2="795.8" stroke="#ebebeb" stroke-width="2"/>
<line x1="1111.20" y1="539.0" x2="1111.20" y2="795.8" stroke="#ebebeb" stroke-width="2"/>
<line x1="1124.95" y1="539.0" x2="1124.95" y2="795.8" stroke="#ebebeb" stroke-width="2"/>
<line x1="1138.70" y1="539.0" x2="1138.70" y2="795.8" stroke="#ebebeb" stroke-width="2"/>
<line x1="1152.44" y1="539.0" x2="1152.44" y2="795.8" stroke="#ebebeb" stroke-width="2"/>
<line x1="1166.19" y1="539.0" x2="1166.19" y2="795.8" stroke="#ebebeb" stroke-width="2"/>
<line x1="1179.94" y1="539.0" x2="1179.94" y2="795.8" stroke="#ebebeb" stroke-width="2"/>
<line x1="1193.68" y1="539.0" x2="1193.68" y2="795.8" stroke="#ebebeb" stroke-width="2"/>
<line x1="1207.43" y1="539.0" x2="1207.43" y2="795.8" stroke="#ebebeb" stroke-width="2"/>
<line x1="1221.18" y1="539.0" x2="1221.18" y2="795.8" stroke="#ebebeb" stroke-width="2"/>
<line x1="1234.93" y1="539.0" x2="1234.93" y2="795.8" stroke="#ebebeb" stroke-width="2"/>
<line x1="1248.67" y1="539.0" x2="1248.67" y2="795.8" stroke="#ebebeb" stroke-width="2"/>
<line x1="1262.42" y1="539.0" x2="1262.42" y2="795.8" stroke="#ebebeb" stroke-width="2"/>
<line x1="1276.17" y1="539.0" x2="1276.17" y2="795.8" stroke="#ebebeb" stroke-width="2"/>
<line x1="1289.91" y1="539.0" x2="1289.91" y2="795.8" stroke="#ebebeb" stroke-width="2"/>
<line x1="1303.66" y1="539.0" x2="1303.66" y2="795.8" stroke="#ebebeb" stroke-width="2"/>
<line x1="1317.41" y1="539.0" x2="1317.41" y2="795.8" stroke="#ebebeb" stroke-width="2"/>
<line x1="1331.15" y1="539.0" x2="1331.15" y2="795.8" stroke="#ebebeb" stroke-width="2"/>
<line x1="1344.90" y1="539.0" x2="1344.90" y2="795.8" stroke="#ebebeb" stroke-width="2"/>
<line x1="1358.65" y1="539.0" x2="1358.65" y2="795.8" stroke="#ebebeb" stroke-width="2"/>
<line x1="1372.39" y1="539.0" x2="1372.39" y2="795.8" stroke="#ebebeb" stroke-width="2"/>
<line x1="1386.14" y1="539.0" x2="1386.14" y2="795.8" stroke="#ebebeb" stroke-width="2"/>
<line x1="1399.89" y1="539.0" x2="1399.89" y2="795.8" stroke="#ebebeb" stroke-width="2"/>
<line x1="1413.64" y1="539.0" x2="1413.64" y2="795.8" stroke="#ebebeb" stroke-width="2"/>
<line x1="1427.38" y1="539.0" x2="1427.38" y2="795.8" stroke="#ebebeb" stroke-width="2"/>
<line x1="1441.13" y1="539.0" x2="1441.13" y2="795.8" stroke="#ebebeb" stroke-width="2"/>
<line x1="1454.88" y1="539.0" x2="1454.88" y2="795.8" stroke="#ebebeb" stroke-width="2"/>
<line x1="1468.62" y1="539.0" x2="1468.62" y2="795.8" stroke="#ebebeb" stroke-width="2"/>
<line x1="1482.37" y1="539.0" x2="1482.37" y2="795.8" stroke="#ebebeb" stroke-width="2"/>
<line x1="1496.12" y1="539.0" x2="1496.12" y2="795.8" stroke="#ebebeb" stroke-width="2"/>
<line x1="1509.87" y1="539.0" x2="1509.87" y2="795.8" stroke="#ebebeb" stroke-width="2"/>
<line x1="1523.61" y1="539.0" x2="1523.61" y2="795.8" stroke="#ebebeb" stroke-width="2"/>
<line x1="1537.36" y1="539.0" x2="1537.36" y2="795.8" stroke="#ebebeb" stroke-width="2"/>
<line x1="1551.11" y1="539.0" x2="1551.11" y2="795.8" stroke="#ebebeb" stroke-width="2"/>
<line x1="1564.85" y1="539.0" x2="1564.85" y2="795.8" stroke="#ebebeb" stroke-width="2"/>
<line x1="1578.60" y1="539.0" x2="1578.60" y2="795.8" stroke="#ebebeb" stroke-width="2"/>
<line x1="1592.35" y1="539.0" x2="1592.35" y2="795.8" stroke="#ebebeb" stroke-width="2"/>
<line x1="1606.09" y1="539.0" x2="1606.09" y2="795.8" stroke="#ebebeb" stroke-width="2"/>
<line x1="1619.84" y1="539.0" x2="1619.84" y2="795.8" stroke="#ebebeb" stroke-width="2"/>
<line x1="1633.59" y1="539.0" x2="1633.59" y2="795.8" stroke="#ebebeb" stroke-width="2"/>
<line x1="1647.34" y1="539.0" x2="1647.34" y2="795.8" stroke="#ebebeb" stroke-width="2"/>
<line x1="1661.08" y1="539.0" x2="1661.08" y2="795.8" stroke="#ebebeb" stroke-width="2"/>
<line x1="1674.83" y1="539.0" x2="1674.83" y2="795.8" stroke="#ebebeb" stroke-width="2"/>
<line x1="1688.58" y1="539.0" x2="1688.58" y2="795.8" stroke="#ebebeb" stroke-width="2"/>
<line x1="1702.32" y1="539.0" x2="1702.32" y2="795.8" stroke="#ebebeb" stroke-width="2"/>
<line x1="1716.07" y1="539.0" x2="1716.07" y2="795.8" stroke="#ebebeb" stroke-width="2"/>
<line x1="1729.82" y1="539.0" x2="1729.82" y2="795.8" stroke="#ebebeb" stroke-width="2"/>
<line x1="1743.56" y1="539.0" x2="1743.56" y2="795.8" stroke="#ebebeb" stroke-width="2"/>
<line x1="1757.31" y1="539.0" x2="1757.31" y2="795.8" stroke="#ebebeb" stroke-width="2"/>
<line x1="1771.06" y1="539.0" x2="1771.06" y2="795.8" stroke="#ebebeb" stroke-width="2"/>
<line x1="1784.81" y1="539.0" x2="1784.81" y2="795.8" stroke="#ebebeb" stroke-width="2"/>
<line x1="1798.55" y1="539.0" x2="1798.55" y2="795.8" stroke="#ebebeb" stroke-width="2"/>
<line x1="1812.30" y1="539.0" x2="1812.30" y2="795.8" stroke="#ebebeb" stroke-width="2"/>
<line x1="195.6" y1="763.80" x2="1820.2" y2="763.80" stroke="#ebebeb" stroke-width="1.1"/>
<line x1="195.6" y1="710.00" x2="1820.2" y2="710.00" stroke="#ebebeb" stroke-width="1.1"/>
<line x1="195.6" y1="656.20" x2="1820.2" y2="656.20" stroke="#ebebeb" stroke-width="1.1"/>
<line x1="195.6" y1="602.40" x2="1820.2" y2="602.40" stroke="#ebebeb" stroke-width="1.1"/>
<line x1="195.6" y1="548.60" x2="1820.2" y2="548.60" stroke="#ebebeb" stroke-width="1.1"/>
<line x1="195.6" y1="790.70" x2="1820.2" y2="790.70" stroke="#ebebeb" stroke-width="2"/>
<line x1="195.6" y1="736.90" x2="1820.2" y2="736.90" stroke="#ebebeb" stroke-width="2"/>
<line x1="195.6" y1="683.10" x2="1820.2" y2="683.10" stroke="#ebebeb" stroke-width="2"/>
<line x1="195.6" y1="629.30" x2="1820.2" y2="629.30" stroke="#ebebeb" stroke-width="2"/>
<line x1="195.6" y1="575.50" x2="1820.2" y2="575.50" stroke="#ebebeb" stroke-width="2"/>
</g>
<line x1="195.6" y1="570.2" x2="1820.2" y2="570.2" stroke="#000" stroke-width="2.3"/>
<line x1="195.6" y1="629.3" x2="1820.2" y2="629.3" stroke="#000" stroke-width="2.3" stroke-dasharray="7.5 7.54"/>
<g>
<rect x="202.00" y="585.50" width="3.8" height="199.00" fill="#a0d6ef"/>
<rect x="215.75" y="589.50" width="3.8" height="162.30" fill="#a0d6ef"/>
<rect x="229.49" y="585.50" width="3.8" height="103.00" fill="#8fc1e8"/>
<rect x="243.24" y="589.30" width="3.8" height="135.10" fill="#88b7e5"/>
<rect x="256.99" y="587.90" width="3.8" height="106.70" fill="#79a5e1"/>
<rect x="270.74" y="579.10" width="3.8" height="108.60" fill="#6b95de"/>
<rect x="284.48" y="574.10" width="3.8" height="99.20" fill="#6891dd"/>
<rect x="298.23" y="574.10" width="3.8" height="95.70" fill="#668fdd"/>
<rect x="311.98" y="576.20" width="3.8" height="99.80" fill="#668fdd"/>
<rect x="325.72" y="587.10" width="3.8" height="109.30" fill="#658edd"/>
<rect x="339.47" y="588.20" width="3.8" height="186.70" fill="#658edd"/>
<rect x="353.22" y="586.60" width="3.8" height="97.40" fill="#638bdc"/>
<rect x="366.96" y="582.10" width="3.8" height="91.20" fill="#6189dc"/>
<rect x="380.71" y="581.00" width="3.8" height="101.90" fill="#6088dc"/>
<rect x="394.46" y="583.10" width="3.8" height="104.00" fill="#5882db"/>
<rect x="408.21" y="584.70" width="3.8" height="109.90" fill="#537eda"/>
<rect x="421.95" y="584.70" width="3.8" height="93.40" fill="#4b78d9"/>
<rect x="435.70" y="585.80" width="3.8" height="119.40" fill="#4774d9"/>
<rect x="449.45" y="577.00" width="3.8" height="81.70" fill="#4572d8"/>
<rect x="463.19" y="586.10" width="3.8" height="128.40" fill="#4572d8"/>
<rect x="476.94" y="587.10" width="3.8" height="108.30" fill="#4270d8"/>
<rect x="490.69" y="568.50" width="3.8" height="90.40" fill="#3e6ed8"/>
<rect x="504.43" y="571.70" width="3.8" height="92.80" fill="#3e6ed8"/>
<rect x="518.18" y="569.80" width="3.8" height="85.90" fill="#3e6ed8"/>
<rect x="531.93" y="572.20" width="3.8" height="87.50" fill="#3e6ed8"/>
<rect x="545.68" y="586.60" width="3.8" height="94.40" fill="#3b6dd8"/>
<rect x="559.42" y="586.30" width="3.8" height="117.10" fill="#3b6dd8"/>
<rect x="573.17" y="586.30" width="3.8" height="107.20" fill="#3469d9"/>
<rect x="586.92" y="562.90" width="3.8" height="108.30" fill="#2e66d9"/>
<rect x="600.66" y="568.50" width="3.8" height="89.10" fill="#2763d9"/>
<rect x="614.41" y="583.10" width="3.8" height="112.50" fill="#2a64d9"/>
<rect x="628.16" y="570.40" width="3.8" height="90.90" fill="#2461da"/>
<rect x="641.90" y="577.30" width="3.8" height="106.40" fill="#2461da"/>
<rect x="655.65" y="567.40" width="3.8" height="97.40" fill="#1e5eda"/>
<rect x="669.40" y="567.20" width="3.8" height="94.40" fill="#1e5eda"/>
<rect x="683.14" y="562.10" width="3.8" height="95.80" fill="#1a5cda"/>
<rect x="696.89" y="569.80" width="3.8" height="92.10" fill="#1a5cda"/>
<rect x="710.64" y="582.10" width="3.8" height="79.80" fill="#1a5cda"/>
<rect x="724.39" y="559.70" width="3.8" height="105.90" fill="#1a5cda"/>
<rect x="738.13" y="585.00" width="3.8" height="100.50" fill="#1a5cda"/>
<rect x="751.88" y="557.60" width="3.8" height="93.90" fill="#1c5ed6"/>
<rect x="765.63" y="569.80" width="3.8" height="88.10" fill="#1c5ed6"/>
<rect x="779.37" y="562.10" width="3.8" height="90.50" fill="#1e60d3"/>
<rect x="793.12" y="557.60" width="3.8" height="104.00" fill="#1e60d3"/>
<rect x="806.87" y="566.90" width="3.8" height="85.40" fill="#1e60d3"/>
<rect x="820.62" y="578.40" width="3.8" height="110.30" fill="#1e60d3"/>
<rect x="834.36" y="567.20" width="3.8" height="87.20" fill="#1e60d3"/>
<rect x="848.11" y="554.10" width="3.8" height="104.80" fill="#1e60d3"/>
<rect x="861.86" y="573.60" width="3.8" height="77.10" fill="#1e60d2"/>
<rect x="875.60" y="577.00" width="3.8" height="73.20" fill="#2062d0"/>
<rect x="889.35" y="568.50" width="3.8" height="80.90" fill="#2062cf"/>
<rect x="903.10" y="561.30" width="3.8" height="89.40" fill="#2062cf"/>
<rect x="916.84" y="555.50" width="3.8" height="111.70" fill="#2264cc"/>
<rect x="930.59" y="565.10" width="3.8" height="81.10" fill="#2264cc"/>
<rect x="944.34" y="560.50" width="3.8" height="104.80" fill="#2264cc"/>
<rect x="958.09" y="563.20" width="3.8" height="109.30" fill="#2264cc"/>
<rect x="971.83" y="583.40" width="3.8" height="88.60" fill="#2264cc"/>
<rect x="985.58" y="569.30" width="3.8" height="78.50" fill="#2264cc"/>
<rect x="999.33" y="565.10" width="3.8" height="81.10" fill="#2265ca"/>
<rect x="1013.07" y="560.80" width="3.8" height="84.00" fill="#2265c9"/>
<rect x="1026.82" y="572.20" width="3.8" height="82.80" fill="#2266c8"/>
<rect x="1040.57" y="564.30" width="3.8" height="93.80" fill="#2266c8"/>
<rect x="1054.31" y="567.40" width="3.8" height="102.20" fill="#2266c8"/>
<rect x="1068.06" y="582.10" width="3.8" height="90.70" fill="#2266c8"/>
<rect x="1081.81" y="558.90" width="3.8" height="102.70" fill="#2266c8"/>
<rect x="1095.55" y="569.60" width="3.8" height="77.10" fill="#2266c8"/>
<rect x="1109.30" y="555.50" width="3.8" height="104.20" fill="#2266c7"/>
<rect x="1123.05" y="565.60" width="3.8" height="83.20" fill="#2266c7"/>
<rect x="1136.80" y="582.10" width="3.8" height="88.50" fill="#2266c7"/>
<rect x="1150.54" y="567.40" width="3.8" height="77.20" fill="#2266c6"/>
<rect x="1164.29" y="584.70" width="3.8" height="106.90" fill="#2266c6"/>
<rect x="1178.04" y="583.40" width="3.8" height="115.40" fill="#2266c6"/>
<rect x="1191.78" y="555.50" width="3.8" height="93.30" fill="#2267c5"/>
<rect x="1205.53" y="563.50" width="3.8" height="91.20" fill="#2267c5"/>
<rect x="1219.28" y="551.50" width="3.8" height="107.20" fill="#2367c4"/>
<rect x="1233.03" y="556.30" width="3.8" height="98.10" fill="#236abf"/>
<rect x="1246.77" y="558.10" width="3.8" height="83.00" fill="#236abf"/>
<rect x="1260.52" y="567.40" width="3.8" height="86.50" fill="#236abf"/>
<rect x="1274.27" y="551.50" width="3.8" height="113.80" fill="#236abf"/>
<rect x="1288.01" y="574.40" width="3.8" height="77.60" fill="#236abd"/>
<rect x="1301.76" y="570.40" width="3.8" height="74.70" fill="#236abd"/>
<rect x="1315.51" y="560.30" width="3.8" height="91.70" fill="#236bbc"/>
<rect x="1329.25" y="555.50" width="3.8" height="88.30" fill="#236bbc"/>
<rect x="1343.00" y="555.50" width="3.8" height="114.10" fill="#236bbc"/>
<rect x="1356.75" y="569.60" width="3.8" height="72.00" fill="#236bbc"/>
<rect x="1370.49" y="578.10" width="3.8" height="76.90" fill="#226cbb"/>
<rect x="1384.24" y="561.10" width="3.8" height="71.50" fill="#226dba"/>
<rect x="1397.99" y="551.00" width="3.8" height="111.70" fill="#226dba"/>
<rect x="1411.74" y="569.60" width="3.8" height="113.80" fill="#226dba"/>
<rect x="1425.48" y="577.00" width="3.8" height="79.50" fill="#226eb7"/>
<rect x="1439.23" y="563.50" width="3.8" height="98.60" fill="#216fb5"/>
<rect x="1452.98" y="571.70" width="3.8" height="79.00" fill="#216fb5"/>
<rect x="1466.72" y="551.20" width="3.8" height="116.00" fill="#2170b4"/>
<rect x="1480.47" y="553.40" width="3.8" height="85.30" fill="#2170b4"/>
<rect x="1494.22" y="555.00" width="3.8" height="103.40" fill="#2171b2"/>
<rect x="1507.96" y="562.90" width="3.8" height="80.30" fill="#2171b2"/>
<rect x="1521.71" y="562.10" width="3.8" height="76.90" fill="#2171b2"/>
<rect x="1535.46" y="569.60" width="3.8" height="70.50" fill="#2171b2"/>
<rect x="1549.21" y="558.10" width="3.8" height="82.20" fill="#2171b2"/>
<rect x="1562.95" y="573.80" width="3.8" height="123.70" fill="#2172b0"/>
<rect x="1576.70" y="574.90" width="3.8" height="141.00" fill="#2172b0"/>
<rect x="1590.45" y="575.70" width="3.8" height="86.70" fill="#2172b0"/>
<rect x="1604.19" y="558.10" width="3.8" height="76.40" fill="#2073af"/>
<rect x="1617.94" y="560.00" width="3.8" height="96.80" fill="#2074ad"/>
<rect x="1631.69" y="557.10" width="3.8" height="99.40" fill="#2075aa"/>
<rect x="1645.43" y="558.10" width="3.8" height="77.40" fill="#1f77a8"/>
<rect x="1659.18" y="561.90" width="3.8" height="80.80" fill="#1f77a7"/>
<rect x="1672.93" y="554.10" width="3.8" height="95.30" fill="#1f78a6"/>
<rect x="1686.68" y="560.30" width="3.8" height="79.80" fill="#1e7aa3"/>
<rect x="1700.42" y="566.40" width="3.8" height="192.00" fill="#1d7ba2"/>
<rect x="1714.17" y="572.80" width="3.8" height="98.40" fill="#1d7ca0"/>
<rect x="1727.92" y="560.30" width="3.8" height="84.00" fill="#1d7ca0"/>
<rect x="1741.66" y="564.30" width="3.8" height="170.20" fill="#1c7e9d"/>
<rect x="1755.41" y="557.60" width="3.8" height="79.80" fill="#198297"/>
<rect x="1769.16" y="565.30" width="3.8" height="108.50" fill="#198297"/>
<rect x="1782.90" y="566.90" width="3.8" height="195.50" fill="#198297"/>
<rect x="1796.65" y="552.30" width="3.8" height="100.50" fill="#198396"/>
<rect x="1810.40" y="568.80" width="3.8" height="101.30" fill="#188494"/>
</g>
<g stroke="#000" stroke-width="1.2">
<circle cx="203.90" cy="635.50" r="7.45" fill="#a0d6ef"/>
<circle cx="217.65" cy="634.70" r="7.45" fill="#a0d6ef"/>
<circle cx="231.39" cy="631.50" r="7.45" fill="#8fc1e8"/>
<circle cx="245.14" cy="630.00" r="7.45" fill="#88b7e5"/>
<circle cx="258.89" cy="627.60" r="7.45" fill="#79a5e1"/>
<circle cx="272.63" cy="625.40" r="7.45" fill="#6b95de"/>
<circle cx="286.38" cy="624.90" r="7.45" fill="#6891dd"/>
<circle cx="300.13" cy="624.60" r="7.45" fill="#668fdd"/>
<circle cx="313.88" cy="624.60" r="7.45" fill="#668fdd"/>
<circle cx="327.62" cy="624.40" r="7.45" fill="#658edd"/>
<circle cx="341.37" cy="624.40" r="7.45" fill="#658edd"/>
<circle cx="355.12" cy="624.10" r="7.45" fill="#638bdc"/>
<circle cx="368.86" cy="623.80" r="7.45" fill="#6189dc"/>
<circle cx="382.61" cy="623.60" r="7.45" fill="#6088dc"/>
<circle cx="396.36" cy="622.20" r="7.45" fill="#5882db"/>
<circle cx="410.11" cy="621.40" r="7.45" fill="#537eda"/>
<circle cx="423.85" cy="620.10" r="7.45" fill="#4b78d9"/>
<circle cx="437.60" cy="619.30" r="7.45" fill="#4774d9"/>
<circle cx="451.35" cy="619.00" r="7.45" fill="#4572d8"/>
<circle cx="465.09" cy="619.00" r="7.45" fill="#4572d8"/>
<circle cx="478.84" cy="618.50" r="7.45" fill="#4270d8"/>
<circle cx="492.59" cy="618.20" r="7.45" fill="#3e6ed8"/>
<circle cx="506.33" cy="618.20" r="7.45" fill="#3e6ed8"/>
<circle cx="520.08" cy="618.20" r="7.45" fill="#3e6ed8"/>
<circle cx="533.83" cy="618.20" r="7.45" fill="#3e6ed8"/>
<circle cx="547.58" cy="618.00" r="7.45" fill="#3b6dd8"/>
<circle cx="561.32" cy="618.00" r="7.45" fill="#3b6dd8"/>
<circle cx="575.07" cy="617.40" r="7.45" fill="#3469d9"/>
<circle cx="588.82" cy="616.90" r="7.45" fill="#2e66d9"/>
<circle cx="602.56" cy="616.40" r="7.45" fill="#2763d9"/>
<circle cx="616.31" cy="616.60" r="7.45" fill="#2a64d9"/>
<circle cx="630.06" cy="616.10" r="7.45" fill="#2461da"/>
<circle cx="643.80" cy="616.10" r="7.45" fill="#2461da"/>
<circle cx="657.55" cy="615.60" r="7.45" fill="#1e5eda"/>
<circle cx="671.30" cy="615.60" r="7.45" fill="#1e5eda"/>
<circle cx="685.04" cy="615.30" r="7.45" fill="#1a5cda"/>
<circle cx="698.79" cy="615.30" r="7.45" fill="#1a5cda"/>
<circle cx="712.54" cy="615.30" r="7.45" fill="#1a5cda"/>
<circle cx="726.29" cy="615.30" r="7.45" fill="#1a5cda"/>
<circle cx="740.03" cy="615.30" r="7.45" fill="#1a5cda"/>
<circle cx="753.78" cy="614.50" r="7.45" fill="#1c5ed6"/>
<circle cx="767.53" cy="614.50" r="7.45" fill="#1c5ed6"/>
<circle cx="781.27" cy="613.70" r="7.45" fill="#1e60d3"/>
<circle cx="795.02" cy="613.70" r="7.45" fill="#1e60d3"/>
<circle cx="808.77" cy="613.70" r="7.45" fill="#1e60d3"/>
<circle cx="822.51" cy="613.70" r="7.45" fill="#1e60d3"/>
<circle cx="836.26" cy="613.70" r="7.45" fill="#1e60d3"/>
<circle cx="850.01" cy="613.70" r="7.45" fill="#1e60d3"/>
<circle cx="863.76" cy="613.50" r="7.45" fill="#1e60d2"/>
<circle cx="877.50" cy="612.90" r="7.45" fill="#2062d0"/>
<circle cx="891.25" cy="612.70" r="7.45" fill="#2062cf"/>
<circle cx="905.00" cy="612.70" r="7.45" fill="#2062cf"/>
<circle cx="918.74" cy="612.10" r="7.45" fill="#2264cc"/>
<circle cx="932.49" cy="612.10" r="7.45" fill="#2264cc"/>
<circle cx="946.24" cy="612.10" r="7.45" fill="#2264cc"/>
<circle cx="959.99" cy="612.10" r="7.45" fill="#2264cc"/>
<circle cx="973.73" cy="612.10" r="7.45" fill="#2264cc"/>
<circle cx="987.48" cy="612.10" r="7.45" fill="#2264cc"/>
<circle cx="1001.23" cy="611.60" r="7.45" fill="#2265ca"/>
<circle cx="1014.97" cy="611.10" r="7.45" fill="#2265c9"/>
<circle cx="1028.72" cy="610.80" r="7.45" fill="#2266c8"/>
<circle cx="1042.47" cy="610.80" r="7.45" fill="#2266c8"/>
<circle cx="1056.21" cy="610.80" r="7.45" fill="#2266c8"/>
<circle cx="1069.96" cy="610.80" r="7.45" fill="#2266c8"/>
<circle cx="1083.71" cy="610.80" r="7.45" fill="#2266c8"/>
<circle cx="1097.45" cy="610.80" r="7.45" fill="#2266c8"/>
<circle cx="1111.20" cy="610.50" r="7.45" fill="#2266c7"/>
<circle cx="1124.95" cy="610.50" r="7.45" fill="#2266c7"/>
<circle cx="1138.70" cy="610.50" r="7.45" fill="#2266c7"/>
<circle cx="1152.44" cy="610.30" r="7.45" fill="#2266c6"/>
<circle cx="1166.19" cy="610.30" r="7.45" fill="#2266c6"/>
<circle cx="1179.94" cy="610.30" r="7.45" fill="#2266c6"/>
<circle cx="1193.68" cy="610.00" r="7.45" fill="#2267c5"/>
<circle cx="1207.43" cy="610.00" r="7.45" fill="#2267c5"/>
<circle cx="1221.18" cy="609.70" r="7.45" fill="#2367c4"/>
<circle cx="1234.93" cy="608.10" r="7.45" fill="#236abf"/>
<circle cx="1248.67" cy="608.10" r="7.45" fill="#236abf"/>
<circle cx="1262.42" cy="608.10" r="7.45" fill="#236abf"/>
<circle cx="1276.17" cy="608.10" r="7.45" fill="#236abf"/>
<circle cx="1289.91" cy="607.60" r="7.45" fill="#236abd"/>
<circle cx="1303.66" cy="607.60" r="7.45" fill="#236abd"/>
<circle cx="1317.41" cy="607.30" r="7.45" fill="#236bbc"/>
<circle cx="1331.15" cy="607.30" r="7.45" fill="#236bbc"/>
<circle cx="1344.90" cy="607.30" r="7.45" fill="#236bbc"/>
<circle cx="1358.65" cy="607.30" r="7.45" fill="#236bbc"/>
<circle cx="1372.39" cy="607.10" r="7.45" fill="#226cbb"/>
<circle cx="1386.14" cy="606.80" r="7.45" fill="#226dba"/>
<circle cx="1399.89" cy="606.80" r="7.45" fill="#226dba"/>
<circle cx="1413.64" cy="606.80" r="7.45" fill="#226dba"/>
<circle cx="1427.38" cy="606.30" r="7.45" fill="#226eb7"/>
<circle cx="1441.13" cy="605.70" r="7.45" fill="#216fb5"/>
<circle cx="1454.88" cy="605.70" r="7.45" fill="#216fb5"/>
<circle cx="1468.62" cy="605.50" r="7.45" fill="#2170b4"/>
<circle cx="1482.37" cy="605.50" r="7.45" fill="#2170b4"/>
<circle cx="1496.12" cy="605.20" r="7.45" fill="#2171b2"/>
<circle cx="1509.87" cy="605.20" r="7.45" fill="#2171b2"/>
<circle cx="1523.61" cy="605.20" r="7.45" fill="#2171b2"/>
<circle cx="1537.36" cy="605.20" r="7.45" fill="#2171b2"/>
<circle cx="1551.11" cy="605.20" r="7.45" fill="#2171b2"/>
<circle cx="1564.85" cy="604.70" r="7.45" fill="#2172b0"/>
<circle cx="1578.60" cy="604.70" r="7.45" fill="#2172b0"/>
<circle cx="1592.35" cy="604.70" r="7.45" fill="#2172b0"/>
<circle cx="1606.09" cy="604.40" r="7.45" fill="#2073af"/>
<circle cx="1619.84" cy="603.90" r="7.45" fill="#2074ad"/>
<circle cx="1633.59" cy="603.40" r="7.45" fill="#2075aa"/>
<circle cx="1647.34" cy="602.80" r="7.45" fill="#1f77a8"/>
<circle cx="1661.08" cy="602.60" r="7.45" fill="#1f77a7"/>
<circle cx="1674.83" cy="602.30" r="7.45" fill="#1f78a6"/>
<circle cx="1688.58" cy="601.80" r="7.45" fill="#1e7aa3"/>
<circle cx="1702.32" cy="601.50" r="7.45" fill="#1d7ba2"/>
<circle cx="1716.07" cy="601.00" r="7.45" fill="#1d7ca0"/>
<circle cx="1729.82" cy="601.00" r="7.45" fill="#1d7ca0"/>
<circle cx="1743.56" cy="600.40" r="7.45" fill="#1c7e9d"/>
<circle cx="1757.31" cy="599.10" r="7.45" fill="#198297"/>
<circle cx="1771.06" cy="599.10" r="7.45" fill="#198297"/>
<circle cx="1784.81" cy="599.10" r="7.45" fill="#198297"/>
<circle cx="1798.55" cy="598.80" r="7.45" fill="#198396"/>
<circle cx="1812.30" cy="598.30" r="7.45" fill="#188494"/>
</g>
<g font-size="15.8" fill="#4d4d4d" text-anchor="end">
<text x="186.6" y="580.95">50</text>
<text x="186.6" y="634.75">0</text>
<text x="186.6" y="688.55">−50</text>
<text x="186.6" y="742.35">−100</text>
<text x="186.6" y="796.15">−150</text>
</g>
<text transform="translate(143.4,671.4) rotate(-90)" text-anchor="middle" font-size="20" fill="#000">% reduction in incidence</text>
<text x="195.9" y="523.7" font-size="22.7" fill="#000">b)</text>
<g font-size="15.8" fill="#4d4d4d" text-anchor="end">
<text transform="translate(214.80,804.6) rotate(-90)">Payar</text>
<text transform="translate(228.55,804.6) rotate(-90)">Pass Koto</text>
<text transform="translate(242.29,804.6) rotate(-90)">Sinthiou Maleme</text>
<text transform="translate(256.04,804.6) rotate(-90)">Kouthia Gaydi</text>
<text transform="translate(269.79,804.6) rotate(-90)">Sinthiou Fissa</text>
<text transform="translate(283.53,804.6) rotate(-90)">Sadatou</text>
<text transform="translate(297.28,804.6) rotate(-90)">Goumbayel</text>
<text transform="translate(311.03,804.6) rotate(-90)">Komoti</text>
<text transform="translate(324.78,804.6) rotate(-90)">Dianke Makha</text>
<text transform="translate(338.52,804.6) rotate(-90)">Toumboura</text>
<text transform="translate(352.27,804.6) rotate(-90)">Kouthiaba Ouolof</text>
<text transform="translate(366.02,804.6) rotate(-90)">Madina Foulbe</text>
<text transform="translate(379.76,804.6) rotate(-90)">Koar</text>
<text transform="translate(393.51,804.6) rotate(-90)">Bala</text>
<text transform="translate(407.26,804.6) rotate(-90)">Koussan</text>
<text transform="translate(421.00,804.6) rotate(-90)">Gathiary</text>
<text transform="translate(434.75,804.6) rotate(-90)">Boynguel Bamba</text>
<text transform="translate(448.50,804.6) rotate(-90)">Koussanar</text>
<text transform="translate(462.25,804.6) rotate(-90)">Bani Israel</text>
<text transform="translate(475.99,804.6) rotate(-90)">Ndame</text>
<text transform="translate(489.74,804.6) rotate(-90)">Mereto</text>
<text transform="translate(503.49,804.6) rotate(-90)">Koulinto</text>
<text transform="translate(517.23,804.6) rotate(-90)">Missirah Sirimana</text>
<text transform="translate(530.98,804.6) rotate(-90)">Boutoucoufara</text>
<text transform="translate(544.73,804.6) rotate(-90)">Boghal</text>
<text transform="translate(558.48,804.6) rotate(-90)">Sinthiou Bocar Ali</text>
<text transform="translate(572.22,804.6) rotate(-90)">Makacoulibantang</text>
<text transform="translate(585.97,804.6) rotate(-90)">Koulor</text>
<text transform="translate(599.72,804.6) rotate(-90)">Linkering</text>
<text transform="translate(613.46,804.6) rotate(-90)">Medina Gounass</text>
<text transform="translate(627.21,804.6) rotate(-90)">Niani Toucouleur</text>
<text transform="translate(640.96,804.6) rotate(-90)">Kandia</text>
<text transform="translate(654.70,804.6) rotate(-90)">Niaming</text>
<text transform="translate(668.45,804.6) rotate(-90)">Ndorna</text>
<text transform="translate(682.20,804.6) rotate(-90)">Faoune</text>
<text transform="translate(695.94,804.6) rotate(-90)">Sakar</text>
<text transform="translate(709.69,804.6) rotate(-90)">Tankon</text>
<text transform="translate(723.44,804.6) rotate(-90)">Kerewane</text>
<text transform="translate(737.19,804.6) rotate(-90)">Bagadadji</text>
<text transform="translate(750.93,804.6) rotate(-90)">Sinthiou Mamadou Boubou</text>
<text transform="translate(764.68,804.6) rotate(-90)">Paroumba</text>
<text transform="translate(778.43,804.6) rotate(-90)">Missirah (Tambacounda)</text>
<text transform="translate(792.17,804.6) rotate(-90)">Kandiaye</text>
<text transform="translate(805.92,804.6) rotate(-90)">Dialambere</text>
<text transform="translate(819.67,804.6) rotate(-90)">Khossanto</text>
<text transform="translate(833.41,804.6) rotate(-90)">Dougue</text>
<text transform="translate(847.16,804.6) rotate(-90)">Ninefecha</text>
<text transform="translate(860.91,804.6) rotate(-90)">Thietty</text>
<text transform="translate(874.66,804.6) rotate(-90)">Nemataba</text>
<text transform="translate(888.40,804.6) rotate(-90)">Bouroucou</text>
<text transform="translate(902.15,804.6) rotate(-90)">Tomboronkoto</text>
<text transform="translate(915.90,804.6) rotate(-90)">Diende</text>
<text transform="translate(929.64,804.6) rotate(-90)">Tankanto Escale</text>
<text transform="translate(943.39,804.6) rotate(-90)">Sare Coly Sale</text>
<text transform="translate(957.14,804.6) rotate(-90)">Kandion Mangana</text>
<text transform="translate(970.88,804.6) rotate(-90)">Diambaty</text>
<text transform="translate(984.63,804.6) rotate(-90)">Ngayene</text>
<text transform="translate(998.38,804.6) rotate(-90)">Kevoye</text>
<text transform="translate(1012.13,804.6) rotate(-90)">Djinani</text>
<text transform="translate(1025.87,804.6) rotate(-90)">Diaroume</text>
<text transform="translate(1039.62,804.6) rotate(-90)">Sinthiang Koundara</text>
<text transform="translate(1053.37,804.6) rotate(-90)">Fafacourou</text>
<text transform="translate(1067.11,804.6) rotate(-90)">Dialacoto</text>
<text transform="translate(1080.86,804.6) rotate(-90)">Kahene</text>
<text transform="translate(1094.61,804.6) rotate(-90)">Bignaraby</text>
<text transform="translate(1108.36,804.6) rotate(-90)">Dakately</text>
<text transform="translate(1122.10,804.6) rotate(-90)">Ouassadou</text>
<text transform="translate(1135.85,804.6) rotate(-90)">Dar Salam</text>
<text transform="translate(1149.60,804.6) rotate(-90)">Bamba Ndiayene</text>
<text transform="translate(1163.34,804.6) rotate(-90)">Sabodala</text>
<text transform="translate(1177.09,804.6) rotate(-90)">Bele</text>
<text transform="translate(1190.84,804.6) rotate(-90)">Ndoga Babacar</text>
<text transform="translate(1204.58,804.6) rotate(-90)">Pakour</text>
<text transform="translate(1218.33,804.6) rotate(-90)">Bonconto</text>
<text transform="translate(1232.08,804.6) rotate(-90)">Coumbacara</text>
<text transform="translate(1245.83,804.6) rotate(-90)">Same Kanta Peulh</text>
<text transform="translate(1259.57,804.6) rotate(-90)">Fongolimbi</text>
<text transform="translate(1273.32,804.6) rotate(-90)">Badion</text>
<text transform="translate(1287.07,804.6) rotate(-90)">Medina El Hadj</text>
<text transform="translate(1300.81,804.6) rotate(-90)">Dinguiraye (Kolda)</text>
<text transform="translate(1314.56,804.6) rotate(-90)">Ndiamalathiel</text>
<text transform="translate(1328.31,804.6) rotate(-90)">Inor</text>
<text transform="translate(1342.05,804.6) rotate(-90)">Sansamba</text>
<text transform="translate(1355.80,804.6) rotate(-90)">Mampatim</text>
<text transform="translate(1369.55,804.6) rotate(-90)">Bandafassi</text>
<text transform="translate(1383.30,804.6) rotate(-90)">Netteboulou</text>
<text transform="translate(1397.04,804.6) rotate(-90)">Dindefello</text>
<text transform="translate(1410.79,804.6) rotate(-90)">Niagha</text>
<text transform="translate(1424.54,804.6) rotate(-90)">Gagnick</text>
<text transform="translate(1438.28,804.6) rotate(-90)">Kayemor</text>
<text transform="translate(1452.03,804.6) rotate(-90)">Medina Cherif</text>
<text transform="translate(1465.78,804.6) rotate(-90)">Bembou</text>
<text transform="translate(1479.52,804.6) rotate(-90)">Guiro Yero Bocar</text>
<text transform="translate(1493.27,804.6) rotate(-90)">Mangaroungou Santo</text>
<text transform="translate(1507.02,804.6) rotate(-90)">Koussy</text>
<text transform="translate(1520.77,804.6) rotate(-90)">Bambali</text>
<text transform="translate(1534.51,804.6) rotate(-90)">Oubadji</text>
<text transform="translate(1548.26,804.6) rotate(-90)">Dimboly</text>
<text transform="translate(1562.01,804.6) rotate(-90)">Diouboudou</text>
<text transform="translate(1575.75,804.6) rotate(-90)">Ourour</text>
<text transform="translate(1589.50,804.6) rotate(-90)">Nguelou</text>
<text transform="translate(1603.25,804.6) rotate(-90)">Ndrame Escale</text>
<text transform="translate(1616.99,804.6) rotate(-90)">Bona</text>
<text transform="translate(1630.74,804.6) rotate(-90)">Thiare</text>
<text transform="translate(1644.49,804.6) rotate(-90)">Kolibantang</text>
<text transform="translate(1658.24,804.6) rotate(-90)">Diacounda</text>
<text transform="translate(1671.98,804.6) rotate(-90)">Medina Baffe</text>
<text transform="translate(1685.73,804.6) rotate(-90)">Diannah Ba</text>
<text transform="translate(1699.48,804.6) rotate(-90)">Ethiolo</text>
<text transform="translate(1713.22,804.6) rotate(-90)">Touba Lappe</text>
<text transform="translate(1726.97,804.6) rotate(-90)">Dara Mboss</text>
<text transform="translate(1740.72,804.6) rotate(-90)">Oudoucar</text>
<text transform="translate(1754.46,804.6) rotate(-90)">Gade Escale</text>
<text transform="translate(1768.21,804.6) rotate(-90)">Simbandi Brassou</text>
<text transform="translate(1781.96,804.6) rotate(-90)">Ngathie Naoude</text>
<text transform="translate(1795.71,804.6) rotate(-90)">Dinguiraye (Diourbel)</text>
<text transform="translate(1809.45,804.6) rotate(-90)">Karantaba</text>
<text transform="translate(1823.20,804.6) rotate(-90)">Ndiago</text>
</g>
<text x="1848.6" y="583.1" font-size="19.45" fill="#000">% Reduction in</text>
<text x="1848.6" y="604.0" font-size="19.45" fill="#000">incidence</text>
<defs><linearGradient id="cbg" x1="0" y1="1" x2="0" y2="0">
<stop offset="0.0056" stop-color="#a0d6ef"/>
<stop offset="0.1469" stop-color="#84b2e4"/>
<stop offset="0.2881" stop-color="#628adc"/>
<stop offset="0.4294" stop-color="#4270d8"/>
<stop offset="0.5141" stop-color="#1a5cda"/>
<stop offset="0.5989" stop-color="#2264cc"/>
<stop offset="0.7119" stop-color="#236abe"/>
<stop offset="0.8531" stop-color="#1f78a6"/>
<stop offset="0.9944" stop-color="#16888e"/>
</linearGradient></defs>
<rect x="1849.0" y="615.2" width="30.8" height="153.10" fill="url(#cbg)"/>
<g stroke="#fff" stroke-width="1.1" opacity="0.85">
<line x1="1849.0" y1="616.20" x2="1855.60" y2="616.20"/>
<line x1="1873.20" y1="616.20" x2="1879.80" y2="616.20"/>
<line x1="1849.0" y1="637.80" x2="1855.60" y2="637.80"/>
<line x1="1873.20" y1="637.80" x2="1879.80" y2="637.80"/>
<line x1="1849.0" y1="659.40" x2="1855.60" y2="659.40"/>
<line x1="1873.20" y1="659.40" x2="1879.80" y2="659.40"/>
<line x1="1849.0" y1="681.00" x2="1855.60" y2="681.00"/>
<line x1="1873.20" y1="681.00" x2="1879.80" y2="681.00"/>
<line x1="1849.0" y1="702.60" x2="1855.60" y2="702.60"/>
<line x1="1873.20" y1="702.60" x2="1879.80" y2="702.60"/>
<line x1="1849.0" y1="724.20" x2="1855.60" y2="724.20"/>
<line x1="1873.20" y1="724.20" x2="1879.80" y2="724.20"/>
<line x1="1849.0" y1="745.80" x2="1855.60" y2="745.80"/>
<line x1="1873.20" y1="745.80" x2="1879.80" y2="745.80"/>
<line x1="1849.0" y1="767.40" x2="1855.60" y2="767.40"/>
<line x1="1873.20" y1="767.40" x2="1879.80" y2="767.40"/>
</g>
<g font-size="15.6" fill="#000">
<text x="1890.3" y="621.55">30</text>
<text x="1890.3" y="643.15">25</text>
<text x="1890.3" y="664.75">20</text>
<text x="1890.3" y="686.35">15</text>
<text x="1890.3" y="707.95">10</text>
<text x="1890.3" y="729.55">5</text>
<text x="1890.3" y="751.15">0</text>
<text x="1890.3" y="772.75">−5</text>
</g>
</svg></body></html>
